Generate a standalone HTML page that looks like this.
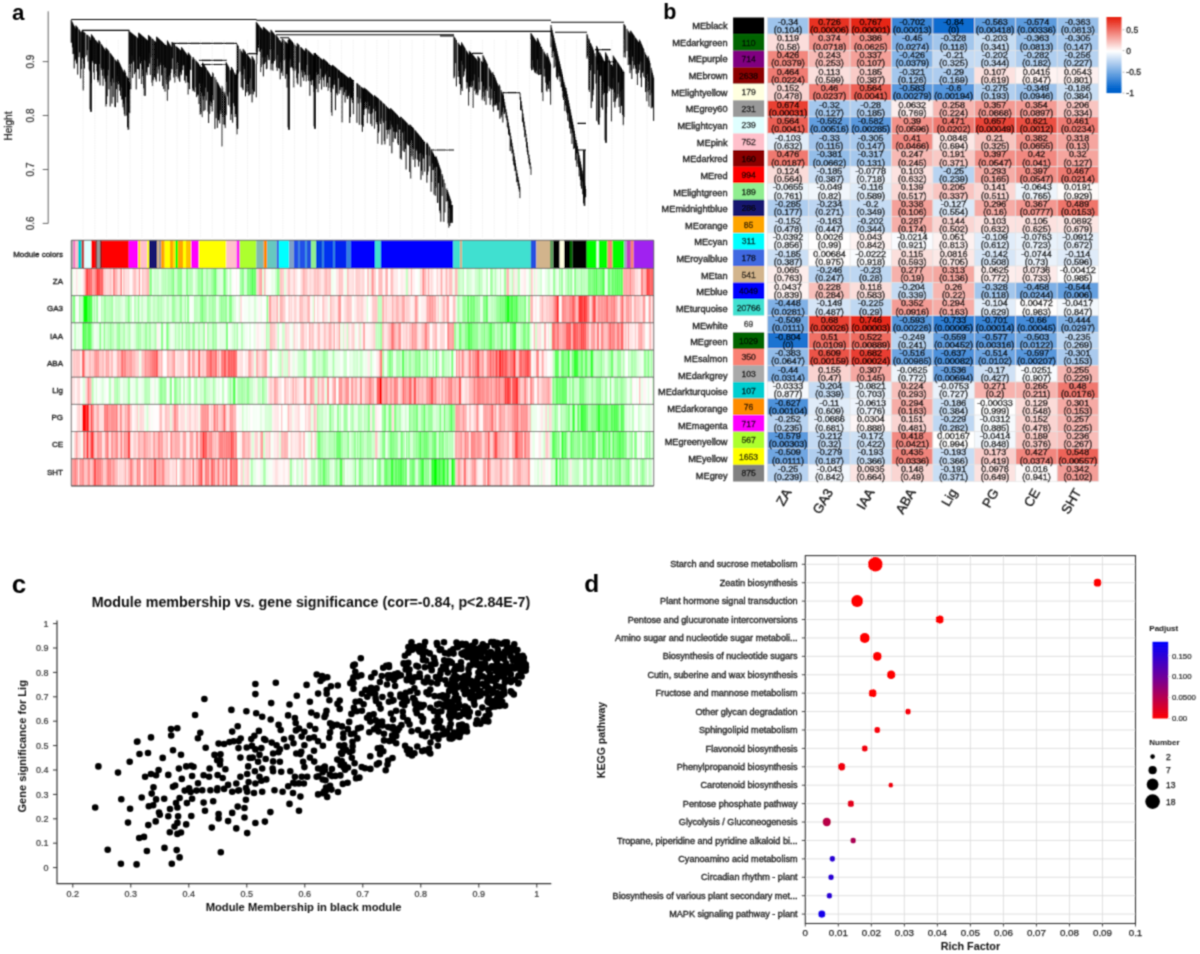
<!DOCTYPE html>
<html><head><meta charset="utf-8"><title>Figure</title><style>
*{margin:0;padding:0}
html,body{width:1200px;height:954px;background:#fff;overflow:hidden}
svg{display:block}
text{font-family:"Liberation Sans",sans-serif}
.lab{font-size:23px;font-weight:bold;fill:#000}
.rl{font-size:9.2px;text-anchor:end;fill:#111;stroke:#111;stroke-width:0.3px}
.bn{font-size:8.6px;text-anchor:middle;fill:#000;stroke:#000;stroke-width:0.3px}
.ct text{font-size:9px;text-anchor:middle;fill:#000;stroke:#000;stroke-width:0.42px}
.cl{font-size:13.3px;text-anchor:end;fill:#111;stroke:#111;stroke-width:0.3px}
.lgt{font-size:8.5px;fill:#222;stroke:#222;stroke-width:0.3px}
.dl{font-size:9.1px;text-anchor:end;fill:#111;stroke:#111;stroke-width:0.3px}
.dx{font-size:9.8px;text-anchor:middle;fill:#222;stroke:#222;stroke-width:0.25px}
.dax{font-size:10.8px;font-weight:bold;text-anchor:middle;fill:#111}
.day{font-size:10.6px;font-weight:bold;text-anchor:middle;fill:#111}
.lgb{font-size:8px;font-weight:bold;fill:#111}
.lgs{font-size:7.8px;fill:#222;stroke:#222;stroke-width:0.2px}
.lgn{font-size:8.5px;fill:#111;stroke:#111;stroke-width:0.25px}
.ct1{font-size:14.3px;font-weight:bold;text-anchor:middle;fill:#111}
.cy{font-size:9px;text-anchor:end;fill:#333;stroke:#333;stroke-width:0.2px}
.cx{font-size:9px;text-anchor:middle;fill:#333;stroke:#333;stroke-width:0.2px}
.cxl{font-size:11.2px;font-weight:bold;text-anchor:middle;fill:#111}
.cyl{font-size:11.1px;font-weight:bold;text-anchor:middle;fill:#111}
.al{font-size:8px;text-anchor:end;fill:#111;stroke:#111;stroke-width:0.3px}
.ay{font-size:10px;text-anchor:middle;fill:#333;stroke:#333;stroke-width:0.25px}
.ayl{font-size:10px;text-anchor:middle;fill:#222;stroke:#222;stroke-width:0.25px}
</style></head>
<body><svg width="1200" height="954" viewBox="0 0 1200 954">
<defs><filter id="bl" x="0" y="0" width="1200" height="954" filterUnits="userSpaceOnUse"><feConvolveMatrix order="3" kernelMatrix="0.04387 0.12171 0.04387 0.12171 0.33767 0.12171 0.04387 0.12171 0.04387" edgeMode="duplicate"/></filter></defs>
<rect width="1200" height="954" fill="#fff"/>
<g filter="url(#bl)">
<g id="pa">
<text x="11.9" y="19.6" class="lab" style="font-size:22.3px">a</text>
<path d="M48.2,11.3V223.4" stroke="#555" stroke-width="0.9" fill="none"/>
<line x1="42.7" x2="48.2" y1="61.6" y2="61.6" stroke="#555" stroke-width="0.9"/>
<text transform="translate(34.3,61.6) rotate(-90)" class="ay">0.9</text>
<line x1="42.7" x2="48.2" y1="115.5" y2="115.5" stroke="#555" stroke-width="0.9"/>
<text transform="translate(34.3,115.5) rotate(-90)" class="ay">0.8</text>
<line x1="42.7" x2="48.2" y1="169.5" y2="169.5" stroke="#555" stroke-width="0.9"/>
<text transform="translate(34.3,169.5) rotate(-90)" class="ay">0.7</text>
<line x1="42.7" x2="48.2" y1="223.4" y2="223.4" stroke="#555" stroke-width="0.9"/>
<text transform="translate(34.3,223.4) rotate(-90)" class="ay">0.6</text>
<text transform="translate(11.6,126) rotate(-90)" class="ayl">Height</text>
<path d="M83.0,40V238M94.8,40V238M106.5,40V238M118.2,40V238M130.0,40V238M141.8,40V238M153.5,40V238M165.2,40V238M177.0,40V238M188.8,40V238M200.5,40V238M212.2,40V238M224.0,40V238M235.8,40V238M247.5,40V238M259.2,40V238M271.0,40V238M282.8,40V238M294.5,40V238M306.2,40V238M318.0,40V238M329.8,40V238M341.5,40V238M353.2,40V238M365.0,40V238M376.8,40V238M388.5,40V238M400.2,40V238M412.0,40V238M423.8,40V238M435.5,40V238M447.2,40V238M459.0,40V238M470.8,40V238M482.5,40V238M494.2,40V238M506.0,40V238M517.8,40V238M529.5,40V238M541.2,40V238M553.0,40V238M564.8,40V238M576.5,40V238M588.2,40V238M600.0,40V238M611.8,40V238M623.5,40V238M635.2,40V238M647.0,40V238" stroke="#ececec" stroke-width="0.8" stroke-dasharray="1.5,1" fill="none"/>
<path d="M71.20,20.0v22.7M71.80,21.2v21.3M72.40,22.4v25.0M73.00,23.6v30.5M73.60,24.8v29.0M74.20,26.0v42.5M74.80,27.2v33.9M75.40,28.4v31.1M75.91,25.4v29.0M76.51,26.2v37.4M77.11,26.9v35.3M77.71,27.7v46.9M78.91,29.2v28.0M79.51,29.9v22.5M80.71,31.4v47.0M81.31,32.1v37.0M82.00,30.5v28.2M82.60,31.0v26.6M83.20,31.5v59.0M83.80,32.0v32.2M84.40,32.5v36.0M85.00,33.0v23.9M86.80,34.5v20.8M87.40,35.0v15.1M88.00,35.4v26.2M89.20,36.4v33.1M89.80,36.9v34.4M91.00,37.9v27.9M91.41,34.3v48.9M92.01,35.1v24.9M92.61,35.9v25.4M93.21,36.7v26.3M93.81,37.5v34.9M94.41,38.3v41.5M95.61,39.9v23.8M96.21,40.7v23.3M96.81,41.5v30.0M97.41,42.3v37.7M98.01,43.1v39.2M98.61,43.9v36.4M98.84,40.2v35.2M99.44,41.1v22.9M100.04,42.1v43.3M101.24,44.0v24.0M101.84,44.9v25.1M102.44,45.8v30.0M103.04,46.8v39.0M103.64,47.7v21.5M104.24,48.7v30.0M104.84,49.6v26.1M105.44,50.6v31.1M105.96,47.4v59.2M106.56,48.2v56.1M107.16,49.0v47.3M107.76,49.8v25.8M108.36,50.6v19.2M108.96,51.4v38.0M110.16,53.0v53.5M110.76,53.8v28.4M111.36,54.6v31.3M111.96,55.4v48.2M112.56,56.2v22.3M113.16,57.0v39.9M113.76,57.8v24.8M114.96,59.4v47.5M115.56,60.2v47.0M116.16,61.0v21.1M116.76,61.8v27.4M117.36,62.6v13.6M117.62,59.0v43.7M118.22,60.3v21.4M118.82,61.6v23.0M119.42,62.9v27.9M120.02,64.2v21.2M120.62,65.5v30.3M121.22,66.8v20.7M121.82,68.2v31.4M122.42,69.5v29.8M123.02,70.8v36.5M123.62,72.1v31.6M124.22,73.4v36.8M124.37,69.7v44.6M124.97,71.3v44.8M125.57,72.8v24.2M126.77,75.8v39.8M127.37,77.3v25.3M127.97,78.9v13.9M128.57,80.4v15.1M129.17,81.9v30.6M129.77,83.4v29.8M129.00,31.0v59.8M129.60,31.5v32.6M130.20,31.9v40.3M130.80,32.4v57.0M131.40,32.9v30.8M132.00,33.4v22.2M132.60,33.8v44.1M133.20,34.3v27.5M133.80,34.8v25.6M134.40,35.3v38.8M135.00,35.7v31.9M135.60,36.2v36.1M136.20,36.7v52.7M137.40,37.6v31.4M138.00,38.1v21.7M138.60,38.6v30.4M138.69,32.7v36.6M139.29,33.2v45.6M139.89,33.7v23.0M140.49,34.2v29.4M141.09,34.7v26.1M141.69,35.3v48.9M142.29,35.8v33.5M142.89,36.3v39.9M143.49,36.8v51.6M144.09,37.3v58.5M144.69,37.8v22.4M145.29,38.4v57.4M145.89,38.9v22.3M146.49,39.4v33.1M147.09,39.9v35.3M147.69,40.4v26.9M148.29,40.9v18.1M148.46,35.1v32.0M149.06,35.7v17.5M149.66,36.2v27.4M150.26,36.8v38.1M150.86,37.3v20.1M152.06,38.5v44.1M152.66,39.0v47.1M153.26,39.6v40.8M154.46,40.7v36.6M155.06,41.3v29.2M155.66,41.8v37.7M156.26,42.4v39.3M156.63,36.7v30.2M157.23,37.3v21.4M157.83,37.8v35.8M158.43,38.4v27.9M159.03,38.9v30.6M159.63,39.4v42.0M160.23,40.0v25.1M160.83,40.5v22.2M161.43,41.1v34.3M162.03,41.6v31.7M162.63,42.2v44.0M163.23,42.7v22.5M163.83,43.2v45.8M164.43,43.8v24.0M165.03,44.3v47.4M165.63,44.9v22.6M166.23,45.4v34.9M166.83,46.0v38.2M167.19,40.3v60.5M167.79,41.2v35.9M168.39,42.2v47.3M168.99,43.2v38.5M169.59,44.1v31.3M170.19,45.1v35.2M170.79,46.1v26.8M171.39,47.0v21.9M172.00,42.0v27.3M172.60,42.6v15.8M173.80,43.7v33.8M174.40,44.3v29.7M175.00,44.9v37.7M176.20,46.0v30.6M176.80,46.6v22.4M177.40,47.2v15.2M178.00,47.8v30.7M178.60,48.4v28.1M179.20,48.9v32.0M179.80,49.5v32.4M180.40,50.1v22.1M181.00,50.7v24.6M181.57,47.2v27.1M182.17,48.0v17.7M182.77,48.8v21.3M183.37,49.6v15.8M183.97,50.4v14.4M184.57,51.2v29.4M185.17,52.0v23.0M185.77,52.8v30.0M186.37,53.6v22.4M186.97,54.4v20.2M187.57,55.2v26.9M188.17,56.0v38.8M188.40,52.3v30.6M189.00,53.3v20.1M189.60,54.3v35.0M190.20,55.3v13.7M190.80,56.3v13.8M192.60,59.3v29.2M193.00,57.0v34.2M193.60,57.7v32.6M194.80,59.2v32.9M196.00,60.6v26.8M196.60,61.3v35.8M197.20,62.0v32.0M197.80,62.8v32.8M198.40,63.5v31.2M199.00,64.2v39.8M199.60,64.9v18.6M200.20,65.7v49.2M200.80,66.4v46.7M201.40,67.1v25.5M202.00,67.8v49.4M202.60,68.5v27.7M202.64,62.6v21.2M203.24,63.5v36.3M203.84,64.5v46.7M204.44,65.4v30.7M205.04,66.4v43.7M205.64,67.3v20.4M206.24,68.3v32.2M207.44,70.2v21.7M208.04,71.2v40.5M208.64,72.1v50.9M209.24,73.1v32.0M209.84,74.0v39.9M210.44,75.0v26.4M211.04,75.9v30.5M211.64,76.9v26.1M212.24,77.8v33.8M212.54,72.3v22.7M213.14,73.5v26.6M214.94,77.1v51.8M216.14,79.6v38.7M217.34,82.0v45.9M217.94,83.2v30.2M218.54,84.4v35.9M219.14,85.6v31.9M219.74,86.8v36.6M220.34,88.0v22.3M220.94,89.3v24.7M222.14,91.7v54.8M222.17,85.8v26.8M222.77,87.7v29.3M223.97,91.5v33.2M224.57,93.4v31.8M225.17,95.4v32.8M225.77,97.3v17.1M226.00,62.0v53.3M226.60,63.1v18.8M227.20,64.2v30.3M227.80,65.3v31.2M228.40,66.4v38.8M229.00,67.5v24.7M230.20,69.7v37.1M230.80,70.8v49.2M231.40,71.8v42.5M231.47,67.0v26.0M232.07,68.1v42.0M232.67,69.1v53.6M233.27,70.2v33.1M234.47,72.4v33.8M235.07,73.5v43.6M235.67,74.6v39.5M236.27,75.7v33.3M236.87,76.8v57.7M237.00,44.0v34.1M237.60,45.0v33.3M238.20,45.9v27.6M240.00,48.9v22.7M241.20,50.8v36.5M241.80,51.8v22.9M242.40,52.7v35.7M243.00,53.7v20.9M243.12,48.9v41.2M243.72,49.7v16.5M244.32,50.5v18.5M244.92,51.3v27.9M245.52,52.2v44.1M246.72,53.8v38.8M247.32,54.6v29.7M247.92,55.4v36.0M248.52,56.2v39.6M249.12,57.0v24.9M249.72,57.9v36.8M250.32,58.7v19.7M250.92,59.5v34.6M252.09,56.1v46.3M252.69,57.2v32.3M253.29,58.3v36.1M253.89,59.4v32.1M254.49,60.4v31.2M256.29,63.7v33.6M256.30,22.0v30.2M256.90,22.8v41.3M257.50,23.5v31.2M258.10,24.3v20.5M258.70,25.0v23.0M259.30,25.8v25.9M260.50,27.3v44.9M261.10,28.0v39.1M261.70,28.8v20.5M262.30,29.5v28.0M262.90,30.3v34.3M263.35,26.9v49.5M263.95,27.4v29.1M264.55,27.9v36.0M265.15,28.5v28.9M265.75,29.0v33.3M266.35,29.6v39.6M266.95,30.1v38.5M267.55,30.7v24.2M268.15,31.2v28.7M268.75,31.8v25.7M269.35,32.3v27.8M269.95,32.8v17.1M271.00,29.8v40.5M271.60,30.6v33.3M272.20,31.4v31.4M272.80,32.1v38.6M273.40,32.9v30.7M274.00,33.7v16.0M274.60,34.5v26.5M276.00,35.0v24.5M276.60,35.8v31.7M277.20,36.6v34.3M277.80,37.4v17.6M278.40,38.3v29.9M279.60,39.9v28.8M280.20,40.7v38.6M280.80,41.5v20.9M281.40,42.3v30.5M282.00,43.1v23.8M282.27,38.5v32.3M282.87,39.1v36.9M284.07,40.2v20.2M285.27,41.4v37.3M285.87,42.0v16.9M286.47,42.6v31.5M287.07,43.1v44.5M287.67,43.7v30.8M288.27,44.3v17.1M288.87,44.9v34.1M289.00,38.0v23.3M289.60,38.7v19.2M290.20,39.3v20.0M290.80,40.0v27.7M291.40,40.7v26.2M292.00,41.4v24.6M292.60,42.0v26.2M293.20,42.7v27.8M293.80,43.4v44.1M295.00,44.7v26.0M296.20,46.1v22.7M296.80,46.8v31.4M297.23,43.2v39.7M297.83,43.9v40.5M298.43,44.5v29.0M299.03,45.1v17.5M300.83,47.0v39.8M301.43,47.6v22.5M302.03,48.2v24.1M302.63,48.9v28.5M303.23,49.5v20.8M303.83,50.1v30.8M304.43,50.7v21.3M305.03,51.4v23.9M305.63,52.0v22.8M305.66,48.0v20.7M306.26,48.6v32.9M306.86,49.2v15.6M308.06,50.3v25.3M308.66,50.9v29.9M309.26,51.5v23.2M309.86,52.1v43.7M310.46,52.6v28.7M311.06,53.2v27.0M311.66,53.8v31.2M312.26,54.4v25.8M312.86,54.9v24.8M313.46,55.5v30.9M314.06,56.1v35.9M314.66,56.7v29.9M315.00,53.0v23.0M315.60,53.5v24.2M316.20,54.1v34.8M316.80,54.6v17.7M317.40,55.2v19.9M318.00,55.7v36.7M318.60,56.3v17.8M319.20,56.8v27.0M320.40,57.9v10.8M321.00,58.5v21.4M321.60,59.0v30.5M322.20,59.6v17.1M322.80,60.1v17.5M323.47,58.7v21.5M324.07,59.3v27.6M324.67,59.8v16.9M325.27,60.4v14.3M325.87,60.9v12.2M326.47,61.4v25.5M327.07,62.0v9.0M327.67,62.5v20.3M328.27,63.1v27.8M328.87,63.6v24.5M329.47,64.1v13.0M330.67,65.2v27.0M331.27,65.8v46.6M331.87,66.3v49.5M332.47,66.8v20.8M332.48,64.9v14.1M333.08,65.4v23.8M333.68,65.8v19.1M334.28,66.3v18.4M334.88,66.8v13.1M335.48,67.3v42.9M336.08,67.8v20.2M336.68,68.3v25.0M337.28,68.8v26.5M338.48,69.7v8.6M339.08,70.2v23.5M339.68,70.7v19.1M340.28,71.2v16.1M340.88,71.7v18.7M341.48,72.2v15.1M342.08,72.7v49.8M342.68,73.2v14.0M343.28,73.6v21.5M343.88,74.1v12.6M344.48,74.6v17.7M345.08,75.1v27.5M345.68,75.6v14.3M346.28,76.1v20.5M346.88,76.6v13.3M347.48,77.1v21.8M348.08,77.6v17.5M348.68,78.0v18.0M349.28,78.5v15.0M349.73,76.9v46.1M350.33,77.4v39.6M350.93,77.9v20.1M351.53,78.5v19.2M352.13,79.0v21.2M352.73,79.5v23.6M353.33,80.0v34.4M356.93,83.1v39.7M357.53,83.6v13.6M358.13,84.2v19.3M359.33,85.2v39.6M359.93,85.7v12.9M361.13,86.8v15.8M361.73,87.3v37.6M362.33,87.8v44.0M362.93,88.3v21.2M363.53,88.8v37.9M364.13,89.4v25.8M364.19,87.4v19.6M364.79,88.0v21.3M365.39,88.5v13.3M365.99,89.1v19.3M366.59,89.6v18.7M367.19,90.2v33.0M367.79,90.7v11.0M368.39,91.3v18.1M368.99,91.8v21.7M369.59,92.4v13.6M370.19,92.9v21.1M370.79,93.5v30.4M371.39,94.0v20.0M371.99,94.6v31.6M372.59,95.1v17.6M373.79,96.2v12.7M374.39,96.8v22.6M374.70,95.1v33.6M375.30,95.6v15.6M375.90,96.2v10.2M376.50,96.8v25.5M377.10,97.3v27.3M377.70,97.9v45.8M378.30,98.5v34.3M378.90,99.0v32.4M380.10,100.2v21.3M380.70,100.7v23.3M381.30,101.3v17.1M381.90,101.9v42.8M383.10,103.0v17.8M383.70,103.6v19.2M384.30,104.1v36.9M384.90,104.7v39.7M386.10,105.8v15.1M386.70,106.4v23.5M387.30,107.0v31.8M387.90,107.5v26.8M388.50,108.1v22.1M389.10,108.7v19.0M389.70,109.2v36.7M390.30,109.8v19.6M390.66,108.1v12.6M391.26,108.8v15.9M391.86,109.4v43.9M392.46,110.0v17.4M393.06,110.6v31.5M393.66,111.2v20.4M394.26,111.8v20.1M394.86,112.5v25.8M395.46,113.1v25.7M396.06,113.7v17.9M396.66,114.3v18.0M397.26,114.9v9.6M397.86,115.5v27.9M398.46,116.2v28.8M399.66,117.4v12.4M400.26,118.0v40.5M400.68,116.4v29.2M401.28,117.1v42.6M402.48,118.3v14.3M403.08,118.9v31.9M403.68,119.6v21.1M404.28,120.2v31.8M404.88,120.8v10.6M405.48,121.4v27.5M406.08,122.1v47.4M406.68,122.7v20.1M407.28,123.3v21.2M408.48,124.6v20.6M409.08,125.2v20.4M409.68,125.8v46.1M410.17,124.3v19.3M410.77,125.0v53.6M411.37,125.8v14.6M411.97,126.5v29.7M412.57,127.2v21.1M413.17,127.9v32.0M413.77,128.7v20.2M414.97,130.1v37.0M415.57,130.8v28.0M416.17,131.5v17.4M416.77,132.3v18.4M417.37,133.0v26.7M417.97,133.7v20.0M418.57,134.4v32.1M419.17,135.2v18.6M419.77,135.9v25.7M420.37,136.6v16.5M420.97,137.3v42.5M421.57,138.1v32.6M422.17,138.8v15.7M422.77,139.5v35.9M423.37,140.2v18.3M423.97,141.0v15.0M424.57,141.7v30.0M426.37,143.9v11.0M426.88,142.5v40.2M427.48,143.5v31.4M428.08,144.5v27.1M429.28,146.5v9.1M429.88,147.6v18.7M431.08,149.6v42.1M431.68,150.6v31.4M432.28,151.6v11.9M432.88,152.6v17.5M433.48,153.7v16.3M434.08,154.7v39.9M434.68,155.7v12.0M435.28,156.7v39.3M435.88,157.7v29.7M436.04,156.0v10.2M436.64,157.8v9.2M437.24,159.6v43.3M437.84,161.4v41.4M438.44,163.2v19.9M439.04,165.0v11.2M439.64,166.8v43.9M440.24,168.6v44.6M440.84,170.4v51.3M442.04,174.0v21.9M442.64,175.8v11.4M443.84,179.4v42.4M445.04,183.1v29.4M446.84,188.5v13.1M447.44,190.3v10.6M448.04,192.1v31.3M448.64,193.9v33.9M449.24,195.7v12.6M449.84,197.5v28.6M450.44,199.3v23.8M451.04,201.1v12.2M454.00,36.5v41.8M454.60,37.4v39.1M455.20,38.2v25.0M456.40,39.9v46.5M458.20,42.5v34.4M458.80,43.4v27.6M459.40,44.2v40.0M460.00,45.1v33.2M460.60,46.0v48.9M461.20,46.8v41.7M461.56,42.3v18.5M462.16,43.4v47.6M462.76,44.4v20.3M463.36,45.4v31.4M463.96,46.4v29.0M464.56,47.4v24.0M465.16,48.4v20.3M466.36,50.5v31.6M466.96,51.5v37.1M467.56,52.5v30.1M468.16,53.5v33.3M468.76,54.6v51.0M469.36,55.6v36.4M469.41,50.7v35.7M470.01,51.4v31.3M470.61,52.1v34.7M471.21,52.9v34.8M471.81,53.6v27.9M472.41,54.4v31.7M473.01,55.1v52.8M473.61,55.8v24.7M474.21,56.6v17.8M474.81,57.3v33.4M475.41,58.0v31.0M476.01,58.8v35.8M476.61,59.5v33.5M477.81,61.0v34.2M477.98,56.2v36.2M478.58,57.0v20.4M479.18,57.8v24.4M479.78,58.6v31.2M481.58,61.1v20.6M482.18,61.9v38.4M482.78,62.7v34.9M483.00,55.0v37.0M483.60,56.3v29.9M484.20,57.5v43.7M484.80,58.8v37.3M485.40,60.0v30.0M486.00,61.3v43.5M486.60,62.6v26.1M487.20,63.8v27.1M489.00,67.6v30.3M489.60,68.9v17.7M490.20,70.1v34.7M490.80,71.4v28.8M491.40,72.7v16.1M492.00,73.9v24.6M492.95,71.9v34.7M493.55,73.5v38.3M494.15,75.1v16.1M494.75,76.7v28.9M495.35,78.2v27.2M495.95,79.8v25.2M496.55,81.4v21.9M497.15,83.0v22.6M497.75,84.5v25.7M498.35,86.1v24.2M499.28,84.6v17.8M499.88,86.4v32.3M501.08,90.1v27.2M501.68,91.9v23.4M502.28,93.8v18.2M502.88,95.6v26.9M503.00,92.0v10.2M503.60,95.4v12.3M504.20,98.8v15.2M504.80,102.2v11.2M505.40,105.6v6.4M506.00,108.9v9.3M506.60,112.3v8.1M507.20,115.7v11.4M507.80,119.1v9.6M508.40,122.5v12.1M509.00,125.9v6.3M509.60,129.3v6.7M510.20,132.7v18.3M510.80,136.0v10.1M511.40,139.4v7.4M512.00,142.8v10.8M512.60,146.2v6.7M513.20,149.6v11.4M513.80,153.0v11.8M514.40,156.4v10.0M515.00,159.8v11.3M515.60,163.2v7.2M516.20,166.5v9.2M516.80,169.9v12.3M517.40,173.3v8.2M518.00,176.7v9.2M518.60,180.1v9.0M519.20,183.5v8.0M519.80,186.9v11.3M520.00,93.0v6.7M520.60,97.1v13.0M521.20,101.2v6.7M521.80,105.3v5.4M522.40,109.4v12.3M523.00,113.5v9.1M523.60,117.5v9.3M524.20,121.6v8.8M524.80,125.7v11.5M525.40,129.8v5.3M526.00,133.9v7.8M526.60,138.0v9.5M527.20,142.1v9.8M527.80,146.2v8.6M528.40,150.3v8.1M529.00,154.4v8.9M529.60,158.5v6.8M530.20,162.5v6.3M530.80,166.6v8.3M531.00,33.0v35.4M531.60,33.9v36.4M532.20,34.9v25.3M532.80,35.8v33.9M533.40,36.7v30.8M534.00,37.7v32.2M534.60,38.6v33.2M535.20,39.6v33.6M535.80,40.5v32.2M536.40,41.4v29.4M537.00,42.4v31.7M537.39,38.0v21.4M537.99,39.2v34.5M538.59,40.4v34.6M539.19,41.7v33.4M539.79,42.9v26.0M540.39,44.1v30.9M541.59,46.6v45.9M542.79,49.1v52.1M543.99,51.5v25.0M544.59,52.7v16.1M545.19,54.0v22.5M545.79,55.2v27.5M546.39,56.4v34.1M546.99,57.7v34.0M547.16,53.0v31.9M547.76,54.9v29.4M548.36,56.8v31.8M548.96,58.6v30.3M549.56,60.5v20.8M550.16,62.4v29.3M550.76,64.3v40.4M551.00,25.0v22.3M551.60,27.6v9.0M552.20,30.2v27.5M552.80,32.8v19.9M553.40,35.4v15.6M554.00,38.0v30.1M554.60,40.6v15.7M555.20,43.2v23.4M555.80,45.8v13.8M556.40,48.4v29.0M557.00,51.0v20.3M557.60,53.6v25.9M558.20,56.2v20.6M558.80,58.8v14.1M559.40,61.4v14.7M560.00,64.0v17.6M560.60,66.6v10.5M561.20,69.2v18.1M561.80,71.8v15.1M562.40,74.4v16.6M563.00,77.0v20.4M563.60,79.6v20.3M564.20,82.2v14.2M564.80,84.8v26.4M565.40,87.4v18.0M566.00,88.0v9.0M566.60,91.1v21.6M567.20,94.1v20.5M567.80,97.2v23.5M568.40,100.2v13.0M569.00,103.3v18.6M569.60,106.4v22.0M570.20,109.4v14.2M570.80,112.5v21.1M571.40,115.5v13.5M572.00,118.6v25.3M572.60,121.7v11.1M573.20,124.7v12.8M573.80,127.8v21.3M574.40,130.8v17.3M575.00,133.9v10.5M575.60,137.0v23.3M576.20,140.0v13.9M576.80,143.1v23.8M577.40,146.1v7.1M578.00,149.2v14.4M578.60,152.3v15.1M579.20,155.3v21.1M579.80,158.4v12.0M580.40,161.4v18.5M581.00,164.5v21.6M581.60,167.6v21.1M582.20,170.6v10.9M582.80,173.7v20.6M583.40,176.7v11.4M584.00,179.8v18.6M584.60,182.9v14.7M585.20,185.9v10.6M585.80,189.0v8.3M587.00,34.0v24.6M587.60,35.5v20.9M588.80,38.4v51.7M589.40,39.9v52.1M590.60,42.9v27.5M591.20,44.4v63.7M591.80,45.9v18.8M592.40,47.3v54.2M593.00,48.8v46.5M593.60,50.3v39.4M594.80,53.3v20.8M596.00,56.2v27.4M596.60,57.7v25.2M596.69,45.9v74.9M597.29,47.2v23.0M597.89,48.4v16.1M598.49,49.7v40.1M599.69,52.1v65.4M600.29,53.4v21.4M600.89,54.6v21.5M601.49,55.9v51.5M602.09,57.1v32.7M602.69,58.4v51.2M603.29,59.6v35.0M603.89,60.8v21.4M604.49,62.1v30.9M605.09,63.3v19.0M605.56,52.3v36.0M606.16,53.5v59.9M606.76,54.7v52.2M607.36,55.9v37.3M607.96,57.2v29.1M609.16,59.6v31.6M609.76,60.8v26.5M610.36,62.0v26.7M611.56,64.4v57.1M612.16,65.6v24.2M612.76,66.8v21.1M613.08,55.4v22.5M613.68,56.4v45.5M614.28,57.3v35.1M614.88,58.2v49.4M615.48,59.1v42.4M616.08,60.0v38.9M617.28,61.8v35.8M617.88,62.7v31.3M618.48,63.6v18.9M619.08,64.5v42.4M619.68,65.4v32.0M620.28,66.4v46.7M620.88,67.3v24.2M621.48,68.2v37.7M622.08,69.1v20.3M622.68,70.0v44.9M623.28,70.9v54.4M623.88,71.8v45.4M624.00,24.0v33.4M624.60,25.0v27.5M625.20,25.9v31.7M627.00,28.8v22.3M628.20,30.7v34.3M628.80,31.7v25.5M629.40,32.6v31.9M630.00,33.6v39.6M630.60,34.6v30.2M630.67,30.7v18.9M631.27,31.5v38.7M631.87,32.4v46.6M632.47,33.3v23.4M633.07,34.1v27.0M633.67,35.0v33.8M634.27,35.9v29.4M635.47,37.6v31.1M636.07,38.5v35.0M636.67,39.4v34.7M637.27,40.2v44.8M637.87,41.1v23.1M638.47,42.0v30.9M639.07,42.8v27.3M639.60,39.6v24.8M640.20,41.0v20.6M640.80,42.4v35.3M641.40,43.8v43.3M642.00,45.2v17.2M642.60,46.6v26.2M643.20,48.0v23.4M643.80,49.4v27.3M645.00,52.2v25.8M645.60,53.6v38.4M646.20,55.0v32.3M646.80,56.4v44.9M647.40,57.8v16.2M648.00,59.2v32.4M648.23,55.8v25.1M648.83,58.2v48.5M649.43,60.6v29.2M650.03,63.0v32.2M651.23,67.8v40.5M651.83,70.2v22.6M652.43,72.7v34.2M653.03,75.1v33.1M653.63,77.5v43.4M605.1,62.0V140.4M605.7,62.0V142.8M606.3,62.0V142.8M598.1,55.0V122.4M598.7,55.0V124.8M599.3,55.0V124.8M288.1,40.0V127.4M288.7,40.0V129.8M289.3,40.0V129.8M314.1,53.0V126.4M314.7,53.0V128.8M315.3,53.0V128.8M127.6,78.0V127.4M128.2,78.0V129.8M128.8,78.0V129.8M583.6,150.0V203.4M584.2,150.0V205.8M584.8,150.0V205.8M451.1,205.0V220.4M451.7,205.0V222.8M452.3,205.0V222.8M90.1,40.0V109.4M90.7,40.0V111.8M91.3,40.0V111.8M236.6,70.0V126.4M237.2,70.0V128.8M237.8,70.0V128.8" stroke="#000" stroke-width="1.0" fill="none"/>
<path d="M71.2,19.5H256.5M256.3,20.2H551.0M551.0,22.3H624.0M82.0,30.4H129.5M172.0,43.4H237.0M247.0,53.6H257.0M199.0,60.4H226.6M201.0,64.5H226.0M275.0,31.4H551.0M276.0,34.7H454.0M280.0,37.7H289.0M431.0,150.0H454.0M440.0,36.0H454.0M472.0,53.4H483.0M503.0,92.6H520.0M555.0,32.2H587.0M595.0,49.6H611.0M597.0,61.8H617.0M577.0,123.4H586.0M578.0,150.0H586.0" stroke="#000" stroke-width="1.1" fill="none"/>
<rect x="71.30" y="240.3" width="1.95" height="28.10" fill="#b0b0b0"/>
<rect x="73.20" y="240.3" width="2.35" height="28.10" fill="#f070c0"/>
<rect x="75.50" y="240.3" width="2.55" height="28.10" fill="#ffc0cb"/>
<rect x="78.00" y="240.3" width="3.75" height="28.10" fill="#00ced1"/>
<rect x="81.70" y="240.3" width="2.65" height="28.10" fill="#c0302a"/>
<rect x="84.30" y="240.3" width="7.05" height="28.10" fill="#e0ffff"/>
<rect x="91.30" y="240.3" width="4.25" height="28.10" fill="#ff0000"/>
<rect x="95.50" y="240.3" width="1.55" height="28.10" fill="#8b0000"/>
<rect x="97.00" y="240.3" width="3.05" height="28.10" fill="#999999"/>
<rect x="100.00" y="240.3" width="1.85" height="28.10" fill="#8b0000"/>
<rect x="101.80" y="240.3" width="27.05" height="28.10" fill="#ff0000"/>
<rect x="128.80" y="240.3" width="9.25" height="28.10" fill="#ff00ff"/>
<rect x="138.00" y="240.3" width="2.55" height="28.10" fill="#ffd700"/>
<rect x="140.50" y="240.3" width="6.55" height="28.10" fill="#ffc0cb"/>
<rect x="147.00" y="240.3" width="2.05" height="28.10" fill="#ffff00"/>
<rect x="149.00" y="240.3" width="8.05" height="28.10" fill="#191970"/>
<rect x="157.00" y="240.3" width="2.05" height="28.10" fill="#d2b48c"/>
<rect x="159.00" y="240.3" width="2.05" height="28.10" fill="#999999"/>
<rect x="161.00" y="240.3" width="3.75" height="28.10" fill="#ffa500"/>
<rect x="164.70" y="240.3" width="5.35" height="28.10" fill="#ffff00"/>
<rect x="170.00" y="240.3" width="3.05" height="28.10" fill="#ffa500"/>
<rect x="173.00" y="240.3" width="2.55" height="28.10" fill="#ffe000"/>
<rect x="175.50" y="240.3" width="2.55" height="28.10" fill="#00ff00"/>
<rect x="178.00" y="240.3" width="5.05" height="28.10" fill="#ffa500"/>
<rect x="183.00" y="240.3" width="3.05" height="28.10" fill="#ffff00"/>
<rect x="186.00" y="240.3" width="5.35" height="28.10" fill="#ffc000"/>
<rect x="191.30" y="240.3" width="7.55" height="28.10" fill="#ff00ff"/>
<rect x="198.80" y="240.3" width="27.55" height="28.10" fill="#ffff00"/>
<rect x="226.30" y="240.3" width="10.45" height="28.10" fill="#ffc0cb"/>
<rect x="236.70" y="240.3" width="3.05" height="28.10" fill="#ff00ff"/>
<rect x="239.70" y="240.3" width="16.65" height="28.10" fill="#adff2f"/>
<rect x="256.30" y="240.3" width="7.45" height="28.10" fill="#7fb8b0"/>
<rect x="263.70" y="240.3" width="3.35" height="28.10" fill="#ff8c00"/>
<rect x="267.00" y="240.3" width="9.75" height="28.10" fill="#66c8c0"/>
<rect x="276.70" y="240.3" width="2.35" height="28.10" fill="#4169e1"/>
<rect x="279.00" y="240.3" width="10.05" height="28.10" fill="#00ffff"/>
<rect x="289.00" y="240.3" width="5.05" height="28.10" fill="#7fa0c8"/>
<rect x="294.00" y="240.3" width="4.05" height="28.10" fill="#2050e8"/>
<rect x="298.00" y="240.3" width="2.05" height="28.10" fill="#4080e0"/>
<rect x="300.00" y="240.3" width="5.05" height="28.10" fill="#2050e8"/>
<rect x="305.00" y="240.3" width="2.05" height="28.10" fill="#4090e0"/>
<rect x="307.00" y="240.3" width="4.05" height="28.10" fill="#2050e0"/>
<rect x="311.00" y="240.3" width="5.05" height="28.10" fill="#90ee90"/>
<rect x="316.00" y="240.3" width="6.05" height="28.10" fill="#0040e0"/>
<rect x="322.00" y="240.3" width="2.05" height="28.10" fill="#3080e0"/>
<rect x="324.00" y="240.3" width="9.05" height="28.10" fill="#0030f0"/>
<rect x="333.00" y="240.3" width="2.05" height="28.10" fill="#3080e0"/>
<rect x="335.00" y="240.3" width="11.75" height="28.10" fill="#0020f0"/>
<rect x="346.70" y="240.3" width="4.15" height="28.10" fill="#3080e0"/>
<rect x="350.80" y="240.3" width="24.25" height="28.10" fill="#0000ff"/>
<rect x="375.00" y="240.3" width="5.85" height="28.10" fill="#40e0d0"/>
<rect x="380.80" y="240.3" width="72.55" height="28.10" fill="#0000ff"/>
<rect x="453.30" y="240.3" width="6.75" height="28.10" fill="#40e0d0"/>
<rect x="460.00" y="240.3" width="2.05" height="28.10" fill="#d2b48c"/>
<rect x="462.00" y="240.3" width="68.85" height="28.10" fill="#40e0d0"/>
<rect x="530.80" y="240.3" width="5.55" height="28.10" fill="#2850e0"/>
<rect x="536.30" y="240.3" width="13.75" height="28.10" fill="#d2b48c"/>
<rect x="550.00" y="240.3" width="3.35" height="28.10" fill="#60a060"/>
<rect x="553.30" y="240.3" width="6.45" height="28.10" fill="#000000"/>
<rect x="559.70" y="240.3" width="4.55" height="28.10" fill="#ffffe0"/>
<rect x="564.20" y="240.3" width="5.85" height="28.10" fill="#000000"/>
<rect x="570.00" y="240.3" width="2.55" height="28.10" fill="#006400"/>
<rect x="572.50" y="240.3" width="14.25" height="28.10" fill="#000000"/>
<rect x="586.70" y="240.3" width="10.05" height="28.10" fill="#00ff00"/>
<rect x="596.70" y="240.3" width="2.05" height="28.10" fill="#ffffff"/>
<rect x="598.70" y="240.3" width="8.85" height="28.10" fill="#00ff00"/>
<rect x="607.50" y="240.3" width="5.05" height="28.10" fill="#fa8072"/>
<rect x="612.50" y="240.3" width="11.75" height="28.10" fill="#00ff00"/>
<rect x="624.20" y="240.3" width="2.55" height="28.10" fill="#a0a0c0"/>
<rect x="626.70" y="240.3" width="4.15" height="28.10" fill="#c040c0"/>
<rect x="630.80" y="240.3" width="2.95" height="28.10" fill="#fa8072"/>
<rect x="633.70" y="240.3" width="20.05" height="28.10" fill="#a020f0"/>
<rect x="71.30" y="268.40" width="1.85" height="27.19" fill="#daffda"/>
<rect x="73.10" y="268.40" width="1.97" height="27.19" fill="#fff6f6"/>
<rect x="75.01" y="268.40" width="1.26" height="27.19" fill="#f3fff3"/>
<rect x="76.22" y="268.40" width="1.06" height="27.19" fill="#ffdddd"/>
<rect x="77.23" y="268.40" width="1.05" height="27.19" fill="#ffeded"/>
<rect x="78.23" y="268.40" width="3.01" height="27.19" fill="#f2fff2"/>
<rect x="81.19" y="268.40" width="2.29" height="27.19" fill="#fff8f8"/>
<rect x="83.42" y="268.40" width="2.01" height="27.19" fill="#ffcaca"/>
<rect x="85.39" y="268.40" width="1.27" height="27.19" fill="#ff3f3f"/>
<rect x="86.61" y="268.40" width="1.82" height="27.19" fill="#ff3737"/>
<rect x="88.37" y="268.40" width="1.99" height="27.19" fill="#ff5a5a"/>
<rect x="90.32" y="268.40" width="1.86" height="27.19" fill="#ff6060"/>
<rect x="92.12" y="268.40" width="3.04" height="27.19" fill="#ffa1a1"/>
<rect x="95.12" y="268.40" width="1.54" height="27.19" fill="#ff6868"/>
<rect x="96.61" y="268.40" width="1.49" height="27.19" fill="#ff2f2f"/>
<rect x="98.05" y="268.40" width="2.71" height="27.19" fill="#ff4c4c"/>
<rect x="100.71" y="268.40" width="2.96" height="27.19" fill="#ff6565"/>
<rect x="103.62" y="268.40" width="2.85" height="27.19" fill="#ffcdcd"/>
<rect x="106.42" y="268.40" width="3.01" height="27.19" fill="#ffd7d7"/>
<rect x="109.38" y="268.40" width="2.56" height="27.19" fill="#ffc4c4"/>
<rect x="111.89" y="268.40" width="1.04" height="27.19" fill="#fffafa"/>
<rect x="112.88" y="268.40" width="1.11" height="27.19" fill="#ff7c7c"/>
<rect x="113.94" y="268.40" width="1.07" height="27.19" fill="#ff9191"/>
<rect x="114.96" y="268.40" width="2.08" height="27.19" fill="#ffb5b5"/>
<rect x="116.99" y="268.40" width="1.27" height="27.19" fill="#ffcece"/>
<rect x="118.21" y="268.40" width="1.11" height="27.19" fill="#ffdfdf"/>
<rect x="119.27" y="268.40" width="1.32" height="27.19" fill="#ffd8d8"/>
<rect x="120.54" y="268.40" width="1.52" height="27.19" fill="#ff6e6e"/>
<rect x="122.01" y="268.40" width="1.31" height="27.19" fill="#fbfffb"/>
<rect x="123.27" y="268.40" width="1.07" height="27.19" fill="#ffa1a1"/>
<rect x="124.29" y="268.40" width="1.32" height="27.19" fill="#ffcfcf"/>
<rect x="125.56" y="268.40" width="1.50" height="27.19" fill="#ffdddd"/>
<rect x="127.01" y="268.40" width="1.05" height="27.19" fill="#ffe3e3"/>
<rect x="128.01" y="268.40" width="1.67" height="27.19" fill="#ffd9d9"/>
<rect x="129.63" y="268.40" width="2.96" height="27.19" fill="#fffafa"/>
<rect x="132.54" y="268.40" width="1.25" height="27.19" fill="#ffc7c7"/>
<rect x="133.74" y="268.40" width="2.85" height="27.19" fill="#ffc1c1"/>
<rect x="136.54" y="268.40" width="2.48" height="27.19" fill="#ffe5e5"/>
<rect x="138.97" y="268.40" width="1.28" height="27.19" fill="#ff8686"/>
<rect x="140.20" y="268.40" width="1.78" height="27.19" fill="#fff7f7"/>
<rect x="141.93" y="268.40" width="0.94" height="27.19" fill="#ffb2b2"/>
<rect x="142.81" y="268.40" width="1.42" height="27.19" fill="#ffd2d2"/>
<rect x="144.18" y="268.40" width="2.16" height="27.19" fill="#ffd2d2"/>
<rect x="146.29" y="268.40" width="1.00" height="27.19" fill="#ffb7b7"/>
<rect x="147.24" y="268.40" width="2.08" height="27.19" fill="#ffaeae"/>
<rect x="149.27" y="268.40" width="2.87" height="27.19" fill="#8bff8b"/>
<rect x="152.09" y="268.40" width="0.89" height="27.19" fill="#e7ffe7"/>
<rect x="152.92" y="268.40" width="1.24" height="27.19" fill="#d9ffd9"/>
<rect x="154.11" y="268.40" width="2.11" height="27.19" fill="#c9ffc9"/>
<rect x="156.17" y="268.40" width="3.01" height="27.19" fill="#cbffcb"/>
<rect x="159.13" y="268.40" width="2.37" height="27.19" fill="#e3ffe3"/>
<rect x="161.45" y="268.40" width="0.89" height="27.19" fill="#a9ffa9"/>
<rect x="162.29" y="268.40" width="2.39" height="27.19" fill="#baffba"/>
<rect x="164.63" y="268.40" width="1.91" height="27.19" fill="#b1ffb1"/>
<rect x="166.49" y="268.40" width="1.55" height="27.19" fill="#c1ffc1"/>
<rect x="167.99" y="268.40" width="2.47" height="27.19" fill="#b2ffb2"/>
<rect x="170.41" y="268.40" width="2.47" height="27.19" fill="#a0ffa0"/>
<rect x="172.84" y="268.40" width="1.62" height="27.19" fill="#76ff76"/>
<rect x="174.41" y="268.40" width="2.83" height="27.19" fill="#ccffcc"/>
<rect x="177.19" y="268.40" width="2.75" height="27.19" fill="#98ff98"/>
<rect x="179.89" y="268.40" width="2.22" height="27.19" fill="#90ff90"/>
<rect x="182.07" y="268.40" width="1.03" height="27.19" fill="#d2ffd2"/>
<rect x="183.04" y="268.40" width="3.04" height="27.19" fill="#dcffdc"/>
<rect x="186.03" y="268.40" width="2.47" height="27.19" fill="#8bff8b"/>
<rect x="188.45" y="268.40" width="1.82" height="27.19" fill="#baffba"/>
<rect x="190.21" y="268.40" width="0.92" height="27.19" fill="#a6ffa6"/>
<rect x="191.08" y="268.40" width="1.91" height="27.19" fill="#b9ffb9"/>
<rect x="192.94" y="268.40" width="2.20" height="27.19" fill="#e9ffe9"/>
<rect x="195.09" y="268.40" width="1.41" height="27.19" fill="#d1ffd1"/>
<rect x="196.45" y="268.40" width="1.30" height="27.19" fill="#b5ffb5"/>
<rect x="197.70" y="268.40" width="2.84" height="27.19" fill="#9eff9e"/>
<rect x="200.49" y="268.40" width="1.57" height="27.19" fill="#92ff92"/>
<rect x="202.01" y="268.40" width="1.29" height="27.19" fill="#78ff78"/>
<rect x="203.25" y="268.40" width="2.79" height="27.19" fill="#ceffce"/>
<rect x="205.98" y="268.40" width="2.13" height="27.19" fill="#abffab"/>
<rect x="208.07" y="268.40" width="2.69" height="27.19" fill="#c4ffc4"/>
<rect x="210.71" y="268.40" width="2.41" height="27.19" fill="#a8ffa8"/>
<rect x="213.07" y="268.40" width="1.84" height="27.19" fill="#83ff83"/>
<rect x="214.86" y="268.40" width="1.32" height="27.19" fill="#61ff61"/>
<rect x="216.14" y="268.40" width="1.54" height="27.19" fill="#a6ffa6"/>
<rect x="217.63" y="268.40" width="3.01" height="27.19" fill="#d9ffd9"/>
<rect x="220.59" y="268.40" width="2.77" height="27.19" fill="#deffde"/>
<rect x="223.31" y="268.40" width="2.41" height="27.19" fill="#71ff71"/>
<rect x="225.67" y="268.40" width="0.89" height="27.19" fill="#7fff7f"/>
<rect x="226.51" y="268.40" width="1.85" height="27.19" fill="#cfffcf"/>
<rect x="228.31" y="268.40" width="1.16" height="27.19" fill="#fefffe"/>
<rect x="229.42" y="268.40" width="2.23" height="27.19" fill="#c3ffc3"/>
<rect x="231.61" y="268.40" width="2.63" height="27.19" fill="#fffbfb"/>
<rect x="234.18" y="268.40" width="2.36" height="27.19" fill="#ffffff"/>
<rect x="236.49" y="268.40" width="0.87" height="27.19" fill="#ffe5e5"/>
<rect x="237.31" y="268.40" width="2.42" height="27.19" fill="#ffffff"/>
<rect x="239.68" y="268.40" width="2.38" height="27.19" fill="#a6ffa6"/>
<rect x="242.02" y="268.40" width="2.20" height="27.19" fill="#8eff8e"/>
<rect x="244.17" y="268.40" width="2.84" height="27.19" fill="#d2ffd2"/>
<rect x="246.96" y="268.40" width="2.90" height="27.19" fill="#89ff89"/>
<rect x="249.81" y="268.40" width="2.23" height="27.19" fill="#7aff7a"/>
<rect x="251.99" y="268.40" width="1.68" height="27.19" fill="#4aff4a"/>
<rect x="253.62" y="268.40" width="2.93" height="27.19" fill="#6dff6d"/>
<rect x="256.50" y="268.40" width="2.28" height="27.19" fill="#ffd6d6"/>
<rect x="258.73" y="268.40" width="2.26" height="27.19" fill="#ffafaf"/>
<rect x="260.94" y="268.40" width="1.32" height="27.19" fill="#ff9494"/>
<rect x="262.21" y="268.40" width="2.03" height="27.19" fill="#deffde"/>
<rect x="264.19" y="268.40" width="1.55" height="27.19" fill="#ffaaaa"/>
<rect x="265.70" y="268.40" width="1.03" height="27.19" fill="#f3fff3"/>
<rect x="266.68" y="268.40" width="2.06" height="27.19" fill="#fff6f6"/>
<rect x="268.69" y="268.40" width="2.63" height="27.19" fill="#fafffa"/>
<rect x="271.27" y="268.40" width="2.61" height="27.19" fill="#e8ffe8"/>
<rect x="273.83" y="268.40" width="1.16" height="27.19" fill="#f5fff5"/>
<rect x="274.94" y="268.40" width="1.99" height="27.19" fill="#cdffcd"/>
<rect x="276.87" y="268.40" width="2.93" height="27.19" fill="#95ff95"/>
<rect x="279.76" y="268.40" width="2.94" height="27.19" fill="#ffc3c3"/>
<rect x="282.64" y="268.40" width="1.49" height="27.19" fill="#ffcccc"/>
<rect x="284.08" y="268.40" width="2.26" height="27.19" fill="#e1ffe1"/>
<rect x="286.29" y="268.40" width="1.54" height="27.19" fill="#ffe3e3"/>
<rect x="287.77" y="268.40" width="2.71" height="27.19" fill="#ffc5c5"/>
<rect x="290.43" y="268.40" width="2.98" height="27.19" fill="#ffe7e7"/>
<rect x="293.36" y="268.40" width="2.11" height="27.19" fill="#ffcbcb"/>
<rect x="295.42" y="268.40" width="2.18" height="27.19" fill="#ffe7e7"/>
<rect x="297.56" y="268.40" width="2.98" height="27.19" fill="#fffdfd"/>
<rect x="300.49" y="268.40" width="2.09" height="27.19" fill="#ffdcdc"/>
<rect x="302.53" y="268.40" width="2.37" height="27.19" fill="#ffb0b0"/>
<rect x="304.85" y="268.40" width="2.96" height="27.19" fill="#ffc7c7"/>
<rect x="307.75" y="268.40" width="1.44" height="27.19" fill="#ffebeb"/>
<rect x="309.14" y="268.40" width="2.64" height="27.19" fill="#ffd6d6"/>
<rect x="311.74" y="268.40" width="1.90" height="27.19" fill="#ffe2e2"/>
<rect x="313.59" y="268.40" width="2.89" height="27.19" fill="#ffc4c4"/>
<rect x="316.42" y="268.40" width="2.56" height="27.19" fill="#ffc2c2"/>
<rect x="318.94" y="268.40" width="2.36" height="27.19" fill="#ffd5d5"/>
<rect x="321.25" y="268.40" width="1.63" height="27.19" fill="#ffe5e5"/>
<rect x="322.83" y="268.40" width="1.12" height="27.19" fill="#ffe4e4"/>
<rect x="323.90" y="268.40" width="1.40" height="27.19" fill="#ffcbcb"/>
<rect x="325.25" y="268.40" width="1.68" height="27.19" fill="#ffafaf"/>
<rect x="326.88" y="268.40" width="2.01" height="27.19" fill="#ffcccc"/>
<rect x="328.84" y="268.40" width="2.25" height="27.19" fill="#ffc4c4"/>
<rect x="331.05" y="268.40" width="2.72" height="27.19" fill="#f0fff0"/>
<rect x="333.72" y="268.40" width="2.48" height="27.19" fill="#f8fff8"/>
<rect x="336.15" y="268.40" width="2.84" height="27.19" fill="#ffe5e5"/>
<rect x="338.94" y="268.40" width="1.33" height="27.19" fill="#ffbcbc"/>
<rect x="340.22" y="268.40" width="2.80" height="27.19" fill="#ffc7c7"/>
<rect x="342.97" y="268.40" width="1.42" height="27.19" fill="#ffeeee"/>
<rect x="344.34" y="268.40" width="2.68" height="27.19" fill="#eeffee"/>
<rect x="346.97" y="268.40" width="1.74" height="27.19" fill="#ffbbbb"/>
<rect x="348.66" y="268.40" width="0.89" height="27.19" fill="#ffc8c8"/>
<rect x="349.49" y="268.40" width="2.98" height="27.19" fill="#ffe4e4"/>
<rect x="352.43" y="268.40" width="1.96" height="27.19" fill="#ffd7d7"/>
<rect x="354.34" y="268.40" width="1.27" height="27.19" fill="#fefffe"/>
<rect x="355.55" y="268.40" width="1.08" height="27.19" fill="#ffadad"/>
<rect x="356.59" y="268.40" width="2.10" height="27.19" fill="#ffcece"/>
<rect x="358.64" y="268.40" width="1.26" height="27.19" fill="#ffc5c5"/>
<rect x="359.84" y="268.40" width="2.89" height="27.19" fill="#ffe0e0"/>
<rect x="362.68" y="268.40" width="0.99" height="27.19" fill="#ffb3b3"/>
<rect x="363.62" y="268.40" width="1.57" height="27.19" fill="#ffe5e5"/>
<rect x="365.14" y="268.40" width="1.98" height="27.19" fill="#fdfffd"/>
<rect x="367.07" y="268.40" width="2.39" height="27.19" fill="#ffc4c4"/>
<rect x="369.41" y="268.40" width="1.25" height="27.19" fill="#edffed"/>
<rect x="370.61" y="268.40" width="1.28" height="27.19" fill="#ffc8c8"/>
<rect x="371.84" y="268.40" width="1.98" height="27.19" fill="#ff8e8e"/>
<rect x="373.77" y="268.40" width="2.40" height="27.19" fill="#ffd1d1"/>
<rect x="376.12" y="268.40" width="2.23" height="27.19" fill="#fdfffd"/>
<rect x="378.31" y="268.40" width="3.01" height="27.19" fill="#ffbdbd"/>
<rect x="381.27" y="268.40" width="1.42" height="27.19" fill="#ffa7a7"/>
<rect x="382.64" y="268.40" width="2.64" height="27.19" fill="#fff8f8"/>
<rect x="385.23" y="268.40" width="2.82" height="27.19" fill="#ffb1b1"/>
<rect x="388.00" y="268.40" width="2.53" height="27.19" fill="#fffefe"/>
<rect x="390.48" y="268.40" width="2.44" height="27.19" fill="#ffbbbb"/>
<rect x="392.87" y="268.40" width="0.87" height="27.19" fill="#ffcbcb"/>
<rect x="393.70" y="268.40" width="2.26" height="27.19" fill="#ffebeb"/>
<rect x="395.90" y="268.40" width="2.32" height="27.19" fill="#ffebeb"/>
<rect x="398.17" y="268.40" width="2.30" height="27.19" fill="#fdfffd"/>
<rect x="400.42" y="268.40" width="3.05" height="27.19" fill="#ffebeb"/>
<rect x="403.42" y="268.40" width="2.39" height="27.19" fill="#fff1f1"/>
<rect x="405.76" y="268.40" width="2.20" height="27.19" fill="#c2ffc2"/>
<rect x="407.91" y="268.40" width="1.41" height="27.19" fill="#ffe2e2"/>
<rect x="409.28" y="268.40" width="1.68" height="27.19" fill="#fff2f2"/>
<rect x="410.91" y="268.40" width="1.40" height="27.19" fill="#ffb3b3"/>
<rect x="412.26" y="268.40" width="2.98" height="27.19" fill="#fff2f2"/>
<rect x="415.19" y="268.40" width="3.04" height="27.19" fill="#fefffe"/>
<rect x="418.17" y="268.40" width="2.16" height="27.19" fill="#f4fff4"/>
<rect x="420.29" y="268.40" width="0.95" height="27.19" fill="#ffc6c6"/>
<rect x="421.19" y="268.40" width="1.22" height="27.19" fill="#ffe2e2"/>
<rect x="422.36" y="268.40" width="2.19" height="27.19" fill="#ff8888"/>
<rect x="424.51" y="268.40" width="2.01" height="27.19" fill="#ffbaba"/>
<rect x="426.46" y="268.40" width="1.65" height="27.19" fill="#ffe4e4"/>
<rect x="428.07" y="268.40" width="1.47" height="27.19" fill="#ffa6a6"/>
<rect x="429.49" y="268.40" width="1.50" height="27.19" fill="#ffecec"/>
<rect x="430.94" y="268.40" width="1.19" height="27.19" fill="#ffd6d6"/>
<rect x="432.09" y="268.40" width="1.71" height="27.19" fill="#ffe5e5"/>
<rect x="433.75" y="268.40" width="3.03" height="27.19" fill="#fffcfc"/>
<rect x="436.72" y="268.40" width="1.01" height="27.19" fill="#ffb9b9"/>
<rect x="437.68" y="268.40" width="2.99" height="27.19" fill="#ffeeee"/>
<rect x="440.62" y="268.40" width="2.00" height="27.19" fill="#ffa4a4"/>
<rect x="442.58" y="268.40" width="3.00" height="27.19" fill="#ffefef"/>
<rect x="445.53" y="268.40" width="2.18" height="27.19" fill="#ffb3b3"/>
<rect x="447.66" y="268.40" width="1.30" height="27.19" fill="#ffeaea"/>
<rect x="448.90" y="268.40" width="2.01" height="27.19" fill="#ffbdbd"/>
<rect x="450.87" y="268.40" width="1.85" height="27.19" fill="#ffbebe"/>
<rect x="452.67" y="268.40" width="2.13" height="27.19" fill="#efffef"/>
<rect x="454.75" y="268.40" width="3.04" height="27.19" fill="#ffbbbb"/>
<rect x="457.74" y="268.40" width="2.47" height="27.19" fill="#c1ffc1"/>
<rect x="460.16" y="268.40" width="2.58" height="27.19" fill="#d1ffd1"/>
<rect x="462.69" y="268.40" width="1.64" height="27.19" fill="#b8ffb8"/>
<rect x="464.28" y="268.40" width="2.15" height="27.19" fill="#f5fff5"/>
<rect x="466.38" y="268.40" width="2.51" height="27.19" fill="#c9ffc9"/>
<rect x="468.83" y="268.40" width="2.86" height="27.19" fill="#d8ffd8"/>
<rect x="471.65" y="268.40" width="0.94" height="27.19" fill="#daffda"/>
<rect x="472.54" y="268.40" width="2.22" height="27.19" fill="#efffef"/>
<rect x="474.71" y="268.40" width="2.04" height="27.19" fill="#cdffcd"/>
<rect x="476.70" y="268.40" width="2.06" height="27.19" fill="#c6ffc6"/>
<rect x="478.71" y="268.40" width="1.67" height="27.19" fill="#a7ffa7"/>
<rect x="480.33" y="268.40" width="2.49" height="27.19" fill="#c3ffc3"/>
<rect x="482.77" y="268.40" width="1.01" height="27.19" fill="#efffef"/>
<rect x="483.73" y="268.40" width="2.54" height="27.19" fill="#ecffec"/>
<rect x="486.22" y="268.40" width="1.78" height="27.19" fill="#bcffbc"/>
<rect x="487.96" y="268.40" width="2.29" height="27.19" fill="#fffefe"/>
<rect x="490.20" y="268.40" width="1.57" height="27.19" fill="#87ff87"/>
<rect x="491.71" y="268.40" width="1.79" height="27.19" fill="#adffad"/>
<rect x="493.45" y="268.40" width="1.06" height="27.19" fill="#efffef"/>
<rect x="494.47" y="268.40" width="2.09" height="27.19" fill="#b5ffb5"/>
<rect x="496.51" y="268.40" width="2.36" height="27.19" fill="#e6ffe6"/>
<rect x="498.82" y="268.40" width="1.32" height="27.19" fill="#fafffa"/>
<rect x="500.08" y="268.40" width="1.03" height="27.19" fill="#acffac"/>
<rect x="501.06" y="268.40" width="1.47" height="27.19" fill="#f5fff5"/>
<rect x="502.49" y="268.40" width="1.64" height="27.19" fill="#eaffea"/>
<rect x="504.07" y="268.40" width="2.41" height="27.19" fill="#9eff9e"/>
<rect x="506.43" y="268.40" width="2.87" height="27.19" fill="#ffb6b6"/>
<rect x="509.26" y="268.40" width="2.62" height="27.19" fill="#e2ffe2"/>
<rect x="511.82" y="268.40" width="1.55" height="27.19" fill="#bcffbc"/>
<rect x="513.32" y="268.40" width="1.40" height="27.19" fill="#ffcece"/>
<rect x="514.67" y="268.40" width="1.65" height="27.19" fill="#e8ffe8"/>
<rect x="516.27" y="268.40" width="1.28" height="27.19" fill="#ffe4e4"/>
<rect x="517.50" y="268.40" width="2.60" height="27.19" fill="#bdffbd"/>
<rect x="520.05" y="268.40" width="1.24" height="27.19" fill="#fbfffb"/>
<rect x="521.24" y="268.40" width="2.79" height="27.19" fill="#fff4f4"/>
<rect x="523.98" y="268.40" width="2.05" height="27.19" fill="#ffebeb"/>
<rect x="525.98" y="268.40" width="2.98" height="27.19" fill="#f8fff8"/>
<rect x="528.90" y="268.40" width="2.05" height="27.19" fill="#d7ffd7"/>
<rect x="530.91" y="268.40" width="1.03" height="27.19" fill="#ffbfbf"/>
<rect x="531.89" y="268.40" width="1.04" height="27.19" fill="#ffd6d6"/>
<rect x="532.88" y="268.40" width="1.17" height="27.19" fill="#fff4f4"/>
<rect x="533.99" y="268.40" width="1.33" height="27.19" fill="#d8ffd8"/>
<rect x="535.28" y="268.40" width="2.00" height="27.19" fill="#ffefef"/>
<rect x="537.23" y="268.40" width="2.98" height="27.19" fill="#e8ffe8"/>
<rect x="540.16" y="268.40" width="1.94" height="27.19" fill="#d4ffd4"/>
<rect x="542.04" y="268.40" width="2.86" height="27.19" fill="#fefffe"/>
<rect x="544.86" y="268.40" width="2.67" height="27.19" fill="#e9ffe9"/>
<rect x="547.47" y="268.40" width="2.68" height="27.19" fill="#cfffcf"/>
<rect x="550.11" y="268.40" width="2.96" height="27.19" fill="#f0fff0"/>
<rect x="553.02" y="268.40" width="2.61" height="27.19" fill="#9eff9e"/>
<rect x="555.58" y="268.40" width="1.78" height="27.19" fill="#e3ffe3"/>
<rect x="557.31" y="268.40" width="1.68" height="27.19" fill="#eeffee"/>
<rect x="558.93" y="268.40" width="1.30" height="27.19" fill="#a5ffa5"/>
<rect x="560.18" y="268.40" width="0.98" height="27.19" fill="#cdffcd"/>
<rect x="561.11" y="268.40" width="1.10" height="27.19" fill="#9aff9a"/>
<rect x="562.16" y="268.40" width="0.99" height="27.19" fill="#8eff8e"/>
<rect x="563.10" y="268.40" width="2.13" height="27.19" fill="#eeffee"/>
<rect x="565.19" y="268.40" width="1.26" height="27.19" fill="#baffba"/>
<rect x="566.39" y="268.40" width="1.37" height="27.19" fill="#b5ffb5"/>
<rect x="567.71" y="268.40" width="1.26" height="27.19" fill="#90ff90"/>
<rect x="568.92" y="268.40" width="1.23" height="27.19" fill="#c1ffc1"/>
<rect x="570.10" y="268.40" width="2.65" height="27.19" fill="#a0ffa0"/>
<rect x="572.69" y="268.40" width="1.42" height="27.19" fill="#fbfffb"/>
<rect x="574.07" y="268.40" width="2.05" height="27.19" fill="#8cff8c"/>
<rect x="576.07" y="268.40" width="1.91" height="27.19" fill="#c1ffc1"/>
<rect x="577.93" y="268.40" width="2.61" height="27.19" fill="#caffca"/>
<rect x="580.50" y="268.40" width="2.01" height="27.19" fill="#a3ffa3"/>
<rect x="582.46" y="268.40" width="2.30" height="27.19" fill="#bcffbc"/>
<rect x="584.70" y="268.40" width="0.87" height="27.19" fill="#9dff9d"/>
<rect x="585.53" y="268.40" width="2.42" height="27.19" fill="#c5ffc5"/>
<rect x="587.90" y="268.40" width="1.20" height="27.19" fill="#77ff77"/>
<rect x="589.04" y="268.40" width="2.76" height="27.19" fill="#80ff80"/>
<rect x="591.75" y="268.40" width="2.25" height="27.19" fill="#82ff82"/>
<rect x="593.96" y="268.40" width="1.18" height="27.19" fill="#65ff65"/>
<rect x="595.09" y="268.40" width="0.85" height="27.19" fill="#84ff84"/>
<rect x="595.89" y="268.40" width="1.03" height="27.19" fill="#28ff28"/>
<rect x="596.87" y="268.40" width="2.43" height="27.19" fill="#87ff87"/>
<rect x="599.25" y="268.40" width="2.95" height="27.19" fill="#7dff7d"/>
<rect x="602.15" y="268.40" width="2.74" height="27.19" fill="#51ff51"/>
<rect x="604.84" y="268.40" width="2.87" height="27.19" fill="#e3ffe3"/>
<rect x="607.65" y="268.40" width="2.67" height="27.19" fill="#72ff72"/>
<rect x="610.27" y="268.40" width="1.20" height="27.19" fill="#91ff91"/>
<rect x="611.42" y="268.40" width="1.54" height="27.19" fill="#61ff61"/>
<rect x="612.90" y="268.40" width="1.88" height="27.19" fill="#73ff73"/>
<rect x="614.73" y="268.40" width="1.64" height="27.19" fill="#60ff60"/>
<rect x="616.32" y="268.40" width="1.87" height="27.19" fill="#56ff56"/>
<rect x="618.14" y="268.40" width="2.68" height="27.19" fill="#63ff63"/>
<rect x="620.76" y="268.40" width="2.41" height="27.19" fill="#61ff61"/>
<rect x="623.13" y="268.40" width="2.09" height="27.19" fill="#ffabab"/>
<rect x="625.17" y="268.40" width="2.61" height="27.19" fill="#ffa4a4"/>
<rect x="627.73" y="268.40" width="2.21" height="27.19" fill="#ffaeae"/>
<rect x="629.88" y="268.40" width="1.51" height="27.19" fill="#ff8484"/>
<rect x="631.34" y="268.40" width="1.71" height="27.19" fill="#ffb3b3"/>
<rect x="633.00" y="268.40" width="2.46" height="27.19" fill="#ffbebe"/>
<rect x="635.41" y="268.40" width="2.93" height="27.19" fill="#ffdbdb"/>
<rect x="638.29" y="268.40" width="2.67" height="27.19" fill="#ffebeb"/>
<rect x="640.91" y="268.40" width="1.16" height="27.19" fill="#ff7979"/>
<rect x="642.02" y="268.40" width="1.25" height="27.19" fill="#ff8888"/>
<rect x="643.21" y="268.40" width="2.69" height="27.19" fill="#ffb3b3"/>
<rect x="645.85" y="268.40" width="1.20" height="27.19" fill="#ff7b7b"/>
<rect x="647.00" y="268.40" width="1.75" height="27.19" fill="#ff2b2b"/>
<rect x="648.69" y="268.40" width="1.98" height="27.19" fill="#ff4f4f"/>
<rect x="650.62" y="268.40" width="2.54" height="27.19" fill="#ff6464"/>
<rect x="653.11" y="268.40" width="0.64" height="27.19" fill="#ffdede"/>
<rect x="71.30" y="295.59" width="1.73" height="27.19" fill="#c6ffc6"/>
<rect x="72.98" y="295.59" width="2.30" height="27.19" fill="#85ff85"/>
<rect x="75.23" y="295.59" width="0.89" height="27.19" fill="#d6ffd6"/>
<rect x="76.07" y="295.59" width="1.08" height="27.19" fill="#fffcfc"/>
<rect x="77.11" y="295.59" width="1.97" height="27.19" fill="#f5fff5"/>
<rect x="79.03" y="295.59" width="1.20" height="27.19" fill="#a5ffa5"/>
<rect x="80.18" y="295.59" width="2.84" height="27.19" fill="#c6ffc6"/>
<rect x="82.96" y="295.59" width="1.16" height="27.19" fill="#29ff29"/>
<rect x="84.08" y="295.59" width="3.02" height="27.19" fill="#00ff00"/>
<rect x="87.05" y="295.59" width="1.28" height="27.19" fill="#2dff2d"/>
<rect x="88.28" y="295.59" width="2.23" height="27.19" fill="#38ff38"/>
<rect x="90.46" y="295.59" width="2.12" height="27.19" fill="#41ff41"/>
<rect x="92.53" y="295.59" width="1.57" height="27.19" fill="#d1ffd1"/>
<rect x="94.05" y="295.59" width="1.12" height="27.19" fill="#a4ffa4"/>
<rect x="95.13" y="295.59" width="1.15" height="27.19" fill="#d7ffd7"/>
<rect x="96.22" y="295.59" width="2.08" height="27.19" fill="#99ff99"/>
<rect x="98.26" y="295.59" width="2.85" height="27.19" fill="#f4fff4"/>
<rect x="101.06" y="295.59" width="1.12" height="27.19" fill="#afffaf"/>
<rect x="102.13" y="295.59" width="1.48" height="27.19" fill="#c8ffc8"/>
<rect x="103.56" y="295.59" width="2.68" height="27.19" fill="#a3ffa3"/>
<rect x="106.19" y="295.59" width="2.06" height="27.19" fill="#bbffbb"/>
<rect x="108.20" y="295.59" width="3.02" height="27.19" fill="#b7ffb7"/>
<rect x="111.17" y="295.59" width="2.30" height="27.19" fill="#a0ffa0"/>
<rect x="113.41" y="295.59" width="1.69" height="27.19" fill="#e4ffe4"/>
<rect x="115.05" y="295.59" width="2.62" height="27.19" fill="#caffca"/>
<rect x="117.62" y="295.59" width="1.16" height="27.19" fill="#b5ffb5"/>
<rect x="118.74" y="295.59" width="2.10" height="27.19" fill="#c6ffc6"/>
<rect x="120.79" y="295.59" width="2.10" height="27.19" fill="#d9ffd9"/>
<rect x="122.84" y="295.59" width="2.26" height="27.19" fill="#e6ffe6"/>
<rect x="125.05" y="295.59" width="2.96" height="27.19" fill="#bfffbf"/>
<rect x="127.96" y="295.59" width="1.88" height="27.19" fill="#88ff88"/>
<rect x="129.80" y="295.59" width="2.52" height="27.19" fill="#cdffcd"/>
<rect x="132.26" y="295.59" width="1.92" height="27.19" fill="#f7fff7"/>
<rect x="134.13" y="295.59" width="1.75" height="27.19" fill="#b0ffb0"/>
<rect x="135.83" y="295.59" width="2.10" height="27.19" fill="#d7ffd7"/>
<rect x="137.88" y="295.59" width="1.80" height="27.19" fill="#9aff9a"/>
<rect x="139.63" y="295.59" width="1.56" height="27.19" fill="#e9ffe9"/>
<rect x="141.13" y="295.59" width="2.46" height="27.19" fill="#c6ffc6"/>
<rect x="143.54" y="295.59" width="2.50" height="27.19" fill="#e3ffe3"/>
<rect x="146.00" y="295.59" width="1.12" height="27.19" fill="#e0ffe0"/>
<rect x="147.07" y="295.59" width="1.96" height="27.19" fill="#a9ffa9"/>
<rect x="148.98" y="295.59" width="2.01" height="27.19" fill="#baffba"/>
<rect x="150.94" y="295.59" width="1.52" height="27.19" fill="#e2ffe2"/>
<rect x="152.41" y="295.59" width="2.85" height="27.19" fill="#c2ffc2"/>
<rect x="155.21" y="295.59" width="2.31" height="27.19" fill="#cbffcb"/>
<rect x="157.48" y="295.59" width="1.34" height="27.19" fill="#97ff97"/>
<rect x="158.77" y="295.59" width="2.10" height="27.19" fill="#c0ffc0"/>
<rect x="160.81" y="295.59" width="1.12" height="27.19" fill="#a9ffa9"/>
<rect x="161.89" y="295.59" width="2.94" height="27.19" fill="#cdffcd"/>
<rect x="164.78" y="295.59" width="1.56" height="27.19" fill="#e8ffe8"/>
<rect x="166.29" y="295.59" width="2.82" height="27.19" fill="#c1ffc1"/>
<rect x="169.06" y="295.59" width="2.14" height="27.19" fill="#deffde"/>
<rect x="171.15" y="295.59" width="0.92" height="27.19" fill="#cbffcb"/>
<rect x="172.02" y="295.59" width="2.90" height="27.19" fill="#a0ffa0"/>
<rect x="174.87" y="295.59" width="1.89" height="27.19" fill="#bbffbb"/>
<rect x="176.71" y="295.59" width="2.82" height="27.19" fill="#cfffcf"/>
<rect x="179.49" y="295.59" width="2.69" height="27.19" fill="#9aff9a"/>
<rect x="182.13" y="295.59" width="2.79" height="27.19" fill="#d3ffd3"/>
<rect x="184.87" y="295.59" width="1.29" height="27.19" fill="#a3ffa3"/>
<rect x="186.11" y="295.59" width="0.96" height="27.19" fill="#e3ffe3"/>
<rect x="187.02" y="295.59" width="2.45" height="27.19" fill="#95ff95"/>
<rect x="189.42" y="295.59" width="2.42" height="27.19" fill="#f9fff9"/>
<rect x="191.79" y="295.59" width="2.38" height="27.19" fill="#f3fff3"/>
<rect x="194.12" y="295.59" width="1.34" height="27.19" fill="#a4ffa4"/>
<rect x="195.41" y="295.59" width="2.41" height="27.19" fill="#baffba"/>
<rect x="197.77" y="295.59" width="2.31" height="27.19" fill="#c8ffc8"/>
<rect x="200.03" y="295.59" width="1.67" height="27.19" fill="#8cff8c"/>
<rect x="201.65" y="295.59" width="1.35" height="27.19" fill="#73ff73"/>
<rect x="202.96" y="295.59" width="2.89" height="27.19" fill="#a4ffa4"/>
<rect x="205.79" y="295.59" width="1.05" height="27.19" fill="#9aff9a"/>
<rect x="206.79" y="295.59" width="1.82" height="27.19" fill="#dbffdb"/>
<rect x="208.56" y="295.59" width="2.17" height="27.19" fill="#abffab"/>
<rect x="210.68" y="295.59" width="1.40" height="27.19" fill="#b8ffb8"/>
<rect x="212.03" y="295.59" width="2.51" height="27.19" fill="#a4ffa4"/>
<rect x="214.50" y="295.59" width="1.46" height="27.19" fill="#9dff9d"/>
<rect x="215.91" y="295.59" width="3.02" height="27.19" fill="#e6ffe6"/>
<rect x="218.88" y="295.59" width="1.87" height="27.19" fill="#b3ffb3"/>
<rect x="220.70" y="295.59" width="1.95" height="27.19" fill="#8fff8f"/>
<rect x="222.60" y="295.59" width="2.07" height="27.19" fill="#9eff9e"/>
<rect x="224.62" y="295.59" width="2.57" height="27.19" fill="#98ff98"/>
<rect x="227.14" y="295.59" width="1.96" height="27.19" fill="#d1ffd1"/>
<rect x="229.06" y="295.59" width="2.94" height="27.19" fill="#86ff86"/>
<rect x="231.95" y="295.59" width="2.57" height="27.19" fill="#cbffcb"/>
<rect x="234.46" y="295.59" width="1.82" height="27.19" fill="#ddffdd"/>
<rect x="236.23" y="295.59" width="2.58" height="27.19" fill="#f9fff9"/>
<rect x="238.76" y="295.59" width="1.34" height="27.19" fill="#d9ffd9"/>
<rect x="240.05" y="295.59" width="1.95" height="27.19" fill="#ffdddd"/>
<rect x="241.95" y="295.59" width="2.11" height="27.19" fill="#fdfffd"/>
<rect x="244.01" y="295.59" width="1.25" height="27.19" fill="#f6fff6"/>
<rect x="245.20" y="295.59" width="1.81" height="27.19" fill="#f8fff8"/>
<rect x="246.96" y="295.59" width="1.43" height="27.19" fill="#f6fff6"/>
<rect x="248.34" y="295.59" width="2.10" height="27.19" fill="#e5ffe5"/>
<rect x="250.39" y="295.59" width="2.59" height="27.19" fill="#f4fff4"/>
<rect x="252.93" y="295.59" width="0.94" height="27.19" fill="#fff8f8"/>
<rect x="253.83" y="295.59" width="2.22" height="27.19" fill="#d7ffd7"/>
<rect x="255.99" y="295.59" width="1.04" height="27.19" fill="#eeffee"/>
<rect x="256.99" y="295.59" width="1.23" height="27.19" fill="#f2fff2"/>
<rect x="258.16" y="295.59" width="2.68" height="27.19" fill="#fff7f7"/>
<rect x="260.79" y="295.59" width="0.98" height="27.19" fill="#d5ffd5"/>
<rect x="261.73" y="295.59" width="2.99" height="27.19" fill="#fffdfd"/>
<rect x="264.66" y="295.59" width="1.93" height="27.19" fill="#fafffa"/>
<rect x="266.54" y="295.59" width="1.85" height="27.19" fill="#8aff8a"/>
<rect x="268.34" y="295.59" width="0.94" height="27.19" fill="#ffd4d4"/>
<rect x="269.23" y="295.59" width="1.71" height="27.19" fill="#ff8e8e"/>
<rect x="270.89" y="295.59" width="1.78" height="27.19" fill="#ffd0d0"/>
<rect x="272.62" y="295.59" width="2.53" height="27.19" fill="#ffd4d4"/>
<rect x="275.10" y="295.59" width="1.36" height="27.19" fill="#ffdada"/>
<rect x="276.41" y="295.59" width="1.87" height="27.19" fill="#ffacac"/>
<rect x="278.23" y="295.59" width="1.65" height="27.19" fill="#f1fff1"/>
<rect x="279.83" y="295.59" width="0.94" height="27.19" fill="#ff8383"/>
<rect x="280.71" y="295.59" width="2.28" height="27.19" fill="#ffbaba"/>
<rect x="282.94" y="295.59" width="2.75" height="27.19" fill="#ffcdcd"/>
<rect x="285.64" y="295.59" width="2.80" height="27.19" fill="#fffbfb"/>
<rect x="288.39" y="295.59" width="1.69" height="27.19" fill="#ffd0d0"/>
<rect x="290.03" y="295.59" width="1.32" height="27.19" fill="#ffe6e6"/>
<rect x="291.31" y="295.59" width="1.21" height="27.19" fill="#ffc6c6"/>
<rect x="292.47" y="295.59" width="1.32" height="27.19" fill="#fff7f7"/>
<rect x="293.74" y="295.59" width="3.04" height="27.19" fill="#ffd3d3"/>
<rect x="296.72" y="295.59" width="2.75" height="27.19" fill="#fff1f1"/>
<rect x="299.42" y="295.59" width="2.37" height="27.19" fill="#ffb7b7"/>
<rect x="301.74" y="295.59" width="1.45" height="27.19" fill="#ffc2c2"/>
<rect x="303.15" y="295.59" width="1.71" height="27.19" fill="#ffd6d6"/>
<rect x="304.81" y="295.59" width="2.42" height="27.19" fill="#ffdddd"/>
<rect x="307.19" y="295.59" width="2.91" height="27.19" fill="#ffb7b7"/>
<rect x="310.05" y="295.59" width="2.53" height="27.19" fill="#fff7f7"/>
<rect x="312.53" y="295.59" width="1.56" height="27.19" fill="#d9ffd9"/>
<rect x="314.04" y="295.59" width="1.03" height="27.19" fill="#ffc1c1"/>
<rect x="315.02" y="295.59" width="1.99" height="27.19" fill="#fffafa"/>
<rect x="316.96" y="295.59" width="1.72" height="27.19" fill="#ffd8d8"/>
<rect x="318.63" y="295.59" width="2.16" height="27.19" fill="#fff0f0"/>
<rect x="320.74" y="295.59" width="1.54" height="27.19" fill="#fefffe"/>
<rect x="322.23" y="295.59" width="2.40" height="27.19" fill="#ffc4c4"/>
<rect x="324.58" y="295.59" width="2.45" height="27.19" fill="#ffe3e3"/>
<rect x="326.98" y="295.59" width="1.47" height="27.19" fill="#ffeaea"/>
<rect x="328.40" y="295.59" width="1.74" height="27.19" fill="#efffef"/>
<rect x="330.09" y="295.59" width="1.49" height="27.19" fill="#ffaaaa"/>
<rect x="331.53" y="295.59" width="1.32" height="27.19" fill="#ffd1d1"/>
<rect x="332.80" y="295.59" width="2.10" height="27.19" fill="#ffd7d7"/>
<rect x="334.85" y="295.59" width="3.00" height="27.19" fill="#ffe9e9"/>
<rect x="337.80" y="295.59" width="1.33" height="27.19" fill="#ffa6a6"/>
<rect x="339.07" y="295.59" width="2.32" height="27.19" fill="#ff9494"/>
<rect x="341.34" y="295.59" width="2.24" height="27.19" fill="#fffafa"/>
<rect x="343.53" y="295.59" width="1.79" height="27.19" fill="#ffe3e3"/>
<rect x="345.27" y="295.59" width="1.57" height="27.19" fill="#ffd1d1"/>
<rect x="346.79" y="295.59" width="1.47" height="27.19" fill="#ffc5c5"/>
<rect x="348.21" y="295.59" width="1.22" height="27.19" fill="#ffbaba"/>
<rect x="349.37" y="295.59" width="1.38" height="27.19" fill="#ffbebe"/>
<rect x="350.70" y="295.59" width="1.18" height="27.19" fill="#ffc7c7"/>
<rect x="351.83" y="295.59" width="2.39" height="27.19" fill="#fbfffb"/>
<rect x="354.18" y="295.59" width="1.71" height="27.19" fill="#ffebeb"/>
<rect x="355.84" y="295.59" width="0.99" height="27.19" fill="#ffe3e3"/>
<rect x="356.78" y="295.59" width="2.14" height="27.19" fill="#ffd2d2"/>
<rect x="358.87" y="295.59" width="1.57" height="27.19" fill="#ffd9d9"/>
<rect x="360.38" y="295.59" width="2.81" height="27.19" fill="#ffd1d1"/>
<rect x="363.14" y="295.59" width="1.43" height="27.19" fill="#ffe4e4"/>
<rect x="364.52" y="295.59" width="2.20" height="27.19" fill="#ffeded"/>
<rect x="366.67" y="295.59" width="1.65" height="27.19" fill="#daffda"/>
<rect x="368.27" y="295.59" width="2.23" height="27.19" fill="#fefffe"/>
<rect x="370.45" y="295.59" width="1.75" height="27.19" fill="#fff2f2"/>
<rect x="372.16" y="295.59" width="2.79" height="27.19" fill="#ffcaca"/>
<rect x="374.89" y="295.59" width="2.85" height="27.19" fill="#ffc6c6"/>
<rect x="377.69" y="295.59" width="1.53" height="27.19" fill="#b7ffb7"/>
<rect x="379.17" y="295.59" width="3.00" height="27.19" fill="#c0ffc0"/>
<rect x="382.12" y="295.59" width="2.35" height="27.19" fill="#ffacac"/>
<rect x="384.42" y="295.59" width="0.85" height="27.19" fill="#ffe2e2"/>
<rect x="385.22" y="295.59" width="1.94" height="27.19" fill="#ffc9c9"/>
<rect x="387.10" y="295.59" width="2.06" height="27.19" fill="#ffe0e0"/>
<rect x="389.11" y="295.59" width="2.98" height="27.19" fill="#ffe0e0"/>
<rect x="392.04" y="295.59" width="1.61" height="27.19" fill="#ffa8a8"/>
<rect x="393.60" y="295.59" width="2.38" height="27.19" fill="#ffd4d4"/>
<rect x="395.93" y="295.59" width="2.97" height="27.19" fill="#ffb6b6"/>
<rect x="398.86" y="295.59" width="1.93" height="27.19" fill="#ffd2d2"/>
<rect x="400.73" y="295.59" width="1.66" height="27.19" fill="#ffcccc"/>
<rect x="402.35" y="295.59" width="1.37" height="27.19" fill="#ff8585"/>
<rect x="403.67" y="295.59" width="1.56" height="27.19" fill="#ffacac"/>
<rect x="405.18" y="295.59" width="0.99" height="27.19" fill="#ffe0e0"/>
<rect x="406.12" y="295.59" width="1.07" height="27.19" fill="#ffc4c4"/>
<rect x="407.15" y="295.59" width="2.55" height="27.19" fill="#ffd0d0"/>
<rect x="409.65" y="295.59" width="1.21" height="27.19" fill="#ffdddd"/>
<rect x="410.80" y="295.59" width="1.41" height="27.19" fill="#fff5f5"/>
<rect x="412.16" y="295.59" width="2.60" height="27.19" fill="#ffebeb"/>
<rect x="414.71" y="295.59" width="2.42" height="27.19" fill="#ff9c9c"/>
<rect x="417.09" y="295.59" width="1.58" height="27.19" fill="#ffbbbb"/>
<rect x="418.62" y="295.59" width="2.10" height="27.19" fill="#fafffa"/>
<rect x="420.67" y="295.59" width="2.41" height="27.19" fill="#ffefef"/>
<rect x="423.03" y="295.59" width="1.13" height="27.19" fill="#ffeeee"/>
<rect x="424.10" y="295.59" width="2.32" height="27.19" fill="#ffebeb"/>
<rect x="426.38" y="295.59" width="2.14" height="27.19" fill="#ffa9a9"/>
<rect x="428.46" y="295.59" width="2.98" height="27.19" fill="#ff9b9b"/>
<rect x="431.40" y="295.59" width="2.24" height="27.19" fill="#ff9797"/>
<rect x="433.59" y="295.59" width="2.90" height="27.19" fill="#ffb4b4"/>
<rect x="436.44" y="295.59" width="1.11" height="27.19" fill="#ffecec"/>
<rect x="437.50" y="295.59" width="1.48" height="27.19" fill="#ffcdcd"/>
<rect x="438.93" y="295.59" width="1.58" height="27.19" fill="#f0fff0"/>
<rect x="440.46" y="295.59" width="2.04" height="27.19" fill="#ffe2e2"/>
<rect x="442.45" y="295.59" width="2.61" height="27.19" fill="#ffbcbc"/>
<rect x="445.01" y="295.59" width="1.47" height="27.19" fill="#ffe6e6"/>
<rect x="446.44" y="295.59" width="3.01" height="27.19" fill="#ffa0a0"/>
<rect x="449.39" y="295.59" width="2.38" height="27.19" fill="#fffdfd"/>
<rect x="451.72" y="295.59" width="1.24" height="27.19" fill="#fff1f1"/>
<rect x="452.91" y="295.59" width="2.90" height="27.19" fill="#ffc0c0"/>
<rect x="455.76" y="295.59" width="1.56" height="27.19" fill="#e9ffe9"/>
<rect x="457.27" y="295.59" width="2.10" height="27.19" fill="#abffab"/>
<rect x="459.32" y="295.59" width="1.35" height="27.19" fill="#b4ffb4"/>
<rect x="460.62" y="295.59" width="1.65" height="27.19" fill="#dcffdc"/>
<rect x="462.22" y="295.59" width="2.81" height="27.19" fill="#98ff98"/>
<rect x="464.99" y="295.59" width="1.02" height="27.19" fill="#9dff9d"/>
<rect x="465.96" y="295.59" width="1.29" height="27.19" fill="#b2ffb2"/>
<rect x="467.20" y="295.59" width="1.92" height="27.19" fill="#55ff55"/>
<rect x="469.07" y="295.59" width="0.98" height="27.19" fill="#adffad"/>
<rect x="470.00" y="295.59" width="2.30" height="27.19" fill="#78ff78"/>
<rect x="472.24" y="295.59" width="2.75" height="27.19" fill="#78ff78"/>
<rect x="474.94" y="295.59" width="1.83" height="27.19" fill="#a9ffa9"/>
<rect x="476.72" y="295.59" width="0.91" height="27.19" fill="#5bff5b"/>
<rect x="477.58" y="295.59" width="1.11" height="27.19" fill="#aaffaa"/>
<rect x="478.64" y="295.59" width="1.53" height="27.19" fill="#9bff9b"/>
<rect x="480.12" y="295.59" width="0.87" height="27.19" fill="#e3ffe3"/>
<rect x="480.94" y="295.59" width="2.01" height="27.19" fill="#e4ffe4"/>
<rect x="482.90" y="295.59" width="2.59" height="27.19" fill="#89ff89"/>
<rect x="485.45" y="295.59" width="2.67" height="27.19" fill="#68ff68"/>
<rect x="488.07" y="295.59" width="3.02" height="27.19" fill="#d3ffd3"/>
<rect x="491.04" y="295.59" width="2.40" height="27.19" fill="#c0ffc0"/>
<rect x="493.39" y="295.59" width="2.85" height="27.19" fill="#bbffbb"/>
<rect x="496.19" y="295.59" width="1.70" height="27.19" fill="#93ff93"/>
<rect x="497.84" y="295.59" width="2.30" height="27.19" fill="#99ff99"/>
<rect x="500.09" y="295.59" width="1.63" height="27.19" fill="#6dff6d"/>
<rect x="501.67" y="295.59" width="2.84" height="27.19" fill="#85ff85"/>
<rect x="504.46" y="295.59" width="2.48" height="27.19" fill="#5bff5b"/>
<rect x="506.89" y="295.59" width="2.49" height="27.19" fill="#19ff19"/>
<rect x="509.33" y="295.59" width="1.08" height="27.19" fill="#3dff3d"/>
<rect x="510.36" y="295.59" width="1.62" height="27.19" fill="#48ff48"/>
<rect x="511.93" y="295.59" width="1.74" height="27.19" fill="#4fff4f"/>
<rect x="513.62" y="295.59" width="2.03" height="27.19" fill="#64ff64"/>
<rect x="515.60" y="295.59" width="1.56" height="27.19" fill="#45ff45"/>
<rect x="517.10" y="295.59" width="1.09" height="27.19" fill="#72ff72"/>
<rect x="518.14" y="295.59" width="1.33" height="27.19" fill="#89ff89"/>
<rect x="519.43" y="295.59" width="2.40" height="27.19" fill="#99ff99"/>
<rect x="521.78" y="295.59" width="2.93" height="27.19" fill="#a6ffa6"/>
<rect x="524.66" y="295.59" width="1.25" height="27.19" fill="#49ff49"/>
<rect x="525.87" y="295.59" width="2.25" height="27.19" fill="#e0ffe0"/>
<rect x="528.06" y="295.59" width="2.27" height="27.19" fill="#98ff98"/>
<rect x="530.28" y="295.59" width="2.73" height="27.19" fill="#ffb5b5"/>
<rect x="532.97" y="295.59" width="1.96" height="27.19" fill="#fff6f6"/>
<rect x="534.88" y="295.59" width="2.37" height="27.19" fill="#ffeded"/>
<rect x="537.19" y="295.59" width="2.31" height="27.19" fill="#fafffa"/>
<rect x="539.46" y="295.59" width="2.17" height="27.19" fill="#ffd4d4"/>
<rect x="541.58" y="295.59" width="1.98" height="27.19" fill="#ffb4b4"/>
<rect x="543.51" y="295.59" width="2.16" height="27.19" fill="#ffdbdb"/>
<rect x="545.62" y="295.59" width="2.90" height="27.19" fill="#ffcece"/>
<rect x="548.47" y="295.59" width="2.47" height="27.19" fill="#ffc5c5"/>
<rect x="550.89" y="295.59" width="2.47" height="27.19" fill="#ffc1c1"/>
<rect x="553.31" y="295.59" width="1.13" height="27.19" fill="#ff8282"/>
<rect x="554.39" y="295.59" width="1.93" height="27.19" fill="#ff7979"/>
<rect x="556.27" y="295.59" width="2.91" height="27.19" fill="#ff3b3b"/>
<rect x="559.13" y="295.59" width="2.60" height="27.19" fill="#fffbfb"/>
<rect x="561.69" y="295.59" width="2.76" height="27.19" fill="#ff8888"/>
<rect x="564.40" y="295.59" width="1.40" height="27.19" fill="#ff7272"/>
<rect x="565.75" y="295.59" width="2.75" height="27.19" fill="#ffa4a4"/>
<rect x="568.46" y="295.59" width="1.47" height="27.19" fill="#ff8888"/>
<rect x="569.87" y="295.59" width="2.58" height="27.19" fill="#ff8a8a"/>
<rect x="572.41" y="295.59" width="1.38" height="27.19" fill="#ff1d1d"/>
<rect x="573.74" y="295.59" width="2.06" height="27.19" fill="#ff7676"/>
<rect x="575.75" y="295.59" width="2.60" height="27.19" fill="#ffbcbc"/>
<rect x="578.30" y="295.59" width="0.93" height="27.19" fill="#ff1717"/>
<rect x="579.18" y="295.59" width="2.75" height="27.19" fill="#ff2a2a"/>
<rect x="581.88" y="295.59" width="1.70" height="27.19" fill="#ff4242"/>
<rect x="583.54" y="295.59" width="2.21" height="27.19" fill="#ff2828"/>
<rect x="585.69" y="295.59" width="1.30" height="27.19" fill="#ff3b3b"/>
<rect x="586.95" y="295.59" width="2.78" height="27.19" fill="#ff8383"/>
<rect x="589.68" y="295.59" width="1.80" height="27.19" fill="#ffe0e0"/>
<rect x="591.43" y="295.59" width="1.60" height="27.19" fill="#ff9494"/>
<rect x="592.97" y="295.59" width="2.18" height="27.19" fill="#ff5151"/>
<rect x="595.10" y="295.59" width="1.25" height="27.19" fill="#ff5959"/>
<rect x="596.30" y="295.59" width="1.13" height="27.19" fill="#ffcdcd"/>
<rect x="597.38" y="295.59" width="2.92" height="27.19" fill="#ff9999"/>
<rect x="600.25" y="295.59" width="3.04" height="27.19" fill="#ff9595"/>
<rect x="603.24" y="295.59" width="2.47" height="27.19" fill="#ff9393"/>
<rect x="605.66" y="295.59" width="1.17" height="27.19" fill="#ff6868"/>
<rect x="606.78" y="295.59" width="1.78" height="27.19" fill="#ff7070"/>
<rect x="608.52" y="295.59" width="1.96" height="27.19" fill="#ffa1a1"/>
<rect x="610.43" y="295.59" width="1.61" height="27.19" fill="#ff8787"/>
<rect x="611.99" y="295.59" width="1.48" height="27.19" fill="#ff9999"/>
<rect x="613.42" y="295.59" width="1.48" height="27.19" fill="#ff5f5f"/>
<rect x="614.85" y="295.59" width="2.90" height="27.19" fill="#ffaaaa"/>
<rect x="617.70" y="295.59" width="2.49" height="27.19" fill="#ffe2e2"/>
<rect x="620.14" y="295.59" width="1.77" height="27.19" fill="#ff9797"/>
<rect x="621.86" y="295.59" width="1.82" height="27.19" fill="#ff6363"/>
<rect x="623.63" y="295.59" width="2.33" height="27.19" fill="#ffd4d4"/>
<rect x="625.91" y="295.59" width="1.76" height="27.19" fill="#ff9999"/>
<rect x="627.61" y="295.59" width="1.78" height="27.19" fill="#ff9494"/>
<rect x="629.34" y="295.59" width="2.66" height="27.19" fill="#ffb0b0"/>
<rect x="631.95" y="295.59" width="1.07" height="27.19" fill="#fff3f3"/>
<rect x="632.96" y="295.59" width="1.04" height="27.19" fill="#ffe3e3"/>
<rect x="633.96" y="295.59" width="2.32" height="27.19" fill="#ffb2b2"/>
<rect x="636.23" y="295.59" width="2.83" height="27.19" fill="#ffc5c5"/>
<rect x="639.01" y="295.59" width="1.88" height="27.19" fill="#ffcece"/>
<rect x="640.84" y="295.59" width="1.87" height="27.19" fill="#ffe1e1"/>
<rect x="642.66" y="295.59" width="2.98" height="27.19" fill="#ff9b9b"/>
<rect x="645.60" y="295.59" width="3.03" height="27.19" fill="#fdfffd"/>
<rect x="648.58" y="295.59" width="2.39" height="27.19" fill="#ffa3a3"/>
<rect x="650.92" y="295.59" width="1.00" height="27.19" fill="#ffefef"/>
<rect x="651.87" y="295.59" width="1.33" height="27.19" fill="#ffc3c3"/>
<rect x="653.15" y="295.59" width="0.60" height="27.19" fill="#ffdada"/>
<rect x="71.30" y="322.78" width="2.48" height="27.19" fill="#fcfffc"/>
<rect x="73.73" y="322.78" width="1.22" height="27.19" fill="#caffca"/>
<rect x="74.90" y="322.78" width="1.41" height="27.19" fill="#c0ffc0"/>
<rect x="76.26" y="322.78" width="2.46" height="27.19" fill="#ebffeb"/>
<rect x="78.66" y="322.78" width="0.88" height="27.19" fill="#d6ffd6"/>
<rect x="79.50" y="322.78" width="2.93" height="27.19" fill="#eeffee"/>
<rect x="82.38" y="322.78" width="2.03" height="27.19" fill="#43ff43"/>
<rect x="84.36" y="322.78" width="1.09" height="27.19" fill="#4fff4f"/>
<rect x="85.40" y="322.78" width="1.12" height="27.19" fill="#2aff2a"/>
<rect x="86.47" y="322.78" width="1.14" height="27.19" fill="#6cff6c"/>
<rect x="87.56" y="322.78" width="2.56" height="27.19" fill="#5eff5e"/>
<rect x="90.07" y="322.78" width="1.76" height="27.19" fill="#5fff5f"/>
<rect x="91.78" y="322.78" width="2.08" height="27.19" fill="#c3ffc3"/>
<rect x="93.81" y="322.78" width="2.72" height="27.19" fill="#f1fff1"/>
<rect x="96.48" y="322.78" width="2.98" height="27.19" fill="#e5ffe5"/>
<rect x="99.42" y="322.78" width="1.74" height="27.19" fill="#84ff84"/>
<rect x="101.11" y="322.78" width="1.76" height="27.19" fill="#dcffdc"/>
<rect x="102.82" y="322.78" width="1.19" height="27.19" fill="#d2ffd2"/>
<rect x="103.96" y="322.78" width="1.19" height="27.19" fill="#85ff85"/>
<rect x="105.10" y="322.78" width="0.91" height="27.19" fill="#d1ffd1"/>
<rect x="105.96" y="322.78" width="2.26" height="27.19" fill="#cdffcd"/>
<rect x="108.18" y="322.78" width="0.95" height="27.19" fill="#aeffae"/>
<rect x="109.08" y="322.78" width="1.10" height="27.19" fill="#c1ffc1"/>
<rect x="110.13" y="322.78" width="1.57" height="27.19" fill="#86ff86"/>
<rect x="111.65" y="322.78" width="2.93" height="27.19" fill="#beffbe"/>
<rect x="114.53" y="322.78" width="1.95" height="27.19" fill="#d8ffd8"/>
<rect x="116.43" y="322.78" width="2.48" height="27.19" fill="#a6ffa6"/>
<rect x="118.86" y="322.78" width="1.66" height="27.19" fill="#95ff95"/>
<rect x="120.47" y="322.78" width="1.80" height="27.19" fill="#ccffcc"/>
<rect x="122.22" y="322.78" width="0.96" height="27.19" fill="#c1ffc1"/>
<rect x="123.13" y="322.78" width="2.05" height="27.19" fill="#afffaf"/>
<rect x="125.13" y="322.78" width="1.34" height="27.19" fill="#d6ffd6"/>
<rect x="126.42" y="322.78" width="1.91" height="27.19" fill="#ceffce"/>
<rect x="128.29" y="322.78" width="2.50" height="27.19" fill="#b5ffb5"/>
<rect x="130.73" y="322.78" width="2.98" height="27.19" fill="#eaffea"/>
<rect x="133.66" y="322.78" width="2.16" height="27.19" fill="#dbffdb"/>
<rect x="135.77" y="322.78" width="1.66" height="27.19" fill="#b2ffb2"/>
<rect x="137.38" y="322.78" width="2.19" height="27.19" fill="#a0ffa0"/>
<rect x="139.52" y="322.78" width="1.99" height="27.19" fill="#aaffaa"/>
<rect x="141.45" y="322.78" width="0.97" height="27.19" fill="#d1ffd1"/>
<rect x="142.37" y="322.78" width="2.60" height="27.19" fill="#c9ffc9"/>
<rect x="144.92" y="322.78" width="2.74" height="27.19" fill="#a2ffa2"/>
<rect x="147.61" y="322.78" width="1.04" height="27.19" fill="#cbffcb"/>
<rect x="148.60" y="322.78" width="2.68" height="27.19" fill="#abffab"/>
<rect x="151.23" y="322.78" width="2.58" height="27.19" fill="#d6ffd6"/>
<rect x="153.76" y="322.78" width="0.97" height="27.19" fill="#bbffbb"/>
<rect x="154.69" y="322.78" width="2.06" height="27.19" fill="#afffaf"/>
<rect x="156.70" y="322.78" width="2.26" height="27.19" fill="#fff1f1"/>
<rect x="158.91" y="322.78" width="2.13" height="27.19" fill="#eeffee"/>
<rect x="160.98" y="322.78" width="2.47" height="27.19" fill="#8bff8b"/>
<rect x="163.41" y="322.78" width="2.87" height="27.19" fill="#f2fff2"/>
<rect x="166.22" y="322.78" width="2.57" height="27.19" fill="#83ff83"/>
<rect x="168.74" y="322.78" width="1.83" height="27.19" fill="#d0ffd0"/>
<rect x="170.53" y="322.78" width="1.11" height="27.19" fill="#e3ffe3"/>
<rect x="171.59" y="322.78" width="1.10" height="27.19" fill="#efffef"/>
<rect x="172.64" y="322.78" width="2.32" height="27.19" fill="#e5ffe5"/>
<rect x="174.91" y="322.78" width="1.53" height="27.19" fill="#b5ffb5"/>
<rect x="176.39" y="322.78" width="2.08" height="27.19" fill="#d0ffd0"/>
<rect x="178.42" y="322.78" width="2.03" height="27.19" fill="#afffaf"/>
<rect x="180.40" y="322.78" width="1.12" height="27.19" fill="#f3fff3"/>
<rect x="181.47" y="322.78" width="1.80" height="27.19" fill="#9dff9d"/>
<rect x="183.22" y="322.78" width="2.33" height="27.19" fill="#e0ffe0"/>
<rect x="185.51" y="322.78" width="1.70" height="27.19" fill="#a8ffa8"/>
<rect x="187.16" y="322.78" width="1.08" height="27.19" fill="#b9ffb9"/>
<rect x="188.19" y="322.78" width="1.29" height="27.19" fill="#a5ffa5"/>
<rect x="189.44" y="322.78" width="1.21" height="27.19" fill="#9eff9e"/>
<rect x="190.60" y="322.78" width="1.70" height="27.19" fill="#e1ffe1"/>
<rect x="192.25" y="322.78" width="2.70" height="27.19" fill="#9cff9c"/>
<rect x="194.90" y="322.78" width="3.01" height="27.19" fill="#dfffdf"/>
<rect x="197.86" y="322.78" width="2.38" height="27.19" fill="#bdffbd"/>
<rect x="200.20" y="322.78" width="2.11" height="27.19" fill="#d6ffd6"/>
<rect x="202.26" y="322.78" width="0.99" height="27.19" fill="#caffca"/>
<rect x="203.20" y="322.78" width="1.80" height="27.19" fill="#9bff9b"/>
<rect x="204.95" y="322.78" width="2.08" height="27.19" fill="#fff6f6"/>
<rect x="206.98" y="322.78" width="1.92" height="27.19" fill="#aeffae"/>
<rect x="208.86" y="322.78" width="2.51" height="27.19" fill="#d3ffd3"/>
<rect x="211.31" y="322.78" width="0.93" height="27.19" fill="#ccffcc"/>
<rect x="212.19" y="322.78" width="2.10" height="27.19" fill="#9cff9c"/>
<rect x="214.24" y="322.78" width="2.94" height="27.19" fill="#b0ffb0"/>
<rect x="217.13" y="322.78" width="2.62" height="27.19" fill="#edffed"/>
<rect x="219.70" y="322.78" width="1.29" height="27.19" fill="#deffde"/>
<rect x="220.94" y="322.78" width="2.19" height="27.19" fill="#e6ffe6"/>
<rect x="223.08" y="322.78" width="2.83" height="27.19" fill="#e4ffe4"/>
<rect x="225.86" y="322.78" width="2.37" height="27.19" fill="#81ff81"/>
<rect x="228.18" y="322.78" width="1.49" height="27.19" fill="#fcfffc"/>
<rect x="229.62" y="322.78" width="2.45" height="27.19" fill="#eaffea"/>
<rect x="232.02" y="322.78" width="2.03" height="27.19" fill="#d5ffd5"/>
<rect x="234.00" y="322.78" width="1.49" height="27.19" fill="#baffba"/>
<rect x="235.44" y="322.78" width="1.45" height="27.19" fill="#cdffcd"/>
<rect x="236.84" y="322.78" width="1.46" height="27.19" fill="#abffab"/>
<rect x="238.26" y="322.78" width="2.74" height="27.19" fill="#efffef"/>
<rect x="240.95" y="322.78" width="2.19" height="27.19" fill="#bcffbc"/>
<rect x="243.09" y="322.78" width="2.30" height="27.19" fill="#e4ffe4"/>
<rect x="245.34" y="322.78" width="2.56" height="27.19" fill="#f3fff3"/>
<rect x="247.84" y="322.78" width="1.65" height="27.19" fill="#ffffff"/>
<rect x="249.44" y="322.78" width="1.36" height="27.19" fill="#d3ffd3"/>
<rect x="250.76" y="322.78" width="2.93" height="27.19" fill="#fefffe"/>
<rect x="253.63" y="322.78" width="2.10" height="27.19" fill="#e4ffe4"/>
<rect x="255.68" y="322.78" width="1.09" height="27.19" fill="#fff5f5"/>
<rect x="256.72" y="322.78" width="2.30" height="27.19" fill="#ffeeee"/>
<rect x="258.97" y="322.78" width="2.09" height="27.19" fill="#fff8f8"/>
<rect x="261.01" y="322.78" width="3.03" height="27.19" fill="#f4fff4"/>
<rect x="263.98" y="322.78" width="2.32" height="27.19" fill="#ffeeee"/>
<rect x="266.25" y="322.78" width="0.92" height="27.19" fill="#98ff98"/>
<rect x="267.12" y="322.78" width="2.73" height="27.19" fill="#c8ffc8"/>
<rect x="269.80" y="322.78" width="2.00" height="27.19" fill="#ffb6b6"/>
<rect x="271.74" y="322.78" width="2.01" height="27.19" fill="#ffc8c8"/>
<rect x="273.70" y="322.78" width="1.95" height="27.19" fill="#ffcbcb"/>
<rect x="275.60" y="322.78" width="1.92" height="27.19" fill="#ffe5e5"/>
<rect x="277.47" y="322.78" width="1.92" height="27.19" fill="#c8ffc8"/>
<rect x="279.34" y="322.78" width="1.15" height="27.19" fill="#fffefe"/>
<rect x="280.44" y="322.78" width="1.59" height="27.19" fill="#fff6f6"/>
<rect x="281.98" y="322.78" width="2.94" height="27.19" fill="#d1ffd1"/>
<rect x="284.87" y="322.78" width="2.74" height="27.19" fill="#ffd6d6"/>
<rect x="287.56" y="322.78" width="2.15" height="27.19" fill="#ffdfdf"/>
<rect x="289.65" y="322.78" width="2.20" height="27.19" fill="#f6fff6"/>
<rect x="291.80" y="322.78" width="1.99" height="27.19" fill="#ebffeb"/>
<rect x="293.74" y="322.78" width="0.92" height="27.19" fill="#ffa6a6"/>
<rect x="294.61" y="322.78" width="0.90" height="27.19" fill="#ffe7e7"/>
<rect x="295.47" y="322.78" width="2.68" height="27.19" fill="#ffeded"/>
<rect x="298.09" y="322.78" width="2.52" height="27.19" fill="#f9fff9"/>
<rect x="300.56" y="322.78" width="0.85" height="27.19" fill="#ffa3a3"/>
<rect x="301.36" y="322.78" width="2.68" height="27.19" fill="#ffc2c2"/>
<rect x="303.99" y="322.78" width="1.59" height="27.19" fill="#ffe0e0"/>
<rect x="305.53" y="322.78" width="1.43" height="27.19" fill="#ffd7d7"/>
<rect x="306.91" y="322.78" width="2.01" height="27.19" fill="#fff8f8"/>
<rect x="308.87" y="322.78" width="1.37" height="27.19" fill="#ffafaf"/>
<rect x="310.18" y="322.78" width="1.24" height="27.19" fill="#ffcdcd"/>
<rect x="311.37" y="322.78" width="2.57" height="27.19" fill="#ffc6c6"/>
<rect x="313.89" y="322.78" width="1.37" height="27.19" fill="#ffecec"/>
<rect x="315.22" y="322.78" width="1.41" height="27.19" fill="#fff3f3"/>
<rect x="316.58" y="322.78" width="1.26" height="27.19" fill="#ffd9d9"/>
<rect x="317.78" y="322.78" width="2.45" height="27.19" fill="#ffbfbf"/>
<rect x="320.18" y="322.78" width="2.59" height="27.19" fill="#ffebeb"/>
<rect x="322.72" y="322.78" width="1.39" height="27.19" fill="#ffe0e0"/>
<rect x="324.06" y="322.78" width="1.76" height="27.19" fill="#ffbaba"/>
<rect x="325.77" y="322.78" width="2.85" height="27.19" fill="#ffdfdf"/>
<rect x="328.57" y="322.78" width="1.70" height="27.19" fill="#ffb3b3"/>
<rect x="330.23" y="322.78" width="1.59" height="27.19" fill="#ffadad"/>
<rect x="331.77" y="322.78" width="1.68" height="27.19" fill="#ffe8e8"/>
<rect x="333.41" y="322.78" width="1.90" height="27.19" fill="#ffaeae"/>
<rect x="335.25" y="322.78" width="0.88" height="27.19" fill="#ffffff"/>
<rect x="336.08" y="322.78" width="2.86" height="27.19" fill="#ffdcdc"/>
<rect x="338.89" y="322.78" width="1.30" height="27.19" fill="#ff9b9b"/>
<rect x="340.15" y="322.78" width="1.60" height="27.19" fill="#e3ffe3"/>
<rect x="341.70" y="322.78" width="1.16" height="27.19" fill="#fff0f0"/>
<rect x="342.81" y="322.78" width="1.15" height="27.19" fill="#cdffcd"/>
<rect x="343.91" y="322.78" width="2.79" height="27.19" fill="#ffe9e9"/>
<rect x="346.65" y="322.78" width="1.67" height="27.19" fill="#cbffcb"/>
<rect x="348.27" y="322.78" width="1.45" height="27.19" fill="#ffd0d0"/>
<rect x="349.67" y="322.78" width="1.61" height="27.19" fill="#fff6f6"/>
<rect x="351.24" y="322.78" width="1.53" height="27.19" fill="#ffd5d5"/>
<rect x="352.71" y="322.78" width="2.04" height="27.19" fill="#ffcccc"/>
<rect x="354.70" y="322.78" width="2.53" height="27.19" fill="#f0fff0"/>
<rect x="357.18" y="322.78" width="1.34" height="27.19" fill="#fff9f9"/>
<rect x="358.47" y="322.78" width="1.53" height="27.19" fill="#ffd7d7"/>
<rect x="359.95" y="322.78" width="1.20" height="27.19" fill="#d1ffd1"/>
<rect x="361.10" y="322.78" width="2.10" height="27.19" fill="#ffeeee"/>
<rect x="363.15" y="322.78" width="1.86" height="27.19" fill="#ffa0a0"/>
<rect x="364.96" y="322.78" width="2.71" height="27.19" fill="#fff3f3"/>
<rect x="367.62" y="322.78" width="3.00" height="27.19" fill="#fff3f3"/>
<rect x="370.57" y="322.78" width="2.53" height="27.19" fill="#ffe6e6"/>
<rect x="373.05" y="322.78" width="1.23" height="27.19" fill="#ffd6d6"/>
<rect x="374.23" y="322.78" width="1.32" height="27.19" fill="#ffc4c4"/>
<rect x="375.50" y="322.78" width="1.95" height="27.19" fill="#bdffbd"/>
<rect x="377.40" y="322.78" width="1.87" height="27.19" fill="#bdffbd"/>
<rect x="379.22" y="322.78" width="0.94" height="27.19" fill="#c0ffc0"/>
<rect x="380.11" y="322.78" width="2.21" height="27.19" fill="#9fff9f"/>
<rect x="382.27" y="322.78" width="1.55" height="27.19" fill="#ffa8a8"/>
<rect x="383.77" y="322.78" width="2.79" height="27.19" fill="#ffe6e6"/>
<rect x="386.52" y="322.78" width="1.86" height="27.19" fill="#ffd8d8"/>
<rect x="388.33" y="322.78" width="2.86" height="27.19" fill="#ffbdbd"/>
<rect x="391.14" y="322.78" width="2.79" height="27.19" fill="#ff7272"/>
<rect x="393.88" y="322.78" width="1.97" height="27.19" fill="#ffa8a8"/>
<rect x="395.80" y="322.78" width="2.44" height="27.19" fill="#ffc8c8"/>
<rect x="398.19" y="322.78" width="2.13" height="27.19" fill="#ff9696"/>
<rect x="400.27" y="322.78" width="1.06" height="27.19" fill="#ff7d7d"/>
<rect x="401.29" y="322.78" width="1.61" height="27.19" fill="#ffeded"/>
<rect x="402.85" y="322.78" width="1.98" height="27.19" fill="#ffd5d5"/>
<rect x="404.78" y="322.78" width="0.85" height="27.19" fill="#ffe2e2"/>
<rect x="405.59" y="322.78" width="2.24" height="27.19" fill="#ffc5c5"/>
<rect x="407.78" y="322.78" width="1.05" height="27.19" fill="#ffefef"/>
<rect x="408.77" y="322.78" width="2.98" height="27.19" fill="#ffc5c5"/>
<rect x="411.71" y="322.78" width="1.82" height="27.19" fill="#ff8e8e"/>
<rect x="413.48" y="322.78" width="2.67" height="27.19" fill="#ffa5a5"/>
<rect x="416.11" y="322.78" width="1.41" height="27.19" fill="#ffa3a3"/>
<rect x="417.47" y="322.78" width="2.07" height="27.19" fill="#ffdede"/>
<rect x="419.49" y="322.78" width="1.93" height="27.19" fill="#ffe3e3"/>
<rect x="421.36" y="322.78" width="1.96" height="27.19" fill="#ffc2c2"/>
<rect x="423.27" y="322.78" width="1.28" height="27.19" fill="#ffb7b7"/>
<rect x="424.50" y="322.78" width="3.00" height="27.19" fill="#ff8484"/>
<rect x="427.46" y="322.78" width="2.36" height="27.19" fill="#ffb5b5"/>
<rect x="429.76" y="322.78" width="2.61" height="27.19" fill="#fffbfb"/>
<rect x="432.33" y="322.78" width="2.64" height="27.19" fill="#ffcece"/>
<rect x="434.92" y="322.78" width="0.90" height="27.19" fill="#ffacac"/>
<rect x="435.77" y="322.78" width="1.60" height="27.19" fill="#ffb9b9"/>
<rect x="437.32" y="322.78" width="2.90" height="27.19" fill="#fff5f5"/>
<rect x="440.18" y="322.78" width="0.99" height="27.19" fill="#ffcece"/>
<rect x="441.12" y="322.78" width="2.77" height="27.19" fill="#ffd5d5"/>
<rect x="443.83" y="322.78" width="1.26" height="27.19" fill="#ffdada"/>
<rect x="445.04" y="322.78" width="2.22" height="27.19" fill="#fffefe"/>
<rect x="447.21" y="322.78" width="2.45" height="27.19" fill="#ff8383"/>
<rect x="449.61" y="322.78" width="2.58" height="27.19" fill="#ffacac"/>
<rect x="452.14" y="322.78" width="2.10" height="27.19" fill="#ff9696"/>
<rect x="454.19" y="322.78" width="1.70" height="27.19" fill="#86ff86"/>
<rect x="455.84" y="322.78" width="0.90" height="27.19" fill="#b9ffb9"/>
<rect x="456.69" y="322.78" width="2.29" height="27.19" fill="#ceffce"/>
<rect x="458.93" y="322.78" width="2.38" height="27.19" fill="#79ff79"/>
<rect x="461.25" y="322.78" width="1.26" height="27.19" fill="#95ff95"/>
<rect x="462.47" y="322.78" width="2.36" height="27.19" fill="#b6ffb6"/>
<rect x="464.78" y="322.78" width="2.86" height="27.19" fill="#8cff8c"/>
<rect x="467.58" y="322.78" width="2.94" height="27.19" fill="#55ff55"/>
<rect x="470.48" y="322.78" width="1.58" height="27.19" fill="#59ff59"/>
<rect x="472.01" y="322.78" width="2.00" height="27.19" fill="#8eff8e"/>
<rect x="473.96" y="322.78" width="2.03" height="27.19" fill="#98ff98"/>
<rect x="475.94" y="322.78" width="2.49" height="27.19" fill="#98ff98"/>
<rect x="478.38" y="322.78" width="1.38" height="27.19" fill="#b0ffb0"/>
<rect x="479.71" y="322.78" width="1.00" height="27.19" fill="#b7ffb7"/>
<rect x="480.66" y="322.78" width="2.94" height="27.19" fill="#a2ffa2"/>
<rect x="483.55" y="322.78" width="1.76" height="27.19" fill="#82ff82"/>
<rect x="485.26" y="322.78" width="2.96" height="27.19" fill="#a6ffa6"/>
<rect x="488.17" y="322.78" width="1.80" height="27.19" fill="#80ff80"/>
<rect x="489.92" y="322.78" width="2.26" height="27.19" fill="#60ff60"/>
<rect x="492.13" y="322.78" width="2.84" height="27.19" fill="#97ff97"/>
<rect x="494.92" y="322.78" width="2.01" height="27.19" fill="#c4ffc4"/>
<rect x="496.88" y="322.78" width="2.54" height="27.19" fill="#abffab"/>
<rect x="499.36" y="322.78" width="1.45" height="27.19" fill="#9fff9f"/>
<rect x="500.76" y="322.78" width="2.45" height="27.19" fill="#7eff7e"/>
<rect x="503.16" y="322.78" width="2.40" height="27.19" fill="#cfffcf"/>
<rect x="505.52" y="322.78" width="1.80" height="27.19" fill="#7eff7e"/>
<rect x="507.27" y="322.78" width="2.80" height="27.19" fill="#d6ffd6"/>
<rect x="510.02" y="322.78" width="1.01" height="27.19" fill="#58ff58"/>
<rect x="510.98" y="322.78" width="1.13" height="27.19" fill="#95ff95"/>
<rect x="512.06" y="322.78" width="2.11" height="27.19" fill="#5dff5d"/>
<rect x="514.12" y="322.78" width="2.35" height="27.19" fill="#3aff3a"/>
<rect x="516.42" y="322.78" width="0.95" height="27.19" fill="#cdffcd"/>
<rect x="517.32" y="322.78" width="1.89" height="27.19" fill="#c9ffc9"/>
<rect x="519.16" y="322.78" width="1.01" height="27.19" fill="#d7ffd7"/>
<rect x="520.12" y="322.78" width="2.95" height="27.19" fill="#b1ffb1"/>
<rect x="523.02" y="322.78" width="1.92" height="27.19" fill="#7dff7d"/>
<rect x="524.89" y="322.78" width="1.11" height="27.19" fill="#87ff87"/>
<rect x="525.96" y="322.78" width="1.34" height="27.19" fill="#b4ffb4"/>
<rect x="527.24" y="322.78" width="1.73" height="27.19" fill="#78ff78"/>
<rect x="528.92" y="322.78" width="1.42" height="27.19" fill="#a6ffa6"/>
<rect x="530.29" y="322.78" width="1.65" height="27.19" fill="#e0ffe0"/>
<rect x="531.89" y="322.78" width="1.85" height="27.19" fill="#fffcfc"/>
<rect x="533.69" y="322.78" width="1.52" height="27.19" fill="#ffbaba"/>
<rect x="535.16" y="322.78" width="1.85" height="27.19" fill="#ceffce"/>
<rect x="536.96" y="322.78" width="1.68" height="27.19" fill="#ffdcdc"/>
<rect x="538.58" y="322.78" width="3.00" height="27.19" fill="#ffe0e0"/>
<rect x="541.53" y="322.78" width="2.48" height="27.19" fill="#f3fff3"/>
<rect x="543.96" y="322.78" width="2.44" height="27.19" fill="#ffb6b6"/>
<rect x="546.36" y="322.78" width="1.81" height="27.19" fill="#fff8f8"/>
<rect x="548.11" y="322.78" width="1.35" height="27.19" fill="#ffe2e2"/>
<rect x="549.41" y="322.78" width="1.60" height="27.19" fill="#eaffea"/>
<rect x="550.96" y="322.78" width="0.89" height="27.19" fill="#e1ffe1"/>
<rect x="551.80" y="322.78" width="2.20" height="27.19" fill="#ff6e6e"/>
<rect x="553.95" y="322.78" width="1.73" height="27.19" fill="#ff7575"/>
<rect x="555.62" y="322.78" width="0.98" height="27.19" fill="#ff8d8d"/>
<rect x="556.56" y="322.78" width="2.66" height="27.19" fill="#ff7a7a"/>
<rect x="559.16" y="322.78" width="2.42" height="27.19" fill="#ffabab"/>
<rect x="561.53" y="322.78" width="2.49" height="27.19" fill="#ffa4a4"/>
<rect x="563.97" y="322.78" width="2.08" height="27.19" fill="#ff9999"/>
<rect x="566.01" y="322.78" width="3.02" height="27.19" fill="#ff6464"/>
<rect x="568.98" y="322.78" width="2.45" height="27.19" fill="#ff5d5d"/>
<rect x="571.38" y="322.78" width="1.45" height="27.19" fill="#ffb4b4"/>
<rect x="572.78" y="322.78" width="1.22" height="27.19" fill="#ff5959"/>
<rect x="573.95" y="322.78" width="2.82" height="27.19" fill="#ff5757"/>
<rect x="576.71" y="322.78" width="1.77" height="27.19" fill="#ff6161"/>
<rect x="578.44" y="322.78" width="2.18" height="27.19" fill="#ff7272"/>
<rect x="580.57" y="322.78" width="2.10" height="27.19" fill="#ff3d3d"/>
<rect x="582.62" y="322.78" width="1.63" height="27.19" fill="#ff4747"/>
<rect x="584.20" y="322.78" width="2.37" height="27.19" fill="#ff5656"/>
<rect x="586.52" y="322.78" width="2.67" height="27.19" fill="#ffa1a1"/>
<rect x="589.14" y="322.78" width="2.03" height="27.19" fill="#ffd7d7"/>
<rect x="591.13" y="322.78" width="1.67" height="27.19" fill="#ff9797"/>
<rect x="592.75" y="322.78" width="2.77" height="27.19" fill="#ff9d9d"/>
<rect x="595.47" y="322.78" width="1.40" height="27.19" fill="#ffdada"/>
<rect x="596.82" y="322.78" width="2.60" height="27.19" fill="#ff7c7c"/>
<rect x="599.37" y="322.78" width="1.43" height="27.19" fill="#ffeded"/>
<rect x="600.75" y="322.78" width="2.65" height="27.19" fill="#ff8888"/>
<rect x="603.35" y="322.78" width="1.31" height="27.19" fill="#ff9c9c"/>
<rect x="604.61" y="322.78" width="2.78" height="27.19" fill="#ffc1c1"/>
<rect x="607.35" y="322.78" width="1.89" height="27.19" fill="#ff9b9b"/>
<rect x="609.19" y="322.78" width="2.10" height="27.19" fill="#ff6969"/>
<rect x="611.24" y="322.78" width="3.02" height="27.19" fill="#ff8888"/>
<rect x="614.22" y="322.78" width="1.18" height="27.19" fill="#ff7373"/>
<rect x="615.35" y="322.78" width="1.60" height="27.19" fill="#ffb0b0"/>
<rect x="616.90" y="322.78" width="2.86" height="27.19" fill="#ff7e7e"/>
<rect x="619.71" y="322.78" width="1.23" height="27.19" fill="#ffafaf"/>
<rect x="620.89" y="322.78" width="2.79" height="27.19" fill="#ff6060"/>
<rect x="623.63" y="322.78" width="1.35" height="27.19" fill="#ffe2e2"/>
<rect x="624.93" y="322.78" width="0.95" height="27.19" fill="#ffbebe"/>
<rect x="625.83" y="322.78" width="0.99" height="27.19" fill="#ffb9b9"/>
<rect x="626.77" y="322.78" width="1.06" height="27.19" fill="#fffcfc"/>
<rect x="627.78" y="322.78" width="1.63" height="27.19" fill="#ffa1a1"/>
<rect x="629.36" y="322.78" width="0.99" height="27.19" fill="#fff3f3"/>
<rect x="630.29" y="322.78" width="0.90" height="27.19" fill="#ffd8d8"/>
<rect x="631.14" y="322.78" width="2.32" height="27.19" fill="#ffe6e6"/>
<rect x="633.41" y="322.78" width="1.56" height="27.19" fill="#ffeeee"/>
<rect x="634.92" y="322.78" width="1.63" height="27.19" fill="#ffcbcb"/>
<rect x="636.50" y="322.78" width="1.40" height="27.19" fill="#fff3f3"/>
<rect x="637.85" y="322.78" width="1.53" height="27.19" fill="#ffb6b6"/>
<rect x="639.33" y="322.78" width="1.44" height="27.19" fill="#ff9d9d"/>
<rect x="640.72" y="322.78" width="1.98" height="27.19" fill="#ffa4a4"/>
<rect x="642.65" y="322.78" width="2.80" height="27.19" fill="#ffd0d0"/>
<rect x="645.40" y="322.78" width="2.37" height="27.19" fill="#fbfffb"/>
<rect x="647.72" y="322.78" width="1.76" height="27.19" fill="#fff2f2"/>
<rect x="649.43" y="322.78" width="2.01" height="27.19" fill="#ffb6b6"/>
<rect x="651.39" y="322.78" width="2.36" height="27.19" fill="#ffebeb"/>
<rect x="71.30" y="349.97" width="1.51" height="27.19" fill="#ffeded"/>
<rect x="72.76" y="349.97" width="2.60" height="27.19" fill="#ffc8c8"/>
<rect x="75.31" y="349.97" width="2.76" height="27.19" fill="#ffc7c7"/>
<rect x="78.03" y="349.97" width="2.35" height="27.19" fill="#ffc8c8"/>
<rect x="80.33" y="349.97" width="1.72" height="27.19" fill="#ffeaea"/>
<rect x="82.00" y="349.97" width="2.79" height="27.19" fill="#ff6363"/>
<rect x="84.74" y="349.97" width="1.01" height="27.19" fill="#ffb7b7"/>
<rect x="85.70" y="349.97" width="2.99" height="27.19" fill="#ffdcdc"/>
<rect x="88.64" y="349.97" width="2.75" height="27.19" fill="#ffbebe"/>
<rect x="91.34" y="349.97" width="3.03" height="27.19" fill="#ffcaca"/>
<rect x="94.32" y="349.97" width="1.18" height="27.19" fill="#ff7f7f"/>
<rect x="95.44" y="349.97" width="2.26" height="27.19" fill="#ff8f8f"/>
<rect x="97.65" y="349.97" width="1.81" height="27.19" fill="#ff9595"/>
<rect x="99.41" y="349.97" width="2.15" height="27.19" fill="#ffc6c6"/>
<rect x="101.51" y="349.97" width="2.83" height="27.19" fill="#ffbdbd"/>
<rect x="104.29" y="349.97" width="1.33" height="27.19" fill="#ffdddd"/>
<rect x="105.57" y="349.97" width="2.12" height="27.19" fill="#ffa4a4"/>
<rect x="107.64" y="349.97" width="0.89" height="27.19" fill="#ffa9a9"/>
<rect x="108.48" y="349.97" width="1.01" height="27.19" fill="#ff7f7f"/>
<rect x="109.44" y="349.97" width="1.58" height="27.19" fill="#ffdbdb"/>
<rect x="110.97" y="349.97" width="2.25" height="27.19" fill="#ffbebe"/>
<rect x="113.17" y="349.97" width="2.64" height="27.19" fill="#ffebeb"/>
<rect x="115.76" y="349.97" width="0.93" height="27.19" fill="#ffeeee"/>
<rect x="116.64" y="349.97" width="1.16" height="27.19" fill="#ffb0b0"/>
<rect x="117.75" y="349.97" width="1.89" height="27.19" fill="#ffaaaa"/>
<rect x="119.59" y="349.97" width="1.56" height="27.19" fill="#ffb6b6"/>
<rect x="121.10" y="349.97" width="2.25" height="27.19" fill="#ff7070"/>
<rect x="123.29" y="349.97" width="2.91" height="27.19" fill="#ff8686"/>
<rect x="126.15" y="349.97" width="2.66" height="27.19" fill="#ffa6a6"/>
<rect x="128.76" y="349.97" width="2.42" height="27.19" fill="#ffa2a2"/>
<rect x="131.14" y="349.97" width="1.38" height="27.19" fill="#ff8c8c"/>
<rect x="132.47" y="349.97" width="2.87" height="27.19" fill="#ffb9b9"/>
<rect x="135.28" y="349.97" width="1.37" height="27.19" fill="#ffbebe"/>
<rect x="136.61" y="349.97" width="2.71" height="27.19" fill="#ffd1d1"/>
<rect x="139.26" y="349.97" width="2.23" height="27.19" fill="#edffed"/>
<rect x="141.45" y="349.97" width="2.43" height="27.19" fill="#ffbfbf"/>
<rect x="143.82" y="349.97" width="1.69" height="27.19" fill="#ffb2b2"/>
<rect x="145.47" y="349.97" width="0.96" height="27.19" fill="#ff4e4e"/>
<rect x="146.38" y="349.97" width="1.58" height="27.19" fill="#ffa1a1"/>
<rect x="147.90" y="349.97" width="2.15" height="27.19" fill="#ff9f9f"/>
<rect x="150.01" y="349.97" width="1.95" height="27.19" fill="#ff8b8b"/>
<rect x="151.90" y="349.97" width="2.09" height="27.19" fill="#ff7e7e"/>
<rect x="153.95" y="349.97" width="1.02" height="27.19" fill="#ff6868"/>
<rect x="154.92" y="349.97" width="0.92" height="27.19" fill="#ff7171"/>
<rect x="155.79" y="349.97" width="2.21" height="27.19" fill="#ff5a5a"/>
<rect x="157.96" y="349.97" width="2.52" height="27.19" fill="#ffc1c1"/>
<rect x="160.43" y="349.97" width="1.17" height="27.19" fill="#ffcbcb"/>
<rect x="161.56" y="349.97" width="0.93" height="27.19" fill="#ff7777"/>
<rect x="162.44" y="349.97" width="1.04" height="27.19" fill="#ffe8e8"/>
<rect x="163.43" y="349.97" width="2.71" height="27.19" fill="#ffffff"/>
<rect x="166.09" y="349.97" width="1.10" height="27.19" fill="#ffefef"/>
<rect x="167.14" y="349.97" width="1.27" height="27.19" fill="#ffadad"/>
<rect x="168.36" y="349.97" width="1.22" height="27.19" fill="#ffb0b0"/>
<rect x="169.53" y="349.97" width="2.03" height="27.19" fill="#ffcece"/>
<rect x="171.51" y="349.97" width="1.97" height="27.19" fill="#ffb1b1"/>
<rect x="173.42" y="349.97" width="1.89" height="27.19" fill="#ff8f8f"/>
<rect x="175.27" y="349.97" width="1.59" height="27.19" fill="#ffe8e8"/>
<rect x="176.81" y="349.97" width="2.80" height="27.19" fill="#ffdede"/>
<rect x="179.56" y="349.97" width="2.92" height="27.19" fill="#ffd2d2"/>
<rect x="182.43" y="349.97" width="1.69" height="27.19" fill="#ffc8c8"/>
<rect x="184.07" y="349.97" width="2.85" height="27.19" fill="#fff6f6"/>
<rect x="186.87" y="349.97" width="1.48" height="27.19" fill="#ffcfcf"/>
<rect x="188.29" y="349.97" width="2.39" height="27.19" fill="#ff8686"/>
<rect x="190.63" y="349.97" width="1.26" height="27.19" fill="#fff6f6"/>
<rect x="191.84" y="349.97" width="1.10" height="27.19" fill="#ff9494"/>
<rect x="192.89" y="349.97" width="2.48" height="27.19" fill="#ffa9a9"/>
<rect x="195.32" y="349.97" width="2.96" height="27.19" fill="#ffd9d9"/>
<rect x="198.23" y="349.97" width="2.12" height="27.19" fill="#ff5959"/>
<rect x="200.30" y="349.97" width="2.29" height="27.19" fill="#ffd4d4"/>
<rect x="202.54" y="349.97" width="1.17" height="27.19" fill="#ffa5a5"/>
<rect x="203.66" y="349.97" width="2.57" height="27.19" fill="#ffd1d1"/>
<rect x="206.17" y="349.97" width="2.23" height="27.19" fill="#ff8585"/>
<rect x="208.36" y="349.97" width="1.27" height="27.19" fill="#ff6161"/>
<rect x="209.58" y="349.97" width="2.74" height="27.19" fill="#ff6464"/>
<rect x="212.26" y="349.97" width="2.38" height="27.19" fill="#ff8282"/>
<rect x="214.59" y="349.97" width="2.72" height="27.19" fill="#ff7171"/>
<rect x="217.26" y="349.97" width="0.85" height="27.19" fill="#ffcccc"/>
<rect x="218.06" y="349.97" width="0.85" height="27.19" fill="#ff8d8d"/>
<rect x="218.87" y="349.97" width="2.25" height="27.19" fill="#ffd1d1"/>
<rect x="221.07" y="349.97" width="2.43" height="27.19" fill="#ff7b7b"/>
<rect x="223.44" y="349.97" width="2.73" height="27.19" fill="#ff5757"/>
<rect x="226.13" y="349.97" width="1.78" height="27.19" fill="#ff8e8e"/>
<rect x="227.85" y="349.97" width="2.48" height="27.19" fill="#ff5f5f"/>
<rect x="230.29" y="349.97" width="2.36" height="27.19" fill="#ff5b5b"/>
<rect x="232.59" y="349.97" width="1.30" height="27.19" fill="#ff4d4d"/>
<rect x="233.84" y="349.97" width="1.21" height="27.19" fill="#ff5b5b"/>
<rect x="235.00" y="349.97" width="2.46" height="27.19" fill="#ff7777"/>
<rect x="237.40" y="349.97" width="2.33" height="27.19" fill="#ffecec"/>
<rect x="239.69" y="349.97" width="0.93" height="27.19" fill="#ffcece"/>
<rect x="240.57" y="349.97" width="2.66" height="27.19" fill="#ffdede"/>
<rect x="243.18" y="349.97" width="1.67" height="27.19" fill="#fffcfc"/>
<rect x="244.80" y="349.97" width="2.26" height="27.19" fill="#ffe8e8"/>
<rect x="247.01" y="349.97" width="1.21" height="27.19" fill="#ffeeee"/>
<rect x="248.17" y="349.97" width="2.02" height="27.19" fill="#ffaaaa"/>
<rect x="250.14" y="349.97" width="1.61" height="27.19" fill="#ffa9a9"/>
<rect x="251.69" y="349.97" width="2.33" height="27.19" fill="#ffd6d6"/>
<rect x="253.97" y="349.97" width="2.13" height="27.19" fill="#e9ffe9"/>
<rect x="256.05" y="349.97" width="2.34" height="27.19" fill="#ffafaf"/>
<rect x="258.34" y="349.97" width="2.24" height="27.19" fill="#ffd1d1"/>
<rect x="260.53" y="349.97" width="0.87" height="27.19" fill="#ffe8e8"/>
<rect x="261.36" y="349.97" width="1.97" height="27.19" fill="#ffc8c8"/>
<rect x="263.28" y="349.97" width="0.98" height="27.19" fill="#ffabab"/>
<rect x="264.21" y="349.97" width="3.03" height="27.19" fill="#ffa8a8"/>
<rect x="267.19" y="349.97" width="1.49" height="27.19" fill="#fff5f5"/>
<rect x="268.62" y="349.97" width="1.72" height="27.19" fill="#e4ffe4"/>
<rect x="270.29" y="349.97" width="1.91" height="27.19" fill="#b8ffb8"/>
<rect x="272.16" y="349.97" width="3.05" height="27.19" fill="#fbfffb"/>
<rect x="275.16" y="349.97" width="1.73" height="27.19" fill="#fff6f6"/>
<rect x="276.84" y="349.97" width="1.18" height="27.19" fill="#f2fff2"/>
<rect x="277.96" y="349.97" width="2.17" height="27.19" fill="#dcffdc"/>
<rect x="280.09" y="349.97" width="1.66" height="27.19" fill="#b2ffb2"/>
<rect x="281.70" y="349.97" width="1.32" height="27.19" fill="#ffdbdb"/>
<rect x="282.97" y="349.97" width="1.14" height="27.19" fill="#deffde"/>
<rect x="284.06" y="349.97" width="2.81" height="27.19" fill="#d9ffd9"/>
<rect x="286.82" y="349.97" width="1.32" height="27.19" fill="#ccffcc"/>
<rect x="288.09" y="349.97" width="2.18" height="27.19" fill="#ffd6d6"/>
<rect x="290.22" y="349.97" width="1.17" height="27.19" fill="#f3fff3"/>
<rect x="291.33" y="349.97" width="1.09" height="27.19" fill="#fff3f3"/>
<rect x="292.37" y="349.97" width="2.83" height="27.19" fill="#e5ffe5"/>
<rect x="295.16" y="349.97" width="1.30" height="27.19" fill="#fff7f7"/>
<rect x="296.41" y="349.97" width="1.51" height="27.19" fill="#e6ffe6"/>
<rect x="297.87" y="349.97" width="1.31" height="27.19" fill="#d0ffd0"/>
<rect x="299.13" y="349.97" width="2.94" height="27.19" fill="#ceffce"/>
<rect x="302.02" y="349.97" width="1.55" height="27.19" fill="#ccffcc"/>
<rect x="303.52" y="349.97" width="0.94" height="27.19" fill="#8dff8d"/>
<rect x="304.41" y="349.97" width="1.16" height="27.19" fill="#85ff85"/>
<rect x="305.52" y="349.97" width="1.40" height="27.19" fill="#c0ffc0"/>
<rect x="306.87" y="349.97" width="1.55" height="27.19" fill="#f6fff6"/>
<rect x="308.37" y="349.97" width="1.59" height="27.19" fill="#fff2f2"/>
<rect x="309.91" y="349.97" width="2.38" height="27.19" fill="#f2fff2"/>
<rect x="312.24" y="349.97" width="1.06" height="27.19" fill="#b1ffb1"/>
<rect x="313.25" y="349.97" width="2.67" height="27.19" fill="#a5ffa5"/>
<rect x="315.87" y="349.97" width="1.66" height="27.19" fill="#daffda"/>
<rect x="317.48" y="349.97" width="2.99" height="27.19" fill="#caffca"/>
<rect x="320.42" y="349.97" width="2.17" height="27.19" fill="#cdffcd"/>
<rect x="322.54" y="349.97" width="2.54" height="27.19" fill="#a0ffa0"/>
<rect x="325.03" y="349.97" width="1.74" height="27.19" fill="#abffab"/>
<rect x="326.73" y="349.97" width="1.67" height="27.19" fill="#bcffbc"/>
<rect x="328.35" y="349.97" width="1.63" height="27.19" fill="#ebffeb"/>
<rect x="329.93" y="349.97" width="2.71" height="27.19" fill="#e9ffe9"/>
<rect x="332.59" y="349.97" width="1.70" height="27.19" fill="#a6ffa6"/>
<rect x="334.24" y="349.97" width="1.40" height="27.19" fill="#d2ffd2"/>
<rect x="335.59" y="349.97" width="2.88" height="27.19" fill="#e8ffe8"/>
<rect x="338.42" y="349.97" width="1.68" height="27.19" fill="#e7ffe7"/>
<rect x="340.05" y="349.97" width="2.81" height="27.19" fill="#f8fff8"/>
<rect x="342.81" y="349.97" width="1.41" height="27.19" fill="#daffda"/>
<rect x="344.17" y="349.97" width="1.63" height="27.19" fill="#bfffbf"/>
<rect x="345.75" y="349.97" width="1.29" height="27.19" fill="#cfffcf"/>
<rect x="346.99" y="349.97" width="2.45" height="27.19" fill="#fefffe"/>
<rect x="349.40" y="349.97" width="2.26" height="27.19" fill="#e3ffe3"/>
<rect x="351.60" y="349.97" width="1.11" height="27.19" fill="#ebffeb"/>
<rect x="352.67" y="349.97" width="2.59" height="27.19" fill="#d4ffd4"/>
<rect x="355.21" y="349.97" width="2.17" height="27.19" fill="#d5ffd5"/>
<rect x="357.33" y="349.97" width="0.93" height="27.19" fill="#bbffbb"/>
<rect x="358.20" y="349.97" width="1.64" height="27.19" fill="#e9ffe9"/>
<rect x="359.79" y="349.97" width="2.76" height="27.19" fill="#c8ffc8"/>
<rect x="362.50" y="349.97" width="1.05" height="27.19" fill="#d0ffd0"/>
<rect x="363.50" y="349.97" width="1.06" height="27.19" fill="#f7fff7"/>
<rect x="364.52" y="349.97" width="3.03" height="27.19" fill="#edffed"/>
<rect x="367.50" y="349.97" width="2.82" height="27.19" fill="#ffebeb"/>
<rect x="370.27" y="349.97" width="1.89" height="27.19" fill="#c9ffc9"/>
<rect x="372.11" y="349.97" width="2.32" height="27.19" fill="#f1fff1"/>
<rect x="374.39" y="349.97" width="1.98" height="27.19" fill="#fdfffd"/>
<rect x="376.32" y="349.97" width="2.37" height="27.19" fill="#ffecec"/>
<rect x="378.64" y="349.97" width="1.05" height="27.19" fill="#ffcdcd"/>
<rect x="379.64" y="349.97" width="0.95" height="27.19" fill="#ff8282"/>
<rect x="380.54" y="349.97" width="1.82" height="27.19" fill="#ff6666"/>
<rect x="382.31" y="349.97" width="2.09" height="27.19" fill="#a7ffa7"/>
<rect x="384.35" y="349.97" width="2.71" height="27.19" fill="#efffef"/>
<rect x="387.01" y="349.97" width="0.85" height="27.19" fill="#a3ffa3"/>
<rect x="387.81" y="349.97" width="1.00" height="27.19" fill="#aeffae"/>
<rect x="388.77" y="349.97" width="2.54" height="27.19" fill="#86ff86"/>
<rect x="391.26" y="349.97" width="2.00" height="27.19" fill="#96ff96"/>
<rect x="393.20" y="349.97" width="1.87" height="27.19" fill="#e7ffe7"/>
<rect x="395.02" y="349.97" width="1.15" height="27.19" fill="#e8ffe8"/>
<rect x="396.12" y="349.97" width="2.02" height="27.19" fill="#b0ffb0"/>
<rect x="398.09" y="349.97" width="2.69" height="27.19" fill="#b1ffb1"/>
<rect x="400.73" y="349.97" width="1.20" height="27.19" fill="#dfffdf"/>
<rect x="401.88" y="349.97" width="2.51" height="27.19" fill="#5bff5b"/>
<rect x="404.35" y="349.97" width="2.91" height="27.19" fill="#b7ffb7"/>
<rect x="407.21" y="349.97" width="1.36" height="27.19" fill="#c4ffc4"/>
<rect x="408.52" y="349.97" width="2.85" height="27.19" fill="#a0ffa0"/>
<rect x="411.32" y="349.97" width="1.38" height="27.19" fill="#b6ffb6"/>
<rect x="412.65" y="349.97" width="2.43" height="27.19" fill="#b9ffb9"/>
<rect x="415.03" y="349.97" width="1.88" height="27.19" fill="#8dff8d"/>
<rect x="416.86" y="349.97" width="1.85" height="27.19" fill="#9cff9c"/>
<rect x="418.66" y="349.97" width="2.10" height="27.19" fill="#7fff7f"/>
<rect x="420.71" y="349.97" width="0.95" height="27.19" fill="#e0ffe0"/>
<rect x="421.61" y="349.97" width="1.02" height="27.19" fill="#c8ffc8"/>
<rect x="422.58" y="349.97" width="2.92" height="27.19" fill="#b7ffb7"/>
<rect x="425.46" y="349.97" width="1.66" height="27.19" fill="#abffab"/>
<rect x="427.07" y="349.97" width="1.15" height="27.19" fill="#79ff79"/>
<rect x="428.17" y="349.97" width="1.24" height="27.19" fill="#ddffdd"/>
<rect x="429.36" y="349.97" width="0.88" height="27.19" fill="#b5ffb5"/>
<rect x="430.19" y="349.97" width="2.59" height="27.19" fill="#e0ffe0"/>
<rect x="432.73" y="349.97" width="1.27" height="27.19" fill="#9aff9a"/>
<rect x="433.95" y="349.97" width="1.52" height="27.19" fill="#ebffeb"/>
<rect x="435.41" y="349.97" width="1.63" height="27.19" fill="#74ff74"/>
<rect x="436.99" y="349.97" width="2.63" height="27.19" fill="#beffbe"/>
<rect x="439.58" y="349.97" width="2.17" height="27.19" fill="#fffafa"/>
<rect x="441.70" y="349.97" width="3.03" height="27.19" fill="#9dff9d"/>
<rect x="444.68" y="349.97" width="2.62" height="27.19" fill="#c8ffc8"/>
<rect x="447.25" y="349.97" width="2.70" height="27.19" fill="#c7ffc7"/>
<rect x="449.90" y="349.97" width="1.30" height="27.19" fill="#ecffec"/>
<rect x="451.15" y="349.97" width="0.96" height="27.19" fill="#88ff88"/>
<rect x="452.06" y="349.97" width="1.49" height="27.19" fill="#68ff68"/>
<rect x="453.50" y="349.97" width="2.65" height="27.19" fill="#f5fff5"/>
<rect x="456.10" y="349.97" width="1.39" height="27.19" fill="#ff7777"/>
<rect x="457.44" y="349.97" width="0.99" height="27.19" fill="#ffdfdf"/>
<rect x="458.38" y="349.97" width="1.76" height="27.19" fill="#ff9595"/>
<rect x="460.09" y="349.97" width="1.49" height="27.19" fill="#ffd8d8"/>
<rect x="461.53" y="349.97" width="2.33" height="27.19" fill="#ff8888"/>
<rect x="463.81" y="349.97" width="1.44" height="27.19" fill="#ffcaca"/>
<rect x="465.21" y="349.97" width="1.50" height="27.19" fill="#ffd6d6"/>
<rect x="466.66" y="349.97" width="1.91" height="27.19" fill="#ffd0d0"/>
<rect x="468.52" y="349.97" width="2.78" height="27.19" fill="#ff8b8b"/>
<rect x="471.25" y="349.97" width="0.90" height="27.19" fill="#ffcccc"/>
<rect x="472.10" y="349.97" width="2.58" height="27.19" fill="#ff9a9a"/>
<rect x="474.63" y="349.97" width="2.50" height="27.19" fill="#ff8181"/>
<rect x="477.08" y="349.97" width="2.59" height="27.19" fill="#ff4c4c"/>
<rect x="479.63" y="349.97" width="2.33" height="27.19" fill="#ffb4b4"/>
<rect x="481.91" y="349.97" width="2.02" height="27.19" fill="#ff9999"/>
<rect x="483.88" y="349.97" width="2.74" height="27.19" fill="#ffdbdb"/>
<rect x="486.57" y="349.97" width="2.50" height="27.19" fill="#ff9797"/>
<rect x="489.03" y="349.97" width="0.96" height="27.19" fill="#ff9393"/>
<rect x="489.93" y="349.97" width="1.68" height="27.19" fill="#ff5e5e"/>
<rect x="491.56" y="349.97" width="1.17" height="27.19" fill="#ff7a7a"/>
<rect x="492.68" y="349.97" width="1.93" height="27.19" fill="#ff7676"/>
<rect x="494.55" y="349.97" width="0.87" height="27.19" fill="#ff9191"/>
<rect x="495.37" y="349.97" width="2.46" height="27.19" fill="#ff4646"/>
<rect x="497.78" y="349.97" width="1.03" height="27.19" fill="#ff9d9d"/>
<rect x="498.76" y="349.97" width="2.46" height="27.19" fill="#ff2525"/>
<rect x="501.17" y="349.97" width="0.92" height="27.19" fill="#ff5454"/>
<rect x="502.04" y="349.97" width="1.59" height="27.19" fill="#ff3838"/>
<rect x="503.59" y="349.97" width="1.12" height="27.19" fill="#ff4545"/>
<rect x="504.66" y="349.97" width="1.45" height="27.19" fill="#ff5555"/>
<rect x="506.06" y="349.97" width="1.75" height="27.19" fill="#ff5c5c"/>
<rect x="507.76" y="349.97" width="1.81" height="27.19" fill="#ff9292"/>
<rect x="509.52" y="349.97" width="2.85" height="27.19" fill="#ff7d7d"/>
<rect x="512.32" y="349.97" width="1.35" height="27.19" fill="#ff4b4b"/>
<rect x="513.62" y="349.97" width="2.18" height="27.19" fill="#ff2525"/>
<rect x="515.75" y="349.97" width="3.03" height="27.19" fill="#ffcaca"/>
<rect x="518.74" y="349.97" width="1.31" height="27.19" fill="#ff7979"/>
<rect x="520.00" y="349.97" width="2.70" height="27.19" fill="#ff6666"/>
<rect x="522.65" y="349.97" width="2.58" height="27.19" fill="#ff7979"/>
<rect x="525.18" y="349.97" width="1.43" height="27.19" fill="#ff3535"/>
<rect x="526.56" y="349.97" width="2.43" height="27.19" fill="#ff4848"/>
<rect x="528.93" y="349.97" width="2.49" height="27.19" fill="#ff7b7b"/>
<rect x="531.38" y="349.97" width="2.01" height="27.19" fill="#fbfffb"/>
<rect x="533.33" y="349.97" width="1.56" height="27.19" fill="#ffe6e6"/>
<rect x="534.85" y="349.97" width="1.32" height="27.19" fill="#ffe8e8"/>
<rect x="536.11" y="349.97" width="2.96" height="27.19" fill="#ff8b8b"/>
<rect x="539.02" y="349.97" width="2.72" height="27.19" fill="#fff2f2"/>
<rect x="541.69" y="349.97" width="2.10" height="27.19" fill="#ffa5a5"/>
<rect x="543.74" y="349.97" width="2.69" height="27.19" fill="#ffecec"/>
<rect x="546.38" y="349.97" width="0.98" height="27.19" fill="#ffdede"/>
<rect x="547.31" y="349.97" width="3.03" height="27.19" fill="#fcfffc"/>
<rect x="550.29" y="349.97" width="2.34" height="27.19" fill="#fff5f5"/>
<rect x="552.58" y="349.97" width="2.26" height="27.19" fill="#c3ffc3"/>
<rect x="554.79" y="349.97" width="2.83" height="27.19" fill="#5bff5b"/>
<rect x="557.57" y="349.97" width="1.30" height="27.19" fill="#27ff27"/>
<rect x="558.82" y="349.97" width="2.35" height="27.19" fill="#ccffcc"/>
<rect x="561.12" y="349.97" width="1.73" height="27.19" fill="#61ff61"/>
<rect x="562.79" y="349.97" width="1.35" height="27.19" fill="#6dff6d"/>
<rect x="564.09" y="349.97" width="2.86" height="27.19" fill="#8aff8a"/>
<rect x="566.90" y="349.97" width="0.90" height="27.19" fill="#87ff87"/>
<rect x="567.74" y="349.97" width="2.20" height="27.19" fill="#42ff42"/>
<rect x="569.89" y="349.97" width="1.60" height="27.19" fill="#dfffdf"/>
<rect x="571.44" y="349.97" width="2.35" height="27.19" fill="#7dff7d"/>
<rect x="573.74" y="349.97" width="2.32" height="27.19" fill="#33ff33"/>
<rect x="576.01" y="349.97" width="2.64" height="27.19" fill="#3eff3e"/>
<rect x="578.60" y="349.97" width="1.86" height="27.19" fill="#97ff97"/>
<rect x="580.41" y="349.97" width="2.75" height="27.19" fill="#6bff6b"/>
<rect x="583.11" y="349.97" width="1.65" height="27.19" fill="#a9ffa9"/>
<rect x="584.71" y="349.97" width="3.02" height="27.19" fill="#68ff68"/>
<rect x="587.67" y="349.97" width="2.73" height="27.19" fill="#b5ffb5"/>
<rect x="590.35" y="349.97" width="2.82" height="27.19" fill="#39ff39"/>
<rect x="593.12" y="349.97" width="0.87" height="27.19" fill="#97ff97"/>
<rect x="593.95" y="349.97" width="1.72" height="27.19" fill="#c3ffc3"/>
<rect x="595.62" y="349.97" width="2.37" height="27.19" fill="#bfffbf"/>
<rect x="597.94" y="349.97" width="1.12" height="27.19" fill="#b7ffb7"/>
<rect x="599.01" y="349.97" width="1.78" height="27.19" fill="#b0ffb0"/>
<rect x="600.74" y="349.97" width="1.28" height="27.19" fill="#87ff87"/>
<rect x="601.97" y="349.97" width="1.35" height="27.19" fill="#c4ffc4"/>
<rect x="603.27" y="349.97" width="1.49" height="27.19" fill="#a8ffa8"/>
<rect x="604.71" y="349.97" width="2.00" height="27.19" fill="#e3ffe3"/>
<rect x="606.66" y="349.97" width="1.62" height="27.19" fill="#d2ffd2"/>
<rect x="608.23" y="349.97" width="2.64" height="27.19" fill="#adffad"/>
<rect x="610.82" y="349.97" width="2.76" height="27.19" fill="#6fff6f"/>
<rect x="613.53" y="349.97" width="0.97" height="27.19" fill="#ceffce"/>
<rect x="614.45" y="349.97" width="3.03" height="27.19" fill="#d1ffd1"/>
<rect x="617.43" y="349.97" width="1.20" height="27.19" fill="#78ff78"/>
<rect x="618.58" y="349.97" width="1.15" height="27.19" fill="#91ff91"/>
<rect x="619.67" y="349.97" width="1.97" height="27.19" fill="#9aff9a"/>
<rect x="621.59" y="349.97" width="1.00" height="27.19" fill="#fff4f4"/>
<rect x="622.55" y="349.97" width="1.42" height="27.19" fill="#acffac"/>
<rect x="623.92" y="349.97" width="1.55" height="27.19" fill="#d0ffd0"/>
<rect x="625.42" y="349.97" width="2.84" height="27.19" fill="#fdfffd"/>
<rect x="628.22" y="349.97" width="1.41" height="27.19" fill="#aeffae"/>
<rect x="629.57" y="349.97" width="1.05" height="27.19" fill="#e4ffe4"/>
<rect x="630.57" y="349.97" width="2.94" height="27.19" fill="#acffac"/>
<rect x="633.46" y="349.97" width="2.43" height="27.19" fill="#b1ffb1"/>
<rect x="635.83" y="349.97" width="0.98" height="27.19" fill="#b2ffb2"/>
<rect x="636.77" y="349.97" width="2.65" height="27.19" fill="#dcffdc"/>
<rect x="639.37" y="349.97" width="2.39" height="27.19" fill="#e8ffe8"/>
<rect x="641.71" y="349.97" width="2.01" height="27.19" fill="#f6fff6"/>
<rect x="643.67" y="349.97" width="2.44" height="27.19" fill="#9aff9a"/>
<rect x="646.05" y="349.97" width="1.57" height="27.19" fill="#b9ffb9"/>
<rect x="647.58" y="349.97" width="2.01" height="27.19" fill="#84ff84"/>
<rect x="649.53" y="349.97" width="1.48" height="27.19" fill="#ccffcc"/>
<rect x="650.97" y="349.97" width="1.66" height="27.19" fill="#9dff9d"/>
<rect x="652.57" y="349.97" width="0.85" height="27.19" fill="#edffed"/>
<rect x="653.38" y="349.97" width="0.37" height="27.19" fill="#e4ffe4"/>
<rect x="71.30" y="377.16" width="1.21" height="27.19" fill="#ffc3c3"/>
<rect x="72.46" y="377.16" width="2.95" height="27.19" fill="#ffe3e3"/>
<rect x="75.36" y="377.16" width="1.36" height="27.19" fill="#fffafa"/>
<rect x="76.67" y="377.16" width="1.94" height="27.19" fill="#ffdede"/>
<rect x="78.56" y="377.16" width="1.66" height="27.19" fill="#ffd5d5"/>
<rect x="80.17" y="377.16" width="2.02" height="27.19" fill="#fffefe"/>
<rect x="82.14" y="377.16" width="0.92" height="27.19" fill="#f2fff2"/>
<rect x="83.01" y="377.16" width="2.39" height="27.19" fill="#deffde"/>
<rect x="85.35" y="377.16" width="2.36" height="27.19" fill="#ffd6d6"/>
<rect x="87.66" y="377.16" width="1.19" height="27.19" fill="#ff5858"/>
<rect x="88.81" y="377.16" width="2.86" height="27.19" fill="#ffb2b2"/>
<rect x="91.62" y="377.16" width="1.66" height="27.19" fill="#b7ffb7"/>
<rect x="93.23" y="377.16" width="1.00" height="27.19" fill="#c9ffc9"/>
<rect x="94.18" y="377.16" width="1.63" height="27.19" fill="#f3fff3"/>
<rect x="95.76" y="377.16" width="1.63" height="27.19" fill="#d7ffd7"/>
<rect x="97.34" y="377.16" width="2.30" height="27.19" fill="#fbfffb"/>
<rect x="99.59" y="377.16" width="2.03" height="27.19" fill="#f0fff0"/>
<rect x="101.56" y="377.16" width="1.43" height="27.19" fill="#d9ffd9"/>
<rect x="102.94" y="377.16" width="1.39" height="27.19" fill="#e1ffe1"/>
<rect x="104.28" y="377.16" width="2.07" height="27.19" fill="#f3fff3"/>
<rect x="106.30" y="377.16" width="2.42" height="27.19" fill="#fffefe"/>
<rect x="108.67" y="377.16" width="1.29" height="27.19" fill="#baffba"/>
<rect x="109.91" y="377.16" width="1.47" height="27.19" fill="#bdffbd"/>
<rect x="111.33" y="377.16" width="1.77" height="27.19" fill="#eeffee"/>
<rect x="113.04" y="377.16" width="1.12" height="27.19" fill="#fff2f2"/>
<rect x="114.11" y="377.16" width="1.71" height="27.19" fill="#b0ffb0"/>
<rect x="115.77" y="377.16" width="1.22" height="27.19" fill="#bfffbf"/>
<rect x="116.94" y="377.16" width="0.86" height="27.19" fill="#78ff78"/>
<rect x="117.75" y="377.16" width="1.03" height="27.19" fill="#dcffdc"/>
<rect x="118.73" y="377.16" width="1.10" height="27.19" fill="#9eff9e"/>
<rect x="119.79" y="377.16" width="1.15" height="27.19" fill="#ecffec"/>
<rect x="120.89" y="377.16" width="2.61" height="27.19" fill="#f0fff0"/>
<rect x="123.45" y="377.16" width="1.15" height="27.19" fill="#c5ffc5"/>
<rect x="124.55" y="377.16" width="0.91" height="27.19" fill="#dfffdf"/>
<rect x="125.41" y="377.16" width="2.35" height="27.19" fill="#dbffdb"/>
<rect x="127.71" y="377.16" width="2.69" height="27.19" fill="#a5ffa5"/>
<rect x="130.35" y="377.16" width="2.62" height="27.19" fill="#f2fff2"/>
<rect x="132.92" y="377.16" width="2.53" height="27.19" fill="#ecffec"/>
<rect x="135.40" y="377.16" width="3.02" height="27.19" fill="#c3ffc3"/>
<rect x="138.37" y="377.16" width="2.98" height="27.19" fill="#f1fff1"/>
<rect x="141.31" y="377.16" width="2.79" height="27.19" fill="#e5ffe5"/>
<rect x="144.05" y="377.16" width="0.99" height="27.19" fill="#bfffbf"/>
<rect x="144.99" y="377.16" width="2.95" height="27.19" fill="#b8ffb8"/>
<rect x="147.88" y="377.16" width="0.99" height="27.19" fill="#cbffcb"/>
<rect x="148.83" y="377.16" width="1.03" height="27.19" fill="#93ff93"/>
<rect x="149.80" y="377.16" width="2.73" height="27.19" fill="#edffed"/>
<rect x="152.48" y="377.16" width="1.82" height="27.19" fill="#fff7f7"/>
<rect x="154.25" y="377.16" width="1.75" height="27.19" fill="#e1ffe1"/>
<rect x="155.95" y="377.16" width="1.86" height="27.19" fill="#f5fff5"/>
<rect x="157.76" y="377.16" width="1.78" height="27.19" fill="#d3ffd3"/>
<rect x="159.49" y="377.16" width="2.67" height="27.19" fill="#95ff95"/>
<rect x="162.11" y="377.16" width="1.20" height="27.19" fill="#9eff9e"/>
<rect x="163.26" y="377.16" width="2.70" height="27.19" fill="#a0ffa0"/>
<rect x="165.91" y="377.16" width="0.96" height="27.19" fill="#b2ffb2"/>
<rect x="166.82" y="377.16" width="1.80" height="27.19" fill="#fcfffc"/>
<rect x="168.57" y="377.16" width="1.42" height="27.19" fill="#daffda"/>
<rect x="169.94" y="377.16" width="2.08" height="27.19" fill="#87ff87"/>
<rect x="171.97" y="377.16" width="1.30" height="27.19" fill="#fdfffd"/>
<rect x="173.22" y="377.16" width="0.91" height="27.19" fill="#e6ffe6"/>
<rect x="174.08" y="377.16" width="0.88" height="27.19" fill="#88ff88"/>
<rect x="174.91" y="377.16" width="1.39" height="27.19" fill="#91ff91"/>
<rect x="176.26" y="377.16" width="1.47" height="27.19" fill="#98ff98"/>
<rect x="177.67" y="377.16" width="1.49" height="27.19" fill="#ceffce"/>
<rect x="179.11" y="377.16" width="2.34" height="27.19" fill="#b0ffb0"/>
<rect x="181.40" y="377.16" width="1.61" height="27.19" fill="#f9fff9"/>
<rect x="182.96" y="377.16" width="2.27" height="27.19" fill="#bfffbf"/>
<rect x="185.18" y="377.16" width="1.10" height="27.19" fill="#fcfffc"/>
<rect x="186.23" y="377.16" width="1.07" height="27.19" fill="#d8ffd8"/>
<rect x="187.25" y="377.16" width="1.16" height="27.19" fill="#cdffcd"/>
<rect x="188.37" y="377.16" width="2.90" height="27.19" fill="#b0ffb0"/>
<rect x="191.22" y="377.16" width="2.69" height="27.19" fill="#fcfffc"/>
<rect x="193.85" y="377.16" width="2.22" height="27.19" fill="#c6ffc6"/>
<rect x="196.02" y="377.16" width="1.56" height="27.19" fill="#aaffaa"/>
<rect x="197.54" y="377.16" width="2.26" height="27.19" fill="#ecffec"/>
<rect x="199.75" y="377.16" width="2.43" height="27.19" fill="#cdffcd"/>
<rect x="202.13" y="377.16" width="1.81" height="27.19" fill="#d4ffd4"/>
<rect x="203.89" y="377.16" width="2.05" height="27.19" fill="#9cff9c"/>
<rect x="205.89" y="377.16" width="2.34" height="27.19" fill="#c7ffc7"/>
<rect x="208.18" y="377.16" width="2.07" height="27.19" fill="#ceffce"/>
<rect x="210.20" y="377.16" width="2.80" height="27.19" fill="#deffde"/>
<rect x="212.95" y="377.16" width="1.50" height="27.19" fill="#a6ffa6"/>
<rect x="214.40" y="377.16" width="1.24" height="27.19" fill="#b8ffb8"/>
<rect x="215.59" y="377.16" width="1.04" height="27.19" fill="#d0ffd0"/>
<rect x="216.58" y="377.16" width="1.28" height="27.19" fill="#f8fff8"/>
<rect x="217.80" y="377.16" width="2.00" height="27.19" fill="#e4ffe4"/>
<rect x="219.75" y="377.16" width="2.22" height="27.19" fill="#f9fff9"/>
<rect x="221.93" y="377.16" width="2.20" height="27.19" fill="#c1ffc1"/>
<rect x="224.07" y="377.16" width="1.32" height="27.19" fill="#f2fff2"/>
<rect x="225.35" y="377.16" width="2.14" height="27.19" fill="#fdfffd"/>
<rect x="227.44" y="377.16" width="2.54" height="27.19" fill="#c4ffc4"/>
<rect x="229.93" y="377.16" width="1.67" height="27.19" fill="#97ff97"/>
<rect x="231.55" y="377.16" width="1.26" height="27.19" fill="#e4ffe4"/>
<rect x="232.75" y="377.16" width="3.01" height="27.19" fill="#57ff57"/>
<rect x="235.71" y="377.16" width="1.70" height="27.19" fill="#f1fff1"/>
<rect x="237.36" y="377.16" width="0.89" height="27.19" fill="#9cff9c"/>
<rect x="238.20" y="377.16" width="2.57" height="27.19" fill="#adffad"/>
<rect x="240.72" y="377.16" width="2.48" height="27.19" fill="#a4ffa4"/>
<rect x="243.15" y="377.16" width="2.32" height="27.19" fill="#adffad"/>
<rect x="245.42" y="377.16" width="1.05" height="27.19" fill="#b3ffb3"/>
<rect x="246.42" y="377.16" width="2.98" height="27.19" fill="#9aff9a"/>
<rect x="249.35" y="377.16" width="1.22" height="27.19" fill="#aaffaa"/>
<rect x="250.52" y="377.16" width="2.80" height="27.19" fill="#caffca"/>
<rect x="253.27" y="377.16" width="2.42" height="27.19" fill="#e1ffe1"/>
<rect x="255.64" y="377.16" width="1.05" height="27.19" fill="#f2fff2"/>
<rect x="256.64" y="377.16" width="0.86" height="27.19" fill="#ffe5e5"/>
<rect x="257.45" y="377.16" width="2.25" height="27.19" fill="#c1ffc1"/>
<rect x="259.65" y="377.16" width="1.21" height="27.19" fill="#b4ffb4"/>
<rect x="260.81" y="377.16" width="1.10" height="27.19" fill="#eaffea"/>
<rect x="261.86" y="377.16" width="1.89" height="27.19" fill="#90ff90"/>
<rect x="263.70" y="377.16" width="1.56" height="27.19" fill="#b7ffb7"/>
<rect x="265.21" y="377.16" width="2.17" height="27.19" fill="#c6ffc6"/>
<rect x="267.33" y="377.16" width="0.95" height="27.19" fill="#f9fff9"/>
<rect x="268.23" y="377.16" width="1.92" height="27.19" fill="#ffdede"/>
<rect x="270.10" y="377.16" width="1.81" height="27.19" fill="#ffc4c4"/>
<rect x="271.87" y="377.16" width="2.17" height="27.19" fill="#ffdfdf"/>
<rect x="273.99" y="377.16" width="2.60" height="27.19" fill="#ffa7a7"/>
<rect x="276.54" y="377.16" width="1.37" height="27.19" fill="#ffacac"/>
<rect x="277.86" y="377.16" width="1.41" height="27.19" fill="#ffdfdf"/>
<rect x="279.22" y="377.16" width="1.81" height="27.19" fill="#ffe4e4"/>
<rect x="280.98" y="377.16" width="1.43" height="27.19" fill="#fff2f2"/>
<rect x="282.36" y="377.16" width="1.81" height="27.19" fill="#ffffff"/>
<rect x="284.13" y="377.16" width="2.06" height="27.19" fill="#ffbdbd"/>
<rect x="286.13" y="377.16" width="2.94" height="27.19" fill="#ffd9d9"/>
<rect x="289.02" y="377.16" width="0.88" height="27.19" fill="#fff8f8"/>
<rect x="289.86" y="377.16" width="2.65" height="27.19" fill="#ffdada"/>
<rect x="292.46" y="377.16" width="1.94" height="27.19" fill="#ffaaaa"/>
<rect x="294.35" y="377.16" width="0.89" height="27.19" fill="#ffe7e7"/>
<rect x="295.19" y="377.16" width="1.54" height="27.19" fill="#ffaeae"/>
<rect x="296.69" y="377.16" width="2.98" height="27.19" fill="#ffdcdc"/>
<rect x="299.62" y="377.16" width="2.85" height="27.19" fill="#ffebeb"/>
<rect x="302.42" y="377.16" width="1.38" height="27.19" fill="#fff1f1"/>
<rect x="303.75" y="377.16" width="2.88" height="27.19" fill="#ff9595"/>
<rect x="306.58" y="377.16" width="1.29" height="27.19" fill="#fff3f3"/>
<rect x="307.82" y="377.16" width="2.14" height="27.19" fill="#ffe7e7"/>
<rect x="309.91" y="377.16" width="1.38" height="27.19" fill="#ffa2a2"/>
<rect x="311.25" y="377.16" width="1.35" height="27.19" fill="#ff8b8b"/>
<rect x="312.55" y="377.16" width="2.14" height="27.19" fill="#ffb2b2"/>
<rect x="314.63" y="377.16" width="3.04" height="27.19" fill="#d6ffd6"/>
<rect x="317.63" y="377.16" width="1.97" height="27.19" fill="#ffacac"/>
<rect x="319.55" y="377.16" width="1.08" height="27.19" fill="#ffe4e4"/>
<rect x="320.57" y="377.16" width="1.04" height="27.19" fill="#ffc9c9"/>
<rect x="321.56" y="377.16" width="2.54" height="27.19" fill="#ffb9b9"/>
<rect x="324.05" y="377.16" width="1.17" height="27.19" fill="#ffe4e4"/>
<rect x="325.17" y="377.16" width="1.83" height="27.19" fill="#e3ffe3"/>
<rect x="326.95" y="377.16" width="2.40" height="27.19" fill="#ff9292"/>
<rect x="329.30" y="377.16" width="2.57" height="27.19" fill="#fff8f8"/>
<rect x="331.81" y="377.16" width="1.13" height="27.19" fill="#ffc9c9"/>
<rect x="332.89" y="377.16" width="1.47" height="27.19" fill="#ffb4b4"/>
<rect x="334.32" y="377.16" width="1.80" height="27.19" fill="#ff9090"/>
<rect x="336.07" y="377.16" width="2.54" height="27.19" fill="#fdfffd"/>
<rect x="338.56" y="377.16" width="1.73" height="27.19" fill="#ff8d8d"/>
<rect x="340.24" y="377.16" width="2.36" height="27.19" fill="#ff8e8e"/>
<rect x="342.56" y="377.16" width="2.01" height="27.19" fill="#ffc9c9"/>
<rect x="344.51" y="377.16" width="0.86" height="27.19" fill="#ff9797"/>
<rect x="345.33" y="377.16" width="1.98" height="27.19" fill="#ff9090"/>
<rect x="347.25" y="377.16" width="1.74" height="27.19" fill="#ff8484"/>
<rect x="348.94" y="377.16" width="2.16" height="27.19" fill="#ffe4e4"/>
<rect x="351.05" y="377.16" width="2.57" height="27.19" fill="#ff9c9c"/>
<rect x="353.58" y="377.16" width="1.08" height="27.19" fill="#ffcece"/>
<rect x="354.61" y="377.16" width="2.94" height="27.19" fill="#ffb1b1"/>
<rect x="357.49" y="377.16" width="2.48" height="27.19" fill="#ffe0e0"/>
<rect x="359.92" y="377.16" width="1.34" height="27.19" fill="#ff8989"/>
<rect x="361.21" y="377.16" width="0.90" height="27.19" fill="#ff6565"/>
<rect x="362.06" y="377.16" width="0.88" height="27.19" fill="#ffe5e5"/>
<rect x="362.89" y="377.16" width="2.31" height="27.19" fill="#ffd7d7"/>
<rect x="365.15" y="377.16" width="1.36" height="27.19" fill="#ffa1a1"/>
<rect x="366.46" y="377.16" width="2.54" height="27.19" fill="#ffaeae"/>
<rect x="368.95" y="377.16" width="2.18" height="27.19" fill="#ff8888"/>
<rect x="371.08" y="377.16" width="1.26" height="27.19" fill="#ff9e9e"/>
<rect x="372.28" y="377.16" width="2.16" height="27.19" fill="#ffa9a9"/>
<rect x="374.39" y="377.16" width="2.25" height="27.19" fill="#ffe2e2"/>
<rect x="376.59" y="377.16" width="2.70" height="27.19" fill="#ff6161"/>
<rect x="379.25" y="377.16" width="2.79" height="27.19" fill="#ff0a0a"/>
<rect x="381.98" y="377.16" width="2.37" height="27.19" fill="#ffacac"/>
<rect x="384.30" y="377.16" width="1.39" height="27.19" fill="#ff7c7c"/>
<rect x="385.65" y="377.16" width="2.20" height="27.19" fill="#ff8686"/>
<rect x="387.79" y="377.16" width="2.19" height="27.19" fill="#ffbebe"/>
<rect x="389.93" y="377.16" width="2.38" height="27.19" fill="#ff9a9a"/>
<rect x="392.26" y="377.16" width="1.55" height="27.19" fill="#ffb5b5"/>
<rect x="393.76" y="377.16" width="2.24" height="27.19" fill="#ff8282"/>
<rect x="395.95" y="377.16" width="2.54" height="27.19" fill="#ff9191"/>
<rect x="398.44" y="377.16" width="1.84" height="27.19" fill="#ffdbdb"/>
<rect x="400.23" y="377.16" width="2.28" height="27.19" fill="#ffc0c0"/>
<rect x="402.46" y="377.16" width="2.08" height="27.19" fill="#ff6868"/>
<rect x="404.49" y="377.16" width="1.65" height="27.19" fill="#ff8989"/>
<rect x="406.09" y="377.16" width="2.94" height="27.19" fill="#ffa4a4"/>
<rect x="408.98" y="377.16" width="2.84" height="27.19" fill="#ff6767"/>
<rect x="411.77" y="377.16" width="0.89" height="27.19" fill="#ffb1b1"/>
<rect x="412.61" y="377.16" width="1.00" height="27.19" fill="#ffbfbf"/>
<rect x="413.56" y="377.16" width="2.66" height="27.19" fill="#ff5555"/>
<rect x="416.17" y="377.16" width="1.24" height="27.19" fill="#ffb6b6"/>
<rect x="417.37" y="377.16" width="1.94" height="27.19" fill="#ffa6a6"/>
<rect x="419.26" y="377.16" width="1.49" height="27.19" fill="#ffb0b0"/>
<rect x="420.69" y="377.16" width="0.98" height="27.19" fill="#ffb7b7"/>
<rect x="421.62" y="377.16" width="2.14" height="27.19" fill="#ffaeae"/>
<rect x="423.71" y="377.16" width="2.44" height="27.19" fill="#ffcaca"/>
<rect x="426.10" y="377.16" width="2.77" height="27.19" fill="#ff9999"/>
<rect x="428.82" y="377.16" width="2.17" height="27.19" fill="#ff8b8b"/>
<rect x="430.94" y="377.16" width="2.34" height="27.19" fill="#ff5454"/>
<rect x="433.24" y="377.16" width="1.30" height="27.19" fill="#ff8d8d"/>
<rect x="434.49" y="377.16" width="2.23" height="27.19" fill="#ff8a8a"/>
<rect x="436.67" y="377.16" width="1.89" height="27.19" fill="#ffcaca"/>
<rect x="438.50" y="377.16" width="1.62" height="27.19" fill="#ffb7b7"/>
<rect x="440.08" y="377.16" width="1.11" height="27.19" fill="#ffe7e7"/>
<rect x="441.14" y="377.16" width="2.01" height="27.19" fill="#ffa9a9"/>
<rect x="443.10" y="377.16" width="2.19" height="27.19" fill="#ffcaca"/>
<rect x="445.23" y="377.16" width="1.48" height="27.19" fill="#ff8b8b"/>
<rect x="446.66" y="377.16" width="1.39" height="27.19" fill="#ffb9b9"/>
<rect x="448.00" y="377.16" width="2.35" height="27.19" fill="#ff8d8d"/>
<rect x="450.30" y="377.16" width="1.70" height="27.19" fill="#ff7272"/>
<rect x="451.95" y="377.16" width="1.59" height="27.19" fill="#ffb3b3"/>
<rect x="453.49" y="377.16" width="1.06" height="27.19" fill="#ff9696"/>
<rect x="454.49" y="377.16" width="1.63" height="27.19" fill="#ffa2a2"/>
<rect x="456.07" y="377.16" width="2.78" height="27.19" fill="#ffbebe"/>
<rect x="458.81" y="377.16" width="2.70" height="27.19" fill="#ff5252"/>
<rect x="461.46" y="377.16" width="2.15" height="27.19" fill="#ffeded"/>
<rect x="463.56" y="377.16" width="1.65" height="27.19" fill="#ffe7e7"/>
<rect x="465.16" y="377.16" width="2.51" height="27.19" fill="#ffd3d3"/>
<rect x="467.62" y="377.16" width="1.78" height="27.19" fill="#ffdddd"/>
<rect x="469.35" y="377.16" width="1.17" height="27.19" fill="#ff9393"/>
<rect x="470.48" y="377.16" width="1.37" height="27.19" fill="#ffb4b4"/>
<rect x="471.79" y="377.16" width="1.84" height="27.19" fill="#ffb2b2"/>
<rect x="473.58" y="377.16" width="1.53" height="27.19" fill="#ff7979"/>
<rect x="475.06" y="377.16" width="2.03" height="27.19" fill="#ffa2a2"/>
<rect x="477.04" y="377.16" width="2.92" height="27.19" fill="#ff7d7d"/>
<rect x="479.91" y="377.16" width="1.94" height="27.19" fill="#ff8a8a"/>
<rect x="481.80" y="377.16" width="2.33" height="27.19" fill="#ff8f8f"/>
<rect x="484.08" y="377.16" width="1.52" height="27.19" fill="#ff9393"/>
<rect x="485.55" y="377.16" width="1.48" height="27.19" fill="#ff9393"/>
<rect x="486.98" y="377.16" width="2.52" height="27.19" fill="#ff9494"/>
<rect x="489.45" y="377.16" width="1.06" height="27.19" fill="#ff9b9b"/>
<rect x="490.46" y="377.16" width="1.93" height="27.19" fill="#ff8e8e"/>
<rect x="492.34" y="377.16" width="2.58" height="27.19" fill="#ffabab"/>
<rect x="494.86" y="377.16" width="0.91" height="27.19" fill="#ff8181"/>
<rect x="495.73" y="377.16" width="1.71" height="27.19" fill="#ff7878"/>
<rect x="497.38" y="377.16" width="2.04" height="27.19" fill="#ff8e8e"/>
<rect x="499.37" y="377.16" width="1.01" height="27.19" fill="#ff3232"/>
<rect x="500.33" y="377.16" width="2.05" height="27.19" fill="#ffa1a1"/>
<rect x="502.33" y="377.16" width="2.17" height="27.19" fill="#ff9595"/>
<rect x="504.45" y="377.16" width="1.82" height="27.19" fill="#ff3d3d"/>
<rect x="506.23" y="377.16" width="0.94" height="27.19" fill="#ff4545"/>
<rect x="507.12" y="377.16" width="1.90" height="27.19" fill="#ff2f2f"/>
<rect x="508.97" y="377.16" width="2.57" height="27.19" fill="#ff5d5d"/>
<rect x="511.49" y="377.16" width="0.85" height="27.19" fill="#ffc7c7"/>
<rect x="512.30" y="377.16" width="0.93" height="27.19" fill="#ff0000"/>
<rect x="513.18" y="377.16" width="2.92" height="27.19" fill="#ff5151"/>
<rect x="516.05" y="377.16" width="2.35" height="27.19" fill="#ff2222"/>
<rect x="518.35" y="377.16" width="1.75" height="27.19" fill="#ff9b9b"/>
<rect x="520.05" y="377.16" width="1.61" height="27.19" fill="#ffc0c0"/>
<rect x="521.60" y="377.16" width="1.79" height="27.19" fill="#ffc7c7"/>
<rect x="523.35" y="377.16" width="0.97" height="27.19" fill="#ffb0b0"/>
<rect x="524.27" y="377.16" width="1.90" height="27.19" fill="#ff7a7a"/>
<rect x="526.11" y="377.16" width="2.19" height="27.19" fill="#ffb9b9"/>
<rect x="528.26" y="377.16" width="1.70" height="27.19" fill="#ffefef"/>
<rect x="529.91" y="377.16" width="2.51" height="27.19" fill="#ff8b8b"/>
<rect x="532.37" y="377.16" width="2.07" height="27.19" fill="#ffacac"/>
<rect x="534.39" y="377.16" width="2.74" height="27.19" fill="#fff8f8"/>
<rect x="537.09" y="377.16" width="2.30" height="27.19" fill="#ffb5b5"/>
<rect x="539.34" y="377.16" width="2.20" height="27.19" fill="#ffdddd"/>
<rect x="541.49" y="377.16" width="1.24" height="27.19" fill="#ffb0b0"/>
<rect x="542.69" y="377.16" width="2.60" height="27.19" fill="#ffbcbc"/>
<rect x="545.24" y="377.16" width="2.68" height="27.19" fill="#ffb3b3"/>
<rect x="547.86" y="377.16" width="1.25" height="27.19" fill="#ff9d9d"/>
<rect x="549.06" y="377.16" width="1.86" height="27.19" fill="#ffb9b9"/>
<rect x="550.87" y="377.16" width="1.44" height="27.19" fill="#ffe6e6"/>
<rect x="552.26" y="377.16" width="2.27" height="27.19" fill="#87ff87"/>
<rect x="554.48" y="377.16" width="1.40" height="27.19" fill="#96ff96"/>
<rect x="555.83" y="377.16" width="2.89" height="27.19" fill="#68ff68"/>
<rect x="558.67" y="377.16" width="1.87" height="27.19" fill="#72ff72"/>
<rect x="560.50" y="377.16" width="1.00" height="27.19" fill="#38ff38"/>
<rect x="561.45" y="377.16" width="2.50" height="27.19" fill="#64ff64"/>
<rect x="563.90" y="377.16" width="1.24" height="27.19" fill="#68ff68"/>
<rect x="565.08" y="377.16" width="2.22" height="27.19" fill="#6aff6a"/>
<rect x="567.25" y="377.16" width="2.46" height="27.19" fill="#d2ffd2"/>
<rect x="569.66" y="377.16" width="0.93" height="27.19" fill="#37ff37"/>
<rect x="570.55" y="377.16" width="1.36" height="27.19" fill="#e0ffe0"/>
<rect x="571.85" y="377.16" width="2.69" height="27.19" fill="#91ff91"/>
<rect x="574.49" y="377.16" width="2.50" height="27.19" fill="#c7ffc7"/>
<rect x="576.95" y="377.16" width="1.23" height="27.19" fill="#c9ffc9"/>
<rect x="578.13" y="377.16" width="1.20" height="27.19" fill="#c4ffc4"/>
<rect x="579.28" y="377.16" width="2.53" height="27.19" fill="#71ff71"/>
<rect x="581.76" y="377.16" width="2.98" height="27.19" fill="#81ff81"/>
<rect x="584.69" y="377.16" width="2.10" height="27.19" fill="#a5ffa5"/>
<rect x="586.74" y="377.16" width="2.68" height="27.19" fill="#c4ffc4"/>
<rect x="589.37" y="377.16" width="1.96" height="27.19" fill="#cdffcd"/>
<rect x="591.27" y="377.16" width="2.25" height="27.19" fill="#a0ffa0"/>
<rect x="593.47" y="377.16" width="2.14" height="27.19" fill="#c0ffc0"/>
<rect x="595.57" y="377.16" width="2.78" height="27.19" fill="#9bff9b"/>
<rect x="598.30" y="377.16" width="0.91" height="27.19" fill="#7eff7e"/>
<rect x="599.16" y="377.16" width="2.08" height="27.19" fill="#88ff88"/>
<rect x="601.19" y="377.16" width="2.52" height="27.19" fill="#c0ffc0"/>
<rect x="603.66" y="377.16" width="1.33" height="27.19" fill="#d4ffd4"/>
<rect x="604.94" y="377.16" width="1.65" height="27.19" fill="#a1ffa1"/>
<rect x="606.53" y="377.16" width="0.97" height="27.19" fill="#79ff79"/>
<rect x="607.46" y="377.16" width="2.51" height="27.19" fill="#eeffee"/>
<rect x="609.91" y="377.16" width="1.47" height="27.19" fill="#70ff70"/>
<rect x="611.33" y="377.16" width="1.50" height="27.19" fill="#e7ffe7"/>
<rect x="612.79" y="377.16" width="1.84" height="27.19" fill="#deffde"/>
<rect x="614.58" y="377.16" width="0.91" height="27.19" fill="#80ff80"/>
<rect x="615.44" y="377.16" width="1.00" height="27.19" fill="#88ff88"/>
<rect x="616.40" y="377.16" width="2.00" height="27.19" fill="#9dff9d"/>
<rect x="618.35" y="377.16" width="1.91" height="27.19" fill="#beffbe"/>
<rect x="620.21" y="377.16" width="2.14" height="27.19" fill="#99ff99"/>
<rect x="622.30" y="377.16" width="1.42" height="27.19" fill="#8cff8c"/>
<rect x="623.67" y="377.16" width="1.30" height="27.19" fill="#b5ffb5"/>
<rect x="624.92" y="377.16" width="2.02" height="27.19" fill="#c5ffc5"/>
<rect x="626.88" y="377.16" width="3.02" height="27.19" fill="#eeffee"/>
<rect x="629.85" y="377.16" width="2.23" height="27.19" fill="#c5ffc5"/>
<rect x="632.03" y="377.16" width="1.24" height="27.19" fill="#ffeeee"/>
<rect x="633.22" y="377.16" width="2.88" height="27.19" fill="#fffcfc"/>
<rect x="636.05" y="377.16" width="2.02" height="27.19" fill="#f2fff2"/>
<rect x="638.02" y="377.16" width="1.09" height="27.19" fill="#fffefe"/>
<rect x="639.06" y="377.16" width="1.51" height="27.19" fill="#ffb5b5"/>
<rect x="640.52" y="377.16" width="2.55" height="27.19" fill="#ebffeb"/>
<rect x="643.02" y="377.16" width="2.98" height="27.19" fill="#fff5f5"/>
<rect x="645.95" y="377.16" width="0.90" height="27.19" fill="#f9fff9"/>
<rect x="646.81" y="377.16" width="1.59" height="27.19" fill="#f5fff5"/>
<rect x="648.35" y="377.16" width="1.04" height="27.19" fill="#d8ffd8"/>
<rect x="649.34" y="377.16" width="2.92" height="27.19" fill="#fffbfb"/>
<rect x="652.21" y="377.16" width="1.54" height="27.19" fill="#cfffcf"/>
<rect x="71.30" y="404.35" width="2.57" height="27.19" fill="#fff7f7"/>
<rect x="73.82" y="404.35" width="1.16" height="27.19" fill="#fffefe"/>
<rect x="74.94" y="404.35" width="1.80" height="27.19" fill="#fffafa"/>
<rect x="76.69" y="404.35" width="2.52" height="27.19" fill="#ffdada"/>
<rect x="79.16" y="404.35" width="1.08" height="27.19" fill="#ffc3c3"/>
<rect x="80.18" y="404.35" width="2.14" height="27.19" fill="#ffe4e4"/>
<rect x="82.27" y="404.35" width="1.62" height="27.19" fill="#ff0303"/>
<rect x="83.84" y="404.35" width="2.17" height="27.19" fill="#ff0000"/>
<rect x="85.96" y="404.35" width="1.02" height="27.19" fill="#ff4444"/>
<rect x="86.93" y="404.35" width="2.22" height="27.19" fill="#ff1717"/>
<rect x="89.10" y="404.35" width="1.86" height="27.19" fill="#ffb1b1"/>
<rect x="90.90" y="404.35" width="1.15" height="27.19" fill="#ff2222"/>
<rect x="92.01" y="404.35" width="2.03" height="27.19" fill="#ff8e8e"/>
<rect x="93.99" y="404.35" width="2.40" height="27.19" fill="#ffd3d3"/>
<rect x="96.34" y="404.35" width="2.70" height="27.19" fill="#ffaeae"/>
<rect x="98.99" y="404.35" width="2.23" height="27.19" fill="#ffdede"/>
<rect x="101.17" y="404.35" width="2.86" height="27.19" fill="#ffdede"/>
<rect x="103.98" y="404.35" width="1.85" height="27.19" fill="#ff7575"/>
<rect x="105.78" y="404.35" width="1.26" height="27.19" fill="#ff8585"/>
<rect x="106.99" y="404.35" width="1.16" height="27.19" fill="#ff7171"/>
<rect x="108.11" y="404.35" width="2.18" height="27.19" fill="#ff9898"/>
<rect x="110.24" y="404.35" width="2.76" height="27.19" fill="#ff9191"/>
<rect x="112.95" y="404.35" width="2.73" height="27.19" fill="#ff9292"/>
<rect x="115.63" y="404.35" width="2.20" height="27.19" fill="#ff7b7b"/>
<rect x="117.78" y="404.35" width="2.07" height="27.19" fill="#ffe0e0"/>
<rect x="119.80" y="404.35" width="0.98" height="27.19" fill="#ff7f7f"/>
<rect x="120.73" y="404.35" width="1.04" height="27.19" fill="#ff5959"/>
<rect x="121.72" y="404.35" width="2.98" height="27.19" fill="#ffd8d8"/>
<rect x="124.64" y="404.35" width="0.86" height="27.19" fill="#ffb2b2"/>
<rect x="125.45" y="404.35" width="1.00" height="27.19" fill="#ff8282"/>
<rect x="126.40" y="404.35" width="0.89" height="27.19" fill="#ffc0c0"/>
<rect x="127.24" y="404.35" width="2.88" height="27.19" fill="#ff8c8c"/>
<rect x="130.07" y="404.35" width="1.95" height="27.19" fill="#ffcece"/>
<rect x="131.97" y="404.35" width="2.56" height="27.19" fill="#fff8f8"/>
<rect x="134.48" y="404.35" width="2.48" height="27.19" fill="#ffe6e6"/>
<rect x="136.91" y="404.35" width="1.10" height="27.19" fill="#ffc7c7"/>
<rect x="137.96" y="404.35" width="1.40" height="27.19" fill="#e4ffe4"/>
<rect x="139.32" y="404.35" width="2.85" height="27.19" fill="#ffd8d8"/>
<rect x="142.11" y="404.35" width="2.37" height="27.19" fill="#ffdcdc"/>
<rect x="144.44" y="404.35" width="2.16" height="27.19" fill="#efffef"/>
<rect x="146.55" y="404.35" width="2.06" height="27.19" fill="#d2ffd2"/>
<rect x="148.56" y="404.35" width="1.27" height="27.19" fill="#ffebeb"/>
<rect x="149.77" y="404.35" width="1.54" height="27.19" fill="#fff7f7"/>
<rect x="151.26" y="404.35" width="1.31" height="27.19" fill="#f4fff4"/>
<rect x="152.52" y="404.35" width="1.72" height="27.19" fill="#fff9f9"/>
<rect x="154.19" y="404.35" width="2.37" height="27.19" fill="#fffdfd"/>
<rect x="156.51" y="404.35" width="1.05" height="27.19" fill="#fffdfd"/>
<rect x="157.51" y="404.35" width="1.96" height="27.19" fill="#fffafa"/>
<rect x="159.42" y="404.35" width="3.03" height="27.19" fill="#ffbebe"/>
<rect x="162.40" y="404.35" width="2.32" height="27.19" fill="#fff4f4"/>
<rect x="164.67" y="404.35" width="3.05" height="27.19" fill="#ffc3c3"/>
<rect x="167.66" y="404.35" width="2.65" height="27.19" fill="#ffcece"/>
<rect x="170.26" y="404.35" width="1.35" height="27.19" fill="#dbffdb"/>
<rect x="171.56" y="404.35" width="2.14" height="27.19" fill="#ffd2d2"/>
<rect x="173.65" y="404.35" width="2.88" height="27.19" fill="#ff8b8b"/>
<rect x="176.49" y="404.35" width="2.20" height="27.19" fill="#ffa7a7"/>
<rect x="178.64" y="404.35" width="1.50" height="27.19" fill="#fff4f4"/>
<rect x="180.08" y="404.35" width="3.00" height="27.19" fill="#ffdede"/>
<rect x="183.03" y="404.35" width="2.23" height="27.19" fill="#ffdfdf"/>
<rect x="185.21" y="404.35" width="1.47" height="27.19" fill="#f0fff0"/>
<rect x="186.63" y="404.35" width="1.23" height="27.19" fill="#ffdbdb"/>
<rect x="187.81" y="404.35" width="1.18" height="27.19" fill="#ffe6e6"/>
<rect x="188.93" y="404.35" width="2.36" height="27.19" fill="#ffd2d2"/>
<rect x="191.24" y="404.35" width="3.01" height="27.19" fill="#ffeaea"/>
<rect x="194.20" y="404.35" width="2.03" height="27.19" fill="#ffd6d6"/>
<rect x="196.17" y="404.35" width="2.55" height="27.19" fill="#ffe0e0"/>
<rect x="198.68" y="404.35" width="1.60" height="27.19" fill="#f1fff1"/>
<rect x="200.23" y="404.35" width="1.03" height="27.19" fill="#ffa1a1"/>
<rect x="201.21" y="404.35" width="2.95" height="27.19" fill="#ff9898"/>
<rect x="204.11" y="404.35" width="2.59" height="27.19" fill="#ff9393"/>
<rect x="206.64" y="404.35" width="2.30" height="27.19" fill="#ff8f8f"/>
<rect x="208.90" y="404.35" width="2.44" height="27.19" fill="#ffe2e2"/>
<rect x="211.29" y="404.35" width="1.05" height="27.19" fill="#ffb4b4"/>
<rect x="212.29" y="404.35" width="1.22" height="27.19" fill="#ffdada"/>
<rect x="213.46" y="404.35" width="2.27" height="27.19" fill="#ff7575"/>
<rect x="215.68" y="404.35" width="1.13" height="27.19" fill="#ffb4b4"/>
<rect x="216.76" y="404.35" width="1.65" height="27.19" fill="#ff8a8a"/>
<rect x="218.37" y="404.35" width="2.86" height="27.19" fill="#ffcdcd"/>
<rect x="221.18" y="404.35" width="1.15" height="27.19" fill="#ffb4b4"/>
<rect x="222.28" y="404.35" width="1.34" height="27.19" fill="#ffa0a0"/>
<rect x="223.57" y="404.35" width="1.63" height="27.19" fill="#ff5b5b"/>
<rect x="225.16" y="404.35" width="1.44" height="27.19" fill="#ffa2a2"/>
<rect x="226.55" y="404.35" width="0.98" height="27.19" fill="#ffe2e2"/>
<rect x="227.47" y="404.35" width="2.22" height="27.19" fill="#ffdede"/>
<rect x="229.64" y="404.35" width="2.02" height="27.19" fill="#ff8e8e"/>
<rect x="231.60" y="404.35" width="2.05" height="27.19" fill="#ff9696"/>
<rect x="233.60" y="404.35" width="2.89" height="27.19" fill="#ffb7b7"/>
<rect x="236.44" y="404.35" width="2.47" height="27.19" fill="#fffcfc"/>
<rect x="238.86" y="404.35" width="1.32" height="27.19" fill="#f3fff3"/>
<rect x="240.13" y="404.35" width="1.81" height="27.19" fill="#fff6f6"/>
<rect x="241.89" y="404.35" width="1.89" height="27.19" fill="#ceffce"/>
<rect x="243.73" y="404.35" width="2.44" height="27.19" fill="#f3fff3"/>
<rect x="246.12" y="404.35" width="1.85" height="27.19" fill="#e5ffe5"/>
<rect x="247.92" y="404.35" width="1.29" height="27.19" fill="#fffbfb"/>
<rect x="249.16" y="404.35" width="0.94" height="27.19" fill="#e8ffe8"/>
<rect x="250.05" y="404.35" width="2.69" height="27.19" fill="#fffdfd"/>
<rect x="252.68" y="404.35" width="2.80" height="27.19" fill="#f5fff5"/>
<rect x="255.44" y="404.35" width="1.97" height="27.19" fill="#f7fff7"/>
<rect x="257.36" y="404.35" width="2.69" height="27.19" fill="#f9fff9"/>
<rect x="259.99" y="404.35" width="1.59" height="27.19" fill="#e0ffe0"/>
<rect x="261.53" y="404.35" width="0.86" height="27.19" fill="#daffda"/>
<rect x="262.35" y="404.35" width="1.31" height="27.19" fill="#f5fff5"/>
<rect x="263.61" y="404.35" width="1.23" height="27.19" fill="#f0fff0"/>
<rect x="264.79" y="404.35" width="1.34" height="27.19" fill="#d7ffd7"/>
<rect x="266.08" y="404.35" width="3.04" height="27.19" fill="#d9ffd9"/>
<rect x="269.07" y="404.35" width="3.00" height="27.19" fill="#d3ffd3"/>
<rect x="272.02" y="404.35" width="2.25" height="27.19" fill="#fff1f1"/>
<rect x="274.22" y="404.35" width="1.92" height="27.19" fill="#ffe7e7"/>
<rect x="276.09" y="404.35" width="3.05" height="27.19" fill="#ffe7e7"/>
<rect x="279.08" y="404.35" width="2.20" height="27.19" fill="#fcfffc"/>
<rect x="281.23" y="404.35" width="1.31" height="27.19" fill="#ffb5b5"/>
<rect x="282.49" y="404.35" width="2.31" height="27.19" fill="#fefffe"/>
<rect x="284.74" y="404.35" width="2.91" height="27.19" fill="#fafffa"/>
<rect x="287.60" y="404.35" width="1.92" height="27.19" fill="#ffb8b8"/>
<rect x="289.48" y="404.35" width="2.87" height="27.19" fill="#ffe0e0"/>
<rect x="292.30" y="404.35" width="1.24" height="27.19" fill="#edffed"/>
<rect x="293.49" y="404.35" width="1.56" height="27.19" fill="#fff1f1"/>
<rect x="294.99" y="404.35" width="2.98" height="27.19" fill="#ffe8e8"/>
<rect x="297.92" y="404.35" width="1.90" height="27.19" fill="#ffd8d8"/>
<rect x="299.78" y="404.35" width="1.50" height="27.19" fill="#fff8f8"/>
<rect x="301.22" y="404.35" width="1.79" height="27.19" fill="#fbfffb"/>
<rect x="302.96" y="404.35" width="2.07" height="27.19" fill="#fffbfb"/>
<rect x="304.99" y="404.35" width="1.75" height="27.19" fill="#ffd7d7"/>
<rect x="306.68" y="404.35" width="1.02" height="27.19" fill="#fff4f4"/>
<rect x="307.66" y="404.35" width="2.05" height="27.19" fill="#ffd4d4"/>
<rect x="309.66" y="404.35" width="1.14" height="27.19" fill="#ffb8b8"/>
<rect x="310.74" y="404.35" width="2.96" height="27.19" fill="#e5ffe5"/>
<rect x="313.65" y="404.35" width="2.10" height="27.19" fill="#ffc1c1"/>
<rect x="315.70" y="404.35" width="1.54" height="27.19" fill="#ffd9d9"/>
<rect x="317.19" y="404.35" width="1.00" height="27.19" fill="#86ff86"/>
<rect x="318.14" y="404.35" width="2.40" height="27.19" fill="#c1ffc1"/>
<rect x="320.49" y="404.35" width="2.57" height="27.19" fill="#c6ffc6"/>
<rect x="323.01" y="404.35" width="1.58" height="27.19" fill="#daffda"/>
<rect x="324.54" y="404.35" width="2.44" height="27.19" fill="#d8ffd8"/>
<rect x="326.93" y="404.35" width="1.87" height="27.19" fill="#f0fff0"/>
<rect x="328.75" y="404.35" width="1.28" height="27.19" fill="#b1ffb1"/>
<rect x="329.97" y="404.35" width="1.49" height="27.19" fill="#83ff83"/>
<rect x="331.42" y="404.35" width="2.85" height="27.19" fill="#c0ffc0"/>
<rect x="334.22" y="404.35" width="3.00" height="27.19" fill="#eaffea"/>
<rect x="337.17" y="404.35" width="1.75" height="27.19" fill="#85ff85"/>
<rect x="338.86" y="404.35" width="1.08" height="27.19" fill="#dbffdb"/>
<rect x="339.89" y="404.35" width="1.03" height="27.19" fill="#abffab"/>
<rect x="340.87" y="404.35" width="1.59" height="27.19" fill="#efffef"/>
<rect x="342.42" y="404.35" width="1.20" height="27.19" fill="#e7ffe7"/>
<rect x="343.56" y="404.35" width="2.36" height="27.19" fill="#9fff9f"/>
<rect x="345.88" y="404.35" width="1.75" height="27.19" fill="#a4ffa4"/>
<rect x="347.58" y="404.35" width="0.97" height="27.19" fill="#c7ffc7"/>
<rect x="348.50" y="404.35" width="1.58" height="27.19" fill="#fefffe"/>
<rect x="350.03" y="404.35" width="1.50" height="27.19" fill="#c0ffc0"/>
<rect x="351.48" y="404.35" width="2.42" height="27.19" fill="#afffaf"/>
<rect x="353.85" y="404.35" width="2.45" height="27.19" fill="#e3ffe3"/>
<rect x="356.26" y="404.35" width="1.55" height="27.19" fill="#e7ffe7"/>
<rect x="357.76" y="404.35" width="2.20" height="27.19" fill="#b6ffb6"/>
<rect x="359.90" y="404.35" width="2.75" height="27.19" fill="#c1ffc1"/>
<rect x="362.61" y="404.35" width="1.31" height="27.19" fill="#e6ffe6"/>
<rect x="363.86" y="404.35" width="1.01" height="27.19" fill="#adffad"/>
<rect x="364.83" y="404.35" width="2.79" height="27.19" fill="#c6ffc6"/>
<rect x="367.57" y="404.35" width="2.72" height="27.19" fill="#90ff90"/>
<rect x="370.23" y="404.35" width="1.69" height="27.19" fill="#ffebeb"/>
<rect x="371.87" y="404.35" width="2.24" height="27.19" fill="#b1ffb1"/>
<rect x="374.06" y="404.35" width="1.05" height="27.19" fill="#b3ffb3"/>
<rect x="375.06" y="404.35" width="2.29" height="27.19" fill="#ffe8e8"/>
<rect x="377.30" y="404.35" width="2.85" height="27.19" fill="#fff8f8"/>
<rect x="380.10" y="404.35" width="1.66" height="27.19" fill="#ffffff"/>
<rect x="381.72" y="404.35" width="1.88" height="27.19" fill="#a0ffa0"/>
<rect x="383.55" y="404.35" width="2.61" height="27.19" fill="#83ff83"/>
<rect x="386.10" y="404.35" width="2.46" height="27.19" fill="#d4ffd4"/>
<rect x="388.51" y="404.35" width="1.64" height="27.19" fill="#7bff7b"/>
<rect x="390.10" y="404.35" width="1.68" height="27.19" fill="#81ff81"/>
<rect x="391.73" y="404.35" width="2.38" height="27.19" fill="#ffdede"/>
<rect x="394.06" y="404.35" width="2.22" height="27.19" fill="#83ff83"/>
<rect x="396.23" y="404.35" width="1.35" height="27.19" fill="#abffab"/>
<rect x="397.53" y="404.35" width="1.04" height="27.19" fill="#b8ffb8"/>
<rect x="398.53" y="404.35" width="2.57" height="27.19" fill="#b5ffb5"/>
<rect x="401.04" y="404.35" width="2.48" height="27.19" fill="#e4ffe4"/>
<rect x="403.48" y="404.35" width="1.99" height="27.19" fill="#edffed"/>
<rect x="405.42" y="404.35" width="1.10" height="27.19" fill="#b1ffb1"/>
<rect x="406.47" y="404.35" width="1.33" height="27.19" fill="#e7ffe7"/>
<rect x="407.75" y="404.35" width="1.12" height="27.19" fill="#fbfffb"/>
<rect x="408.82" y="404.35" width="1.15" height="27.19" fill="#79ff79"/>
<rect x="409.92" y="404.35" width="2.78" height="27.19" fill="#adffad"/>
<rect x="412.66" y="404.35" width="2.97" height="27.19" fill="#9bff9b"/>
<rect x="415.58" y="404.35" width="2.71" height="27.19" fill="#81ff81"/>
<rect x="418.24" y="404.35" width="2.83" height="27.19" fill="#ceffce"/>
<rect x="421.01" y="404.35" width="2.53" height="27.19" fill="#a6ffa6"/>
<rect x="423.49" y="404.35" width="2.11" height="27.19" fill="#63ff63"/>
<rect x="425.55" y="404.35" width="2.11" height="27.19" fill="#bfffbf"/>
<rect x="427.61" y="404.35" width="2.41" height="27.19" fill="#9fff9f"/>
<rect x="429.97" y="404.35" width="2.91" height="27.19" fill="#9aff9a"/>
<rect x="432.82" y="404.35" width="2.76" height="27.19" fill="#d9ffd9"/>
<rect x="435.54" y="404.35" width="2.91" height="27.19" fill="#cdffcd"/>
<rect x="438.40" y="404.35" width="1.55" height="27.19" fill="#b6ffb6"/>
<rect x="439.90" y="404.35" width="1.33" height="27.19" fill="#76ff76"/>
<rect x="441.18" y="404.35" width="2.85" height="27.19" fill="#d0ffd0"/>
<rect x="443.98" y="404.35" width="1.48" height="27.19" fill="#65ff65"/>
<rect x="445.42" y="404.35" width="3.03" height="27.19" fill="#beffbe"/>
<rect x="448.39" y="404.35" width="2.02" height="27.19" fill="#95ff95"/>
<rect x="450.36" y="404.35" width="2.34" height="27.19" fill="#57ff57"/>
<rect x="452.66" y="404.35" width="2.68" height="27.19" fill="#9eff9e"/>
<rect x="455.29" y="404.35" width="2.64" height="27.19" fill="#ff9e9e"/>
<rect x="457.88" y="404.35" width="2.72" height="27.19" fill="#ffa5a5"/>
<rect x="460.55" y="404.35" width="2.30" height="27.19" fill="#ffbbbb"/>
<rect x="462.80" y="404.35" width="1.20" height="27.19" fill="#ff9191"/>
<rect x="463.95" y="404.35" width="2.93" height="27.19" fill="#ffb3b3"/>
<rect x="466.83" y="404.35" width="2.39" height="27.19" fill="#fff1f1"/>
<rect x="469.17" y="404.35" width="1.76" height="27.19" fill="#ffbebe"/>
<rect x="470.88" y="404.35" width="2.71" height="27.19" fill="#ffeeee"/>
<rect x="473.54" y="404.35" width="2.81" height="27.19" fill="#ffcfcf"/>
<rect x="476.30" y="404.35" width="2.44" height="27.19" fill="#ff8888"/>
<rect x="478.69" y="404.35" width="1.76" height="27.19" fill="#ffe7e7"/>
<rect x="480.40" y="404.35" width="2.70" height="27.19" fill="#fff7f7"/>
<rect x="483.05" y="404.35" width="1.21" height="27.19" fill="#ffa3a3"/>
<rect x="484.21" y="404.35" width="2.65" height="27.19" fill="#ff9e9e"/>
<rect x="486.80" y="404.35" width="1.70" height="27.19" fill="#ffa5a5"/>
<rect x="488.45" y="404.35" width="2.74" height="27.19" fill="#ffa2a2"/>
<rect x="491.14" y="404.35" width="2.54" height="27.19" fill="#ff6b6b"/>
<rect x="493.63" y="404.35" width="1.00" height="27.19" fill="#ffcbcb"/>
<rect x="494.58" y="404.35" width="2.07" height="27.19" fill="#ff9f9f"/>
<rect x="496.60" y="404.35" width="1.73" height="27.19" fill="#ffe8e8"/>
<rect x="498.29" y="404.35" width="1.28" height="27.19" fill="#ffaeae"/>
<rect x="499.51" y="404.35" width="1.45" height="27.19" fill="#ff8484"/>
<rect x="500.91" y="404.35" width="2.97" height="27.19" fill="#ffb0b0"/>
<rect x="503.83" y="404.35" width="1.66" height="27.19" fill="#ffa7a7"/>
<rect x="505.44" y="404.35" width="1.95" height="27.19" fill="#ffd0d0"/>
<rect x="507.35" y="404.35" width="2.36" height="27.19" fill="#ffb5b5"/>
<rect x="509.65" y="404.35" width="1.79" height="27.19" fill="#ffb6b6"/>
<rect x="511.40" y="404.35" width="2.55" height="27.19" fill="#ff9c9c"/>
<rect x="513.90" y="404.35" width="2.97" height="27.19" fill="#ff8585"/>
<rect x="516.81" y="404.35" width="1.84" height="27.19" fill="#ff6969"/>
<rect x="518.60" y="404.35" width="1.96" height="27.19" fill="#ffb3b3"/>
<rect x="520.51" y="404.35" width="1.67" height="27.19" fill="#ff8787"/>
<rect x="522.13" y="404.35" width="1.90" height="27.19" fill="#ff9494"/>
<rect x="523.99" y="404.35" width="2.02" height="27.19" fill="#ff9a9a"/>
<rect x="525.96" y="404.35" width="1.98" height="27.19" fill="#ff9292"/>
<rect x="527.89" y="404.35" width="1.94" height="27.19" fill="#ffd3d3"/>
<rect x="529.78" y="404.35" width="0.96" height="27.19" fill="#ff8989"/>
<rect x="530.69" y="404.35" width="1.40" height="27.19" fill="#dcffdc"/>
<rect x="532.04" y="404.35" width="2.97" height="27.19" fill="#ebffeb"/>
<rect x="534.96" y="404.35" width="2.21" height="27.19" fill="#eeffee"/>
<rect x="537.12" y="404.35" width="1.28" height="27.19" fill="#fefffe"/>
<rect x="538.35" y="404.35" width="2.13" height="27.19" fill="#f8fff8"/>
<rect x="540.43" y="404.35" width="2.99" height="27.19" fill="#ffeaea"/>
<rect x="543.37" y="404.35" width="1.87" height="27.19" fill="#eaffea"/>
<rect x="545.20" y="404.35" width="2.15" height="27.19" fill="#ffd5d5"/>
<rect x="547.30" y="404.35" width="1.82" height="27.19" fill="#d6ffd6"/>
<rect x="549.07" y="404.35" width="1.44" height="27.19" fill="#ffd4d4"/>
<rect x="550.46" y="404.35" width="1.35" height="27.19" fill="#ffd7d7"/>
<rect x="551.75" y="404.35" width="2.73" height="27.19" fill="#c7ffc7"/>
<rect x="554.43" y="404.35" width="2.19" height="27.19" fill="#95ff95"/>
<rect x="556.58" y="404.35" width="1.82" height="27.19" fill="#b0ffb0"/>
<rect x="558.35" y="404.35" width="2.07" height="27.19" fill="#f2fff2"/>
<rect x="560.37" y="404.35" width="2.15" height="27.19" fill="#abffab"/>
<rect x="562.47" y="404.35" width="2.85" height="27.19" fill="#beffbe"/>
<rect x="565.27" y="404.35" width="2.34" height="27.19" fill="#9fff9f"/>
<rect x="567.56" y="404.35" width="2.49" height="27.19" fill="#82ff82"/>
<rect x="569.99" y="404.35" width="2.24" height="27.19" fill="#cdffcd"/>
<rect x="572.18" y="404.35" width="2.81" height="27.19" fill="#43ff43"/>
<rect x="574.94" y="404.35" width="2.32" height="27.19" fill="#d2ffd2"/>
<rect x="577.21" y="404.35" width="1.97" height="27.19" fill="#5dff5d"/>
<rect x="579.13" y="404.35" width="1.51" height="27.19" fill="#99ff99"/>
<rect x="580.59" y="404.35" width="1.47" height="27.19" fill="#25ff25"/>
<rect x="582.00" y="404.35" width="2.27" height="27.19" fill="#49ff49"/>
<rect x="584.23" y="404.35" width="1.71" height="27.19" fill="#37ff37"/>
<rect x="585.89" y="404.35" width="2.51" height="27.19" fill="#7dff7d"/>
<rect x="588.34" y="404.35" width="2.79" height="27.19" fill="#afffaf"/>
<rect x="591.08" y="404.35" width="1.14" height="27.19" fill="#86ff86"/>
<rect x="592.17" y="404.35" width="1.61" height="27.19" fill="#7bff7b"/>
<rect x="593.73" y="404.35" width="2.03" height="27.19" fill="#92ff92"/>
<rect x="595.71" y="404.35" width="2.21" height="27.19" fill="#70ff70"/>
<rect x="597.87" y="404.35" width="2.67" height="27.19" fill="#2eff2e"/>
<rect x="600.49" y="404.35" width="2.26" height="27.19" fill="#71ff71"/>
<rect x="602.69" y="404.35" width="2.35" height="27.19" fill="#70ff70"/>
<rect x="604.99" y="404.35" width="2.96" height="27.19" fill="#5cff5c"/>
<rect x="607.90" y="404.35" width="2.99" height="27.19" fill="#8eff8e"/>
<rect x="610.84" y="404.35" width="1.40" height="27.19" fill="#4fff4f"/>
<rect x="612.19" y="404.35" width="1.14" height="27.19" fill="#4dff4d"/>
<rect x="613.28" y="404.35" width="1.82" height="27.19" fill="#4eff4e"/>
<rect x="615.05" y="404.35" width="1.08" height="27.19" fill="#59ff59"/>
<rect x="616.09" y="404.35" width="0.99" height="27.19" fill="#47ff47"/>
<rect x="617.03" y="404.35" width="1.82" height="27.19" fill="#60ff60"/>
<rect x="618.80" y="404.35" width="0.91" height="27.19" fill="#6fff6f"/>
<rect x="619.66" y="404.35" width="0.93" height="27.19" fill="#ceffce"/>
<rect x="620.55" y="404.35" width="1.65" height="27.19" fill="#44ff44"/>
<rect x="622.14" y="404.35" width="1.89" height="27.19" fill="#60ff60"/>
<rect x="623.99" y="404.35" width="1.25" height="27.19" fill="#aaffaa"/>
<rect x="625.19" y="404.35" width="2.48" height="27.19" fill="#d3ffd3"/>
<rect x="627.62" y="404.35" width="1.32" height="27.19" fill="#e9ffe9"/>
<rect x="628.89" y="404.35" width="1.77" height="27.19" fill="#d2ffd2"/>
<rect x="630.60" y="404.35" width="1.31" height="27.19" fill="#ecffec"/>
<rect x="631.87" y="404.35" width="2.19" height="27.19" fill="#c1ffc1"/>
<rect x="634.01" y="404.35" width="1.80" height="27.19" fill="#f7fff7"/>
<rect x="635.76" y="404.35" width="2.73" height="27.19" fill="#fafffa"/>
<rect x="638.44" y="404.35" width="1.10" height="27.19" fill="#a6ffa6"/>
<rect x="639.49" y="404.35" width="2.93" height="27.19" fill="#e6ffe6"/>
<rect x="642.36" y="404.35" width="2.76" height="27.19" fill="#f9fff9"/>
<rect x="645.08" y="404.35" width="2.69" height="27.19" fill="#e7ffe7"/>
<rect x="647.72" y="404.35" width="2.74" height="27.19" fill="#dbffdb"/>
<rect x="650.41" y="404.35" width="1.99" height="27.19" fill="#e8ffe8"/>
<rect x="652.34" y="404.35" width="1.41" height="27.19" fill="#fffbfb"/>
<rect x="71.30" y="431.54" width="2.56" height="27.19" fill="#fcfffc"/>
<rect x="73.81" y="431.54" width="1.95" height="27.19" fill="#ffdada"/>
<rect x="75.71" y="431.54" width="2.06" height="27.19" fill="#ffa4a4"/>
<rect x="77.72" y="431.54" width="2.52" height="27.19" fill="#ffdcdc"/>
<rect x="80.19" y="431.54" width="1.37" height="27.19" fill="#ffe4e4"/>
<rect x="81.51" y="431.54" width="1.78" height="27.19" fill="#f5fff5"/>
<rect x="83.25" y="431.54" width="1.42" height="27.19" fill="#ff2828"/>
<rect x="84.62" y="431.54" width="1.99" height="27.19" fill="#ffafaf"/>
<rect x="86.56" y="431.54" width="2.16" height="27.19" fill="#ff2424"/>
<rect x="88.67" y="431.54" width="1.69" height="27.19" fill="#ffb5b5"/>
<rect x="90.31" y="431.54" width="1.09" height="27.19" fill="#ff2828"/>
<rect x="91.35" y="431.54" width="2.47" height="27.19" fill="#ff2828"/>
<rect x="93.77" y="431.54" width="1.21" height="27.19" fill="#ffaeae"/>
<rect x="94.93" y="431.54" width="2.11" height="27.19" fill="#ffcaca"/>
<rect x="96.98" y="431.54" width="2.83" height="27.19" fill="#ff9999"/>
<rect x="99.77" y="431.54" width="2.37" height="27.19" fill="#ffa2a2"/>
<rect x="102.08" y="431.54" width="2.92" height="27.19" fill="#ffe0e0"/>
<rect x="104.96" y="431.54" width="1.58" height="27.19" fill="#ff9696"/>
<rect x="106.49" y="431.54" width="2.28" height="27.19" fill="#ff7373"/>
<rect x="108.71" y="431.54" width="2.40" height="27.19" fill="#ffdada"/>
<rect x="111.06" y="431.54" width="2.17" height="27.19" fill="#ff9595"/>
<rect x="113.18" y="431.54" width="2.06" height="27.19" fill="#ffb1b1"/>
<rect x="115.20" y="431.54" width="2.86" height="27.19" fill="#ff8e8e"/>
<rect x="118.00" y="431.54" width="2.49" height="27.19" fill="#ffd5d5"/>
<rect x="120.44" y="431.54" width="1.97" height="27.19" fill="#ff7c7c"/>
<rect x="122.36" y="431.54" width="1.51" height="27.19" fill="#ffcdcd"/>
<rect x="123.82" y="431.54" width="2.00" height="27.19" fill="#ff9393"/>
<rect x="125.77" y="431.54" width="2.17" height="27.19" fill="#ff9c9c"/>
<rect x="127.89" y="431.54" width="2.67" height="27.19" fill="#ff4141"/>
<rect x="130.51" y="431.54" width="2.80" height="27.19" fill="#ffeaea"/>
<rect x="133.26" y="431.54" width="2.92" height="27.19" fill="#ffcccc"/>
<rect x="136.14" y="431.54" width="2.03" height="27.19" fill="#ffd9d9"/>
<rect x="138.11" y="431.54" width="1.83" height="27.19" fill="#ffa1a1"/>
<rect x="139.89" y="431.54" width="1.02" height="27.19" fill="#ffc5c5"/>
<rect x="140.86" y="431.54" width="1.06" height="27.19" fill="#ffb9b9"/>
<rect x="141.87" y="431.54" width="1.55" height="27.19" fill="#ffc5c5"/>
<rect x="143.37" y="431.54" width="2.44" height="27.19" fill="#ff9393"/>
<rect x="145.76" y="431.54" width="2.88" height="27.19" fill="#ffb3b3"/>
<rect x="148.58" y="431.54" width="2.36" height="27.19" fill="#ffbcbc"/>
<rect x="150.90" y="431.54" width="2.26" height="27.19" fill="#ffdada"/>
<rect x="153.11" y="431.54" width="2.04" height="27.19" fill="#ff9f9f"/>
<rect x="155.10" y="431.54" width="2.71" height="27.19" fill="#ffc1c1"/>
<rect x="157.76" y="431.54" width="2.77" height="27.19" fill="#ff9191"/>
<rect x="160.49" y="431.54" width="2.75" height="27.19" fill="#ff9f9f"/>
<rect x="163.19" y="431.54" width="2.98" height="27.19" fill="#ffd0d0"/>
<rect x="166.12" y="431.54" width="2.02" height="27.19" fill="#ffb7b7"/>
<rect x="168.09" y="431.54" width="2.30" height="27.19" fill="#ffefef"/>
<rect x="170.33" y="431.54" width="1.68" height="27.19" fill="#ff8686"/>
<rect x="171.97" y="431.54" width="2.47" height="27.19" fill="#ffbcbc"/>
<rect x="174.38" y="431.54" width="2.51" height="27.19" fill="#ffa7a7"/>
<rect x="176.85" y="431.54" width="1.09" height="27.19" fill="#ffacac"/>
<rect x="177.88" y="431.54" width="2.60" height="27.19" fill="#ffb1b1"/>
<rect x="180.44" y="431.54" width="2.29" height="27.19" fill="#ffe6e6"/>
<rect x="182.67" y="431.54" width="2.02" height="27.19" fill="#ffa5a5"/>
<rect x="184.64" y="431.54" width="0.88" height="27.19" fill="#ff7e7e"/>
<rect x="185.47" y="431.54" width="0.87" height="27.19" fill="#ff8181"/>
<rect x="186.29" y="431.54" width="0.86" height="27.19" fill="#ffe9e9"/>
<rect x="187.10" y="431.54" width="1.43" height="27.19" fill="#ffe3e3"/>
<rect x="188.48" y="431.54" width="1.10" height="27.19" fill="#fff0f0"/>
<rect x="189.53" y="431.54" width="2.46" height="27.19" fill="#ffa7a7"/>
<rect x="191.94" y="431.54" width="1.75" height="27.19" fill="#ffa7a7"/>
<rect x="193.64" y="431.54" width="2.28" height="27.19" fill="#ffe4e4"/>
<rect x="195.87" y="431.54" width="2.67" height="27.19" fill="#ff8c8c"/>
<rect x="198.49" y="431.54" width="1.24" height="27.19" fill="#ffe4e4"/>
<rect x="199.68" y="431.54" width="2.86" height="27.19" fill="#ff8b8b"/>
<rect x="202.49" y="431.54" width="2.20" height="27.19" fill="#ff2e2e"/>
<rect x="204.64" y="431.54" width="2.35" height="27.19" fill="#ff5f5f"/>
<rect x="206.94" y="431.54" width="2.31" height="27.19" fill="#ffa7a7"/>
<rect x="209.20" y="431.54" width="1.18" height="27.19" fill="#ff7878"/>
<rect x="210.34" y="431.54" width="2.18" height="27.19" fill="#ff8181"/>
<rect x="212.46" y="431.54" width="2.06" height="27.19" fill="#ffbaba"/>
<rect x="214.47" y="431.54" width="2.29" height="27.19" fill="#ffb8b8"/>
<rect x="216.72" y="431.54" width="1.69" height="27.19" fill="#ffd1d1"/>
<rect x="218.35" y="431.54" width="0.94" height="27.19" fill="#ff7e7e"/>
<rect x="219.24" y="431.54" width="1.68" height="27.19" fill="#ff7979"/>
<rect x="220.88" y="431.54" width="0.94" height="27.19" fill="#ff7070"/>
<rect x="221.77" y="431.54" width="1.64" height="27.19" fill="#ff8181"/>
<rect x="223.36" y="431.54" width="2.19" height="27.19" fill="#ff8383"/>
<rect x="225.50" y="431.54" width="2.34" height="27.19" fill="#ff7a7a"/>
<rect x="227.79" y="431.54" width="3.04" height="27.19" fill="#ff8181"/>
<rect x="230.78" y="431.54" width="1.98" height="27.19" fill="#ff4242"/>
<rect x="232.71" y="431.54" width="1.76" height="27.19" fill="#ff6868"/>
<rect x="234.42" y="431.54" width="2.85" height="27.19" fill="#ff8d8d"/>
<rect x="237.22" y="431.54" width="2.64" height="27.19" fill="#f8fff8"/>
<rect x="239.81" y="431.54" width="2.29" height="27.19" fill="#ffeded"/>
<rect x="242.04" y="431.54" width="3.05" height="27.19" fill="#ffabab"/>
<rect x="245.04" y="431.54" width="2.41" height="27.19" fill="#ffc0c0"/>
<rect x="247.40" y="431.54" width="2.50" height="27.19" fill="#ffb2b2"/>
<rect x="249.85" y="431.54" width="1.75" height="27.19" fill="#ffd7d7"/>
<rect x="251.55" y="431.54" width="2.38" height="27.19" fill="#dbffdb"/>
<rect x="253.88" y="431.54" width="1.11" height="27.19" fill="#ffe6e6"/>
<rect x="254.94" y="431.54" width="2.51" height="27.19" fill="#ffd1d1"/>
<rect x="257.40" y="431.54" width="0.88" height="27.19" fill="#ffc3c3"/>
<rect x="258.23" y="431.54" width="1.62" height="27.19" fill="#f4fff4"/>
<rect x="259.80" y="431.54" width="1.48" height="27.19" fill="#ffbcbc"/>
<rect x="261.23" y="431.54" width="1.78" height="27.19" fill="#ff8c8c"/>
<rect x="262.96" y="431.54" width="2.38" height="27.19" fill="#ceffce"/>
<rect x="265.29" y="431.54" width="2.86" height="27.19" fill="#ffdbdb"/>
<rect x="268.10" y="431.54" width="0.89" height="27.19" fill="#ffe1e1"/>
<rect x="268.94" y="431.54" width="1.74" height="27.19" fill="#ffc7c7"/>
<rect x="270.63" y="431.54" width="0.99" height="27.19" fill="#f3fff3"/>
<rect x="271.57" y="431.54" width="2.06" height="27.19" fill="#f5fff5"/>
<rect x="273.59" y="431.54" width="1.64" height="27.19" fill="#ffe9e9"/>
<rect x="275.18" y="431.54" width="1.49" height="27.19" fill="#ffeaea"/>
<rect x="276.61" y="431.54" width="2.76" height="27.19" fill="#ffdede"/>
<rect x="279.33" y="431.54" width="1.57" height="27.19" fill="#daffda"/>
<rect x="280.85" y="431.54" width="2.95" height="27.19" fill="#ffbcbc"/>
<rect x="283.75" y="431.54" width="2.35" height="27.19" fill="#ffb3b3"/>
<rect x="286.04" y="431.54" width="2.48" height="27.19" fill="#ffb9b9"/>
<rect x="288.47" y="431.54" width="0.93" height="27.19" fill="#fdfffd"/>
<rect x="289.35" y="431.54" width="1.25" height="27.19" fill="#f5fff5"/>
<rect x="290.55" y="431.54" width="1.81" height="27.19" fill="#ffd6d6"/>
<rect x="292.31" y="431.54" width="2.55" height="27.19" fill="#ffeaea"/>
<rect x="294.81" y="431.54" width="2.91" height="27.19" fill="#ffe6e6"/>
<rect x="297.67" y="431.54" width="1.55" height="27.19" fill="#ffdddd"/>
<rect x="299.17" y="431.54" width="2.51" height="27.19" fill="#ffc6c6"/>
<rect x="301.63" y="431.54" width="1.54" height="27.19" fill="#fff1f1"/>
<rect x="303.12" y="431.54" width="1.87" height="27.19" fill="#ffbcbc"/>
<rect x="304.94" y="431.54" width="3.03" height="27.19" fill="#f6fff6"/>
<rect x="307.91" y="431.54" width="1.26" height="27.19" fill="#e4ffe4"/>
<rect x="309.13" y="431.54" width="1.97" height="27.19" fill="#deffde"/>
<rect x="311.04" y="431.54" width="1.58" height="27.19" fill="#ffbbbb"/>
<rect x="312.58" y="431.54" width="2.04" height="27.19" fill="#f9fff9"/>
<rect x="314.56" y="431.54" width="1.88" height="27.19" fill="#ffcdcd"/>
<rect x="316.40" y="431.54" width="1.55" height="27.19" fill="#a7ffa7"/>
<rect x="317.90" y="431.54" width="2.08" height="27.19" fill="#71ff71"/>
<rect x="319.93" y="431.54" width="1.25" height="27.19" fill="#9dff9d"/>
<rect x="321.13" y="431.54" width="2.01" height="27.19" fill="#a4ffa4"/>
<rect x="323.09" y="431.54" width="3.03" height="27.19" fill="#bdffbd"/>
<rect x="326.06" y="431.54" width="2.11" height="27.19" fill="#ceffce"/>
<rect x="328.12" y="431.54" width="1.04" height="27.19" fill="#c2ffc2"/>
<rect x="329.11" y="431.54" width="1.66" height="27.19" fill="#a7ffa7"/>
<rect x="330.71" y="431.54" width="2.94" height="27.19" fill="#baffba"/>
<rect x="333.61" y="431.54" width="1.36" height="27.19" fill="#92ff92"/>
<rect x="334.92" y="431.54" width="1.24" height="27.19" fill="#bdffbd"/>
<rect x="336.11" y="431.54" width="2.90" height="27.19" fill="#74ff74"/>
<rect x="338.96" y="431.54" width="2.03" height="27.19" fill="#71ff71"/>
<rect x="340.94" y="431.54" width="2.37" height="27.19" fill="#a9ffa9"/>
<rect x="343.26" y="431.54" width="2.65" height="27.19" fill="#bdffbd"/>
<rect x="345.86" y="431.54" width="0.94" height="27.19" fill="#b8ffb8"/>
<rect x="346.75" y="431.54" width="1.24" height="27.19" fill="#a9ffa9"/>
<rect x="347.94" y="431.54" width="1.36" height="27.19" fill="#88ff88"/>
<rect x="349.25" y="431.54" width="1.96" height="27.19" fill="#ddffdd"/>
<rect x="351.16" y="431.54" width="0.93" height="27.19" fill="#c3ffc3"/>
<rect x="352.04" y="431.54" width="1.50" height="27.19" fill="#bcffbc"/>
<rect x="353.49" y="431.54" width="2.72" height="27.19" fill="#99ff99"/>
<rect x="356.17" y="431.54" width="1.25" height="27.19" fill="#d2ffd2"/>
<rect x="357.36" y="431.54" width="0.94" height="27.19" fill="#61ff61"/>
<rect x="358.25" y="431.54" width="1.52" height="27.19" fill="#baffba"/>
<rect x="359.72" y="431.54" width="1.95" height="27.19" fill="#80ff80"/>
<rect x="361.62" y="431.54" width="2.81" height="27.19" fill="#b3ffb3"/>
<rect x="364.38" y="431.54" width="2.97" height="27.19" fill="#c7ffc7"/>
<rect x="367.30" y="431.54" width="1.28" height="27.19" fill="#80ff80"/>
<rect x="368.52" y="431.54" width="2.70" height="27.19" fill="#acffac"/>
<rect x="371.18" y="431.54" width="1.14" height="27.19" fill="#b5ffb5"/>
<rect x="372.27" y="431.54" width="2.88" height="27.19" fill="#cbffcb"/>
<rect x="375.10" y="431.54" width="2.60" height="27.19" fill="#ffc1c1"/>
<rect x="377.65" y="431.54" width="2.09" height="27.19" fill="#e8ffe8"/>
<rect x="379.68" y="431.54" width="2.33" height="27.19" fill="#cbffcb"/>
<rect x="381.96" y="431.54" width="1.39" height="27.19" fill="#90ff90"/>
<rect x="383.30" y="431.54" width="1.10" height="27.19" fill="#78ff78"/>
<rect x="384.35" y="431.54" width="1.24" height="27.19" fill="#4dff4d"/>
<rect x="385.53" y="431.54" width="1.95" height="27.19" fill="#f3fff3"/>
<rect x="387.44" y="431.54" width="1.43" height="27.19" fill="#b3ffb3"/>
<rect x="388.81" y="431.54" width="1.24" height="27.19" fill="#abffab"/>
<rect x="390.00" y="431.54" width="2.48" height="27.19" fill="#7bff7b"/>
<rect x="392.43" y="431.54" width="1.46" height="27.19" fill="#74ff74"/>
<rect x="393.84" y="431.54" width="2.10" height="27.19" fill="#9aff9a"/>
<rect x="395.89" y="431.54" width="1.47" height="27.19" fill="#9cff9c"/>
<rect x="397.31" y="431.54" width="1.24" height="27.19" fill="#97ff97"/>
<rect x="398.50" y="431.54" width="2.03" height="27.19" fill="#dfffdf"/>
<rect x="400.48" y="431.54" width="1.63" height="27.19" fill="#7bff7b"/>
<rect x="402.06" y="431.54" width="0.86" height="27.19" fill="#7aff7a"/>
<rect x="402.87" y="431.54" width="2.11" height="27.19" fill="#b4ffb4"/>
<rect x="404.94" y="431.54" width="1.14" height="27.19" fill="#eeffee"/>
<rect x="406.02" y="431.54" width="0.91" height="27.19" fill="#70ff70"/>
<rect x="406.89" y="431.54" width="0.90" height="27.19" fill="#caffca"/>
<rect x="407.74" y="431.54" width="2.68" height="27.19" fill="#9cff9c"/>
<rect x="410.36" y="431.54" width="2.64" height="27.19" fill="#d6ffd6"/>
<rect x="412.95" y="431.54" width="2.80" height="27.19" fill="#acffac"/>
<rect x="415.70" y="431.54" width="1.31" height="27.19" fill="#8fff8f"/>
<rect x="416.96" y="431.54" width="0.95" height="27.19" fill="#a4ffa4"/>
<rect x="417.86" y="431.54" width="1.62" height="27.19" fill="#87ff87"/>
<rect x="419.44" y="431.54" width="2.08" height="27.19" fill="#50ff50"/>
<rect x="421.47" y="431.54" width="1.84" height="27.19" fill="#8eff8e"/>
<rect x="423.26" y="431.54" width="2.61" height="27.19" fill="#71ff71"/>
<rect x="425.82" y="431.54" width="1.87" height="27.19" fill="#6fff6f"/>
<rect x="427.64" y="431.54" width="1.21" height="27.19" fill="#6cff6c"/>
<rect x="428.80" y="431.54" width="3.04" height="27.19" fill="#b3ffb3"/>
<rect x="431.79" y="431.54" width="2.27" height="27.19" fill="#87ff87"/>
<rect x="434.01" y="431.54" width="2.74" height="27.19" fill="#70ff70"/>
<rect x="436.71" y="431.54" width="2.09" height="27.19" fill="#d8ffd8"/>
<rect x="438.75" y="431.54" width="1.25" height="27.19" fill="#76ff76"/>
<rect x="439.95" y="431.54" width="2.25" height="27.19" fill="#9eff9e"/>
<rect x="442.15" y="431.54" width="1.77" height="27.19" fill="#76ff76"/>
<rect x="443.88" y="431.54" width="1.42" height="27.19" fill="#ccffcc"/>
<rect x="445.25" y="431.54" width="1.23" height="27.19" fill="#90ff90"/>
<rect x="446.43" y="431.54" width="2.00" height="27.19" fill="#a4ffa4"/>
<rect x="448.37" y="431.54" width="2.97" height="27.19" fill="#bbffbb"/>
<rect x="451.29" y="431.54" width="2.23" height="27.19" fill="#b1ffb1"/>
<rect x="453.47" y="431.54" width="1.46" height="27.19" fill="#e3ffe3"/>
<rect x="454.89" y="431.54" width="2.37" height="27.19" fill="#ffa9a9"/>
<rect x="457.21" y="431.54" width="3.03" height="27.19" fill="#ffb1b1"/>
<rect x="460.19" y="431.54" width="2.38" height="27.19" fill="#ff9797"/>
<rect x="462.52" y="431.54" width="1.97" height="27.19" fill="#ffc7c7"/>
<rect x="464.44" y="431.54" width="1.81" height="27.19" fill="#ff8181"/>
<rect x="466.20" y="431.54" width="1.09" height="27.19" fill="#ff9595"/>
<rect x="467.25" y="431.54" width="1.60" height="27.19" fill="#ff8484"/>
<rect x="468.80" y="431.54" width="2.02" height="27.19" fill="#ffe2e2"/>
<rect x="470.77" y="431.54" width="2.09" height="27.19" fill="#ff7d7d"/>
<rect x="472.81" y="431.54" width="3.04" height="27.19" fill="#ff8c8c"/>
<rect x="475.80" y="431.54" width="1.51" height="27.19" fill="#ffa7a7"/>
<rect x="477.26" y="431.54" width="1.55" height="27.19" fill="#ff7f7f"/>
<rect x="478.76" y="431.54" width="1.63" height="27.19" fill="#ff9898"/>
<rect x="480.33" y="431.54" width="1.51" height="27.19" fill="#ff8f8f"/>
<rect x="481.79" y="431.54" width="2.72" height="27.19" fill="#ffd3d3"/>
<rect x="484.46" y="431.54" width="2.69" height="27.19" fill="#ffa2a2"/>
<rect x="487.09" y="431.54" width="0.89" height="27.19" fill="#ffa9a9"/>
<rect x="487.93" y="431.54" width="1.24" height="27.19" fill="#ff5757"/>
<rect x="489.12" y="431.54" width="1.32" height="27.19" fill="#ff8282"/>
<rect x="490.39" y="431.54" width="2.41" height="27.19" fill="#ffd1d1"/>
<rect x="492.74" y="431.54" width="0.89" height="27.19" fill="#ff8d8d"/>
<rect x="493.59" y="431.54" width="1.10" height="27.19" fill="#ff6666"/>
<rect x="494.64" y="431.54" width="2.34" height="27.19" fill="#ff4d4d"/>
<rect x="496.93" y="431.54" width="1.67" height="27.19" fill="#ff8b8b"/>
<rect x="498.55" y="431.54" width="2.05" height="27.19" fill="#ffa2a2"/>
<rect x="500.55" y="431.54" width="1.18" height="27.19" fill="#ffa2a2"/>
<rect x="501.68" y="431.54" width="2.55" height="27.19" fill="#ffb7b7"/>
<rect x="504.18" y="431.54" width="2.67" height="27.19" fill="#ffc2c2"/>
<rect x="506.80" y="431.54" width="1.64" height="27.19" fill="#ffb1b1"/>
<rect x="508.39" y="431.54" width="0.94" height="27.19" fill="#ff8c8c"/>
<rect x="509.29" y="431.54" width="3.03" height="27.19" fill="#ffe7e7"/>
<rect x="512.27" y="431.54" width="1.20" height="27.19" fill="#ff9191"/>
<rect x="513.43" y="431.54" width="1.62" height="27.19" fill="#ffa2a2"/>
<rect x="514.99" y="431.54" width="3.00" height="27.19" fill="#ff5050"/>
<rect x="517.95" y="431.54" width="2.38" height="27.19" fill="#ff8585"/>
<rect x="520.28" y="431.54" width="1.54" height="27.19" fill="#ff7777"/>
<rect x="521.77" y="431.54" width="1.33" height="27.19" fill="#ff8585"/>
<rect x="523.06" y="431.54" width="1.02" height="27.19" fill="#ffd3d3"/>
<rect x="524.03" y="431.54" width="2.62" height="27.19" fill="#ff7f7f"/>
<rect x="526.60" y="431.54" width="2.52" height="27.19" fill="#ffa0a0"/>
<rect x="529.07" y="431.54" width="1.15" height="27.19" fill="#ff9595"/>
<rect x="530.17" y="431.54" width="1.64" height="27.19" fill="#fff3f3"/>
<rect x="531.75" y="431.54" width="1.21" height="27.19" fill="#edffed"/>
<rect x="532.92" y="431.54" width="2.15" height="27.19" fill="#e9ffe9"/>
<rect x="535.01" y="431.54" width="1.27" height="27.19" fill="#fffdfd"/>
<rect x="536.24" y="431.54" width="2.38" height="27.19" fill="#fcfffc"/>
<rect x="538.57" y="431.54" width="2.70" height="27.19" fill="#ffecec"/>
<rect x="541.22" y="431.54" width="2.28" height="27.19" fill="#efffef"/>
<rect x="543.45" y="431.54" width="1.94" height="27.19" fill="#cdffcd"/>
<rect x="545.34" y="431.54" width="2.86" height="27.19" fill="#ffc9c9"/>
<rect x="548.15" y="431.54" width="1.75" height="27.19" fill="#ffe0e0"/>
<rect x="549.84" y="431.54" width="2.30" height="27.19" fill="#cbffcb"/>
<rect x="552.09" y="431.54" width="1.73" height="27.19" fill="#42ff42"/>
<rect x="553.77" y="431.54" width="1.71" height="27.19" fill="#60ff60"/>
<rect x="555.43" y="431.54" width="1.24" height="27.19" fill="#5cff5c"/>
<rect x="556.62" y="431.54" width="0.95" height="27.19" fill="#5cff5c"/>
<rect x="557.52" y="431.54" width="1.20" height="27.19" fill="#a0ffa0"/>
<rect x="558.67" y="431.54" width="1.07" height="27.19" fill="#42ff42"/>
<rect x="559.69" y="431.54" width="1.31" height="27.19" fill="#e8ffe8"/>
<rect x="560.95" y="431.54" width="0.87" height="27.19" fill="#6aff6a"/>
<rect x="561.76" y="431.54" width="1.85" height="27.19" fill="#32ff32"/>
<rect x="563.56" y="431.54" width="1.15" height="27.19" fill="#5dff5d"/>
<rect x="564.66" y="431.54" width="1.86" height="27.19" fill="#5fff5f"/>
<rect x="566.47" y="431.54" width="1.26" height="27.19" fill="#77ff77"/>
<rect x="567.68" y="431.54" width="2.05" height="27.19" fill="#d5ffd5"/>
<rect x="569.68" y="431.54" width="1.00" height="27.19" fill="#8fff8f"/>
<rect x="570.63" y="431.54" width="1.81" height="27.19" fill="#61ff61"/>
<rect x="572.39" y="431.54" width="0.88" height="27.19" fill="#78ff78"/>
<rect x="573.22" y="431.54" width="0.95" height="27.19" fill="#69ff69"/>
<rect x="574.12" y="431.54" width="2.40" height="27.19" fill="#9bff9b"/>
<rect x="576.47" y="431.54" width="2.39" height="27.19" fill="#8eff8e"/>
<rect x="578.81" y="431.54" width="1.91" height="27.19" fill="#7fff7f"/>
<rect x="580.67" y="431.54" width="1.09" height="27.19" fill="#d8ffd8"/>
<rect x="581.71" y="431.54" width="2.27" height="27.19" fill="#7cff7c"/>
<rect x="583.93" y="431.54" width="2.16" height="27.19" fill="#83ff83"/>
<rect x="586.04" y="431.54" width="1.47" height="27.19" fill="#a1ffa1"/>
<rect x="587.46" y="431.54" width="1.43" height="27.19" fill="#6fff6f"/>
<rect x="588.84" y="431.54" width="2.88" height="27.19" fill="#7dff7d"/>
<rect x="591.67" y="431.54" width="2.45" height="27.19" fill="#57ff57"/>
<rect x="594.07" y="431.54" width="1.97" height="27.19" fill="#75ff75"/>
<rect x="595.99" y="431.54" width="1.98" height="27.19" fill="#dfffdf"/>
<rect x="597.93" y="431.54" width="1.90" height="27.19" fill="#78ff78"/>
<rect x="599.78" y="431.54" width="2.85" height="27.19" fill="#a7ffa7"/>
<rect x="602.58" y="431.54" width="1.50" height="27.19" fill="#3dff3d"/>
<rect x="604.03" y="431.54" width="1.11" height="27.19" fill="#69ff69"/>
<rect x="605.09" y="431.54" width="2.49" height="27.19" fill="#7bff7b"/>
<rect x="607.53" y="431.54" width="1.26" height="27.19" fill="#8fff8f"/>
<rect x="608.74" y="431.54" width="1.83" height="27.19" fill="#44ff44"/>
<rect x="610.52" y="431.54" width="1.89" height="27.19" fill="#bfffbf"/>
<rect x="612.36" y="431.54" width="2.04" height="27.19" fill="#58ff58"/>
<rect x="614.34" y="431.54" width="2.83" height="27.19" fill="#89ff89"/>
<rect x="617.13" y="431.54" width="1.55" height="27.19" fill="#56ff56"/>
<rect x="618.62" y="431.54" width="2.31" height="27.19" fill="#53ff53"/>
<rect x="620.89" y="431.54" width="0.86" height="27.19" fill="#55ff55"/>
<rect x="621.70" y="431.54" width="2.38" height="27.19" fill="#6aff6a"/>
<rect x="624.03" y="431.54" width="2.89" height="27.19" fill="#8bff8b"/>
<rect x="626.86" y="431.54" width="2.22" height="27.19" fill="#d6ffd6"/>
<rect x="629.03" y="431.54" width="1.33" height="27.19" fill="#b7ffb7"/>
<rect x="630.31" y="431.54" width="2.82" height="27.19" fill="#9bff9b"/>
<rect x="633.07" y="431.54" width="0.95" height="27.19" fill="#fffafa"/>
<rect x="633.97" y="431.54" width="3.05" height="27.19" fill="#8eff8e"/>
<rect x="636.97" y="431.54" width="1.52" height="27.19" fill="#f0fff0"/>
<rect x="638.43" y="431.54" width="2.76" height="27.19" fill="#edffed"/>
<rect x="641.14" y="431.54" width="0.88" height="27.19" fill="#bdffbd"/>
<rect x="641.97" y="431.54" width="2.19" height="27.19" fill="#fffcfc"/>
<rect x="644.11" y="431.54" width="1.24" height="27.19" fill="#c4ffc4"/>
<rect x="645.31" y="431.54" width="2.75" height="27.19" fill="#a1ffa1"/>
<rect x="648.01" y="431.54" width="1.17" height="27.19" fill="#c3ffc3"/>
<rect x="649.13" y="431.54" width="1.52" height="27.19" fill="#78ff78"/>
<rect x="650.60" y="431.54" width="1.35" height="27.19" fill="#dbffdb"/>
<rect x="651.90" y="431.54" width="1.85" height="27.19" fill="#cfffcf"/>
<rect x="71.30" y="458.73" width="0.98" height="27.19" fill="#ffd7d7"/>
<rect x="72.23" y="458.73" width="2.06" height="27.19" fill="#ff9898"/>
<rect x="74.25" y="458.73" width="1.91" height="27.19" fill="#ff7f7f"/>
<rect x="76.11" y="458.73" width="2.29" height="27.19" fill="#ff9d9d"/>
<rect x="78.35" y="458.73" width="1.10" height="27.19" fill="#ffe9e9"/>
<rect x="79.40" y="458.73" width="0.90" height="27.19" fill="#ff8585"/>
<rect x="80.25" y="458.73" width="1.19" height="27.19" fill="#ff8686"/>
<rect x="81.39" y="458.73" width="2.64" height="27.19" fill="#ff8f8f"/>
<rect x="83.97" y="458.73" width="2.50" height="27.19" fill="#ffc2c2"/>
<rect x="86.42" y="458.73" width="1.02" height="27.19" fill="#ffb0b0"/>
<rect x="87.39" y="458.73" width="3.00" height="27.19" fill="#ff9393"/>
<rect x="90.34" y="458.73" width="1.56" height="27.19" fill="#ffc7c7"/>
<rect x="91.85" y="458.73" width="1.72" height="27.19" fill="#ffb3b3"/>
<rect x="93.52" y="458.73" width="2.90" height="27.19" fill="#ff5252"/>
<rect x="96.36" y="458.73" width="2.87" height="27.19" fill="#ff8282"/>
<rect x="99.18" y="458.73" width="2.28" height="27.19" fill="#ff8080"/>
<rect x="101.41" y="458.73" width="1.57" height="27.19" fill="#ff9595"/>
<rect x="102.93" y="458.73" width="3.01" height="27.19" fill="#ffcaca"/>
<rect x="105.90" y="458.73" width="1.41" height="27.19" fill="#ffadad"/>
<rect x="107.25" y="458.73" width="1.69" height="27.19" fill="#ff7474"/>
<rect x="108.89" y="458.73" width="1.30" height="27.19" fill="#ff9393"/>
<rect x="110.14" y="458.73" width="1.01" height="27.19" fill="#ff7171"/>
<rect x="111.10" y="458.73" width="2.06" height="27.19" fill="#ffa9a9"/>
<rect x="113.11" y="458.73" width="1.71" height="27.19" fill="#ff8b8b"/>
<rect x="114.76" y="458.73" width="2.54" height="27.19" fill="#ffbebe"/>
<rect x="117.25" y="458.73" width="1.21" height="27.19" fill="#ffb5b5"/>
<rect x="118.41" y="458.73" width="0.95" height="27.19" fill="#fff8f8"/>
<rect x="119.30" y="458.73" width="0.85" height="27.19" fill="#ffbfbf"/>
<rect x="120.11" y="458.73" width="2.31" height="27.19" fill="#ffd9d9"/>
<rect x="122.37" y="458.73" width="2.46" height="27.19" fill="#ffd6d6"/>
<rect x="124.77" y="458.73" width="1.89" height="27.19" fill="#ffabab"/>
<rect x="126.61" y="458.73" width="1.00" height="27.19" fill="#fff6f6"/>
<rect x="127.56" y="458.73" width="2.47" height="27.19" fill="#ffb7b7"/>
<rect x="129.98" y="458.73" width="2.81" height="27.19" fill="#ff8181"/>
<rect x="132.73" y="458.73" width="1.89" height="27.19" fill="#ffbdbd"/>
<rect x="134.58" y="458.73" width="2.17" height="27.19" fill="#ffd4d4"/>
<rect x="136.70" y="458.73" width="1.81" height="27.19" fill="#ff7c7c"/>
<rect x="138.46" y="458.73" width="2.41" height="27.19" fill="#ff9191"/>
<rect x="140.82" y="458.73" width="1.39" height="27.19" fill="#fff9f9"/>
<rect x="142.16" y="458.73" width="1.12" height="27.19" fill="#ffdddd"/>
<rect x="143.22" y="458.73" width="1.89" height="27.19" fill="#ff9d9d"/>
<rect x="145.06" y="458.73" width="1.82" height="27.19" fill="#ff9b9b"/>
<rect x="146.83" y="458.73" width="1.43" height="27.19" fill="#ffcbcb"/>
<rect x="148.21" y="458.73" width="2.12" height="27.19" fill="#ffa4a4"/>
<rect x="150.29" y="458.73" width="2.45" height="27.19" fill="#ffa4a4"/>
<rect x="152.69" y="458.73" width="1.33" height="27.19" fill="#ffadad"/>
<rect x="153.97" y="458.73" width="2.60" height="27.19" fill="#ff5454"/>
<rect x="156.52" y="458.73" width="2.30" height="27.19" fill="#ffb1b1"/>
<rect x="158.77" y="458.73" width="0.86" height="27.19" fill="#ff4d4d"/>
<rect x="159.58" y="458.73" width="2.28" height="27.19" fill="#ffaeae"/>
<rect x="161.80" y="458.73" width="2.55" height="27.19" fill="#ff8a8a"/>
<rect x="164.31" y="458.73" width="1.04" height="27.19" fill="#ff9a9a"/>
<rect x="165.30" y="458.73" width="2.39" height="27.19" fill="#ffc7c7"/>
<rect x="167.63" y="458.73" width="2.18" height="27.19" fill="#ffc4c4"/>
<rect x="169.77" y="458.73" width="2.38" height="27.19" fill="#ffe6e6"/>
<rect x="172.09" y="458.73" width="2.83" height="27.19" fill="#ffdbdb"/>
<rect x="174.87" y="458.73" width="1.22" height="27.19" fill="#ffe7e7"/>
<rect x="176.04" y="458.73" width="1.23" height="27.19" fill="#ff9292"/>
<rect x="177.22" y="458.73" width="2.32" height="27.19" fill="#fbfffb"/>
<rect x="179.49" y="458.73" width="2.00" height="27.19" fill="#ffcece"/>
<rect x="181.43" y="458.73" width="1.12" height="27.19" fill="#ffa8a8"/>
<rect x="182.50" y="458.73" width="2.72" height="27.19" fill="#ff9b9b"/>
<rect x="185.18" y="458.73" width="1.37" height="27.19" fill="#ffafaf"/>
<rect x="186.50" y="458.73" width="0.91" height="27.19" fill="#ffb9b9"/>
<rect x="187.35" y="458.73" width="1.07" height="27.19" fill="#ffbfbf"/>
<rect x="188.38" y="458.73" width="1.33" height="27.19" fill="#ffbbbb"/>
<rect x="189.65" y="458.73" width="1.60" height="27.19" fill="#ffb6b6"/>
<rect x="191.21" y="458.73" width="1.28" height="27.19" fill="#ffeeee"/>
<rect x="192.43" y="458.73" width="1.93" height="27.19" fill="#ff6e6e"/>
<rect x="194.31" y="458.73" width="1.49" height="27.19" fill="#ffe2e2"/>
<rect x="195.75" y="458.73" width="0.87" height="27.19" fill="#ff8e8e"/>
<rect x="196.57" y="458.73" width="1.68" height="27.19" fill="#ffb5b5"/>
<rect x="198.21" y="458.73" width="2.19" height="27.19" fill="#ff7a7a"/>
<rect x="200.34" y="458.73" width="2.41" height="27.19" fill="#ff4949"/>
<rect x="202.71" y="458.73" width="2.07" height="27.19" fill="#ffdbdb"/>
<rect x="204.73" y="458.73" width="2.69" height="27.19" fill="#ff7d7d"/>
<rect x="207.37" y="458.73" width="1.95" height="27.19" fill="#ff7575"/>
<rect x="209.27" y="458.73" width="1.77" height="27.19" fill="#ffbdbd"/>
<rect x="210.99" y="458.73" width="2.54" height="27.19" fill="#ff6565"/>
<rect x="213.48" y="458.73" width="1.80" height="27.19" fill="#ff7979"/>
<rect x="215.23" y="458.73" width="2.40" height="27.19" fill="#ffbfbf"/>
<rect x="217.58" y="458.73" width="2.06" height="27.19" fill="#ff6c6c"/>
<rect x="219.59" y="458.73" width="3.01" height="27.19" fill="#ffcccc"/>
<rect x="222.56" y="458.73" width="1.33" height="27.19" fill="#ff6060"/>
<rect x="223.84" y="458.73" width="1.53" height="27.19" fill="#ffc2c2"/>
<rect x="225.32" y="458.73" width="2.33" height="27.19" fill="#ff7474"/>
<rect x="227.60" y="458.73" width="2.17" height="27.19" fill="#ffe4e4"/>
<rect x="229.71" y="458.73" width="2.60" height="27.19" fill="#ff6464"/>
<rect x="232.26" y="458.73" width="3.01" height="27.19" fill="#ff8282"/>
<rect x="235.23" y="458.73" width="2.65" height="27.19" fill="#ff6767"/>
<rect x="237.82" y="458.73" width="2.66" height="27.19" fill="#fafffa"/>
<rect x="240.43" y="458.73" width="2.86" height="27.19" fill="#ffd3d3"/>
<rect x="243.24" y="458.73" width="1.05" height="27.19" fill="#c3ffc3"/>
<rect x="244.24" y="458.73" width="2.62" height="27.19" fill="#ffe3e3"/>
<rect x="246.82" y="458.73" width="2.68" height="27.19" fill="#ffd5d5"/>
<rect x="249.44" y="458.73" width="1.76" height="27.19" fill="#e4ffe4"/>
<rect x="251.15" y="458.73" width="1.61" height="27.19" fill="#9dff9d"/>
<rect x="252.71" y="458.73" width="1.26" height="27.19" fill="#e0ffe0"/>
<rect x="253.93" y="458.73" width="2.49" height="27.19" fill="#e7ffe7"/>
<rect x="256.36" y="458.73" width="2.11" height="27.19" fill="#f8fff8"/>
<rect x="258.42" y="458.73" width="2.03" height="27.19" fill="#fff8f8"/>
<rect x="260.41" y="458.73" width="2.80" height="27.19" fill="#e5ffe5"/>
<rect x="263.16" y="458.73" width="2.74" height="27.19" fill="#aaffaa"/>
<rect x="265.85" y="458.73" width="2.97" height="27.19" fill="#ecffec"/>
<rect x="268.77" y="458.73" width="0.96" height="27.19" fill="#fff8f8"/>
<rect x="269.68" y="458.73" width="1.93" height="27.19" fill="#f5fff5"/>
<rect x="271.56" y="458.73" width="1.06" height="27.19" fill="#f6fff6"/>
<rect x="272.57" y="458.73" width="2.46" height="27.19" fill="#fff0f0"/>
<rect x="274.98" y="458.73" width="3.01" height="27.19" fill="#ffe1e1"/>
<rect x="277.95" y="458.73" width="2.79" height="27.19" fill="#fff3f3"/>
<rect x="280.69" y="458.73" width="2.13" height="27.19" fill="#fff7f7"/>
<rect x="282.77" y="458.73" width="2.69" height="27.19" fill="#ffecec"/>
<rect x="285.41" y="458.73" width="2.51" height="27.19" fill="#fff8f8"/>
<rect x="287.87" y="458.73" width="1.92" height="27.19" fill="#ffe4e4"/>
<rect x="289.74" y="458.73" width="2.57" height="27.19" fill="#a5ffa5"/>
<rect x="292.26" y="458.73" width="2.26" height="27.19" fill="#e3ffe3"/>
<rect x="294.47" y="458.73" width="1.83" height="27.19" fill="#fffdfd"/>
<rect x="296.24" y="458.73" width="2.53" height="27.19" fill="#d1ffd1"/>
<rect x="298.72" y="458.73" width="2.61" height="27.19" fill="#ecffec"/>
<rect x="301.28" y="458.73" width="1.96" height="27.19" fill="#cdffcd"/>
<rect x="303.19" y="458.73" width="1.28" height="27.19" fill="#fffbfb"/>
<rect x="304.42" y="458.73" width="2.76" height="27.19" fill="#ffd2d2"/>
<rect x="307.14" y="458.73" width="1.70" height="27.19" fill="#fff7f7"/>
<rect x="308.79" y="458.73" width="2.25" height="27.19" fill="#f0fff0"/>
<rect x="310.99" y="458.73" width="1.94" height="27.19" fill="#c4ffc4"/>
<rect x="312.87" y="458.73" width="3.02" height="27.19" fill="#bcffbc"/>
<rect x="315.84" y="458.73" width="0.91" height="27.19" fill="#fffbfb"/>
<rect x="316.71" y="458.73" width="1.10" height="27.19" fill="#d5ffd5"/>
<rect x="317.75" y="458.73" width="2.12" height="27.19" fill="#a7ffa7"/>
<rect x="319.83" y="458.73" width="1.62" height="27.19" fill="#83ff83"/>
<rect x="321.39" y="458.73" width="1.41" height="27.19" fill="#9dff9d"/>
<rect x="322.75" y="458.73" width="2.25" height="27.19" fill="#67ff67"/>
<rect x="324.95" y="458.73" width="2.51" height="27.19" fill="#95ff95"/>
<rect x="327.42" y="458.73" width="2.04" height="27.19" fill="#a0ffa0"/>
<rect x="329.41" y="458.73" width="1.03" height="27.19" fill="#b1ffb1"/>
<rect x="330.38" y="458.73" width="2.72" height="27.19" fill="#dcffdc"/>
<rect x="333.06" y="458.73" width="1.18" height="27.19" fill="#efffef"/>
<rect x="334.19" y="458.73" width="2.25" height="27.19" fill="#baffba"/>
<rect x="336.38" y="458.73" width="1.26" height="27.19" fill="#5dff5d"/>
<rect x="337.59" y="458.73" width="0.95" height="27.19" fill="#dbffdb"/>
<rect x="338.49" y="458.73" width="1.30" height="27.19" fill="#adffad"/>
<rect x="339.74" y="458.73" width="2.98" height="27.19" fill="#50ff50"/>
<rect x="342.68" y="458.73" width="0.92" height="27.19" fill="#ffdada"/>
<rect x="343.55" y="458.73" width="1.30" height="27.19" fill="#9cff9c"/>
<rect x="344.80" y="458.73" width="1.62" height="27.19" fill="#f5fff5"/>
<rect x="346.37" y="458.73" width="1.56" height="27.19" fill="#e2ffe2"/>
<rect x="347.88" y="458.73" width="1.74" height="27.19" fill="#e9ffe9"/>
<rect x="349.58" y="458.73" width="2.91" height="27.19" fill="#e4ffe4"/>
<rect x="352.43" y="458.73" width="2.64" height="27.19" fill="#c8ffc8"/>
<rect x="355.02" y="458.73" width="1.02" height="27.19" fill="#6fff6f"/>
<rect x="355.99" y="458.73" width="1.88" height="27.19" fill="#dfffdf"/>
<rect x="357.82" y="458.73" width="1.01" height="27.19" fill="#d7ffd7"/>
<rect x="358.78" y="458.73" width="2.70" height="27.19" fill="#84ff84"/>
<rect x="361.42" y="458.73" width="1.91" height="27.19" fill="#9bff9b"/>
<rect x="363.29" y="458.73" width="2.05" height="27.19" fill="#d3ffd3"/>
<rect x="365.28" y="458.73" width="0.88" height="27.19" fill="#d5ffd5"/>
<rect x="366.12" y="458.73" width="1.98" height="27.19" fill="#cfffcf"/>
<rect x="368.04" y="458.73" width="1.41" height="27.19" fill="#b4ffb4"/>
<rect x="369.41" y="458.73" width="2.46" height="27.19" fill="#c8ffc8"/>
<rect x="371.82" y="458.73" width="2.19" height="27.19" fill="#a3ffa3"/>
<rect x="373.95" y="458.73" width="2.62" height="27.19" fill="#fdfffd"/>
<rect x="376.52" y="458.73" width="2.12" height="27.19" fill="#9bff9b"/>
<rect x="378.59" y="458.73" width="1.45" height="27.19" fill="#7bff7b"/>
<rect x="379.99" y="458.73" width="1.55" height="27.19" fill="#92ff92"/>
<rect x="381.49" y="458.73" width="2.80" height="27.19" fill="#d4ffd4"/>
<rect x="384.24" y="458.73" width="1.26" height="27.19" fill="#40ff40"/>
<rect x="385.46" y="458.73" width="2.36" height="27.19" fill="#65ff65"/>
<rect x="387.77" y="458.73" width="2.18" height="27.19" fill="#8cff8c"/>
<rect x="389.89" y="458.73" width="0.86" height="27.19" fill="#98ff98"/>
<rect x="390.70" y="458.73" width="2.99" height="27.19" fill="#38ff38"/>
<rect x="393.65" y="458.73" width="0.93" height="27.19" fill="#7fff7f"/>
<rect x="394.53" y="458.73" width="3.02" height="27.19" fill="#62ff62"/>
<rect x="397.51" y="458.73" width="2.32" height="27.19" fill="#5aff5a"/>
<rect x="399.78" y="458.73" width="2.72" height="27.19" fill="#50ff50"/>
<rect x="402.44" y="458.73" width="1.55" height="27.19" fill="#5fff5f"/>
<rect x="403.95" y="458.73" width="1.13" height="27.19" fill="#93ff93"/>
<rect x="405.03" y="458.73" width="2.19" height="27.19" fill="#71ff71"/>
<rect x="407.17" y="458.73" width="2.19" height="27.19" fill="#e9ffe9"/>
<rect x="409.30" y="458.73" width="2.77" height="27.19" fill="#8bff8b"/>
<rect x="412.03" y="458.73" width="2.58" height="27.19" fill="#73ff73"/>
<rect x="414.56" y="458.73" width="0.99" height="27.19" fill="#5cff5c"/>
<rect x="415.49" y="458.73" width="2.58" height="27.19" fill="#d8ffd8"/>
<rect x="418.03" y="458.73" width="2.32" height="27.19" fill="#98ff98"/>
<rect x="420.29" y="458.73" width="0.98" height="27.19" fill="#3bff3b"/>
<rect x="421.23" y="458.73" width="2.85" height="27.19" fill="#43ff43"/>
<rect x="424.02" y="458.73" width="0.89" height="27.19" fill="#a7ffa7"/>
<rect x="424.86" y="458.73" width="2.74" height="27.19" fill="#91ff91"/>
<rect x="427.55" y="458.73" width="1.03" height="27.19" fill="#80ff80"/>
<rect x="428.53" y="458.73" width="0.86" height="27.19" fill="#56ff56"/>
<rect x="429.34" y="458.73" width="1.87" height="27.19" fill="#c7ffc7"/>
<rect x="431.16" y="458.73" width="0.86" height="27.19" fill="#41ff41"/>
<rect x="431.96" y="458.73" width="1.78" height="27.19" fill="#33ff33"/>
<rect x="433.70" y="458.73" width="2.48" height="27.19" fill="#00ff00"/>
<rect x="436.13" y="458.73" width="1.32" height="27.19" fill="#00ff00"/>
<rect x="437.39" y="458.73" width="1.36" height="27.19" fill="#37ff37"/>
<rect x="438.70" y="458.73" width="1.49" height="27.19" fill="#2dff2d"/>
<rect x="440.14" y="458.73" width="1.69" height="27.19" fill="#56ff56"/>
<rect x="441.78" y="458.73" width="1.04" height="27.19" fill="#48ff48"/>
<rect x="442.77" y="458.73" width="1.38" height="27.19" fill="#33ff33"/>
<rect x="444.10" y="458.73" width="0.94" height="27.19" fill="#0aff0a"/>
<rect x="444.99" y="458.73" width="1.58" height="27.19" fill="#87ff87"/>
<rect x="446.52" y="458.73" width="1.36" height="27.19" fill="#44ff44"/>
<rect x="447.83" y="458.73" width="0.94" height="27.19" fill="#00ff00"/>
<rect x="448.72" y="458.73" width="2.59" height="27.19" fill="#caffca"/>
<rect x="451.26" y="458.73" width="2.34" height="27.19" fill="#13ff13"/>
<rect x="453.54" y="458.73" width="1.92" height="27.19" fill="#42ff42"/>
<rect x="455.41" y="458.73" width="2.24" height="27.19" fill="#ffc9c9"/>
<rect x="457.60" y="458.73" width="3.03" height="27.19" fill="#ff9d9d"/>
<rect x="460.58" y="458.73" width="2.00" height="27.19" fill="#ffc5c5"/>
<rect x="462.54" y="458.73" width="1.02" height="27.19" fill="#ffeaea"/>
<rect x="463.51" y="458.73" width="2.78" height="27.19" fill="#ff7575"/>
<rect x="466.25" y="458.73" width="1.98" height="27.19" fill="#ffcfcf"/>
<rect x="468.18" y="458.73" width="2.15" height="27.19" fill="#ffe3e3"/>
<rect x="470.28" y="458.73" width="1.53" height="27.19" fill="#ffc0c0"/>
<rect x="471.76" y="458.73" width="2.09" height="27.19" fill="#ffa3a3"/>
<rect x="473.80" y="458.73" width="2.16" height="27.19" fill="#ff9090"/>
<rect x="475.91" y="458.73" width="1.83" height="27.19" fill="#ffcccc"/>
<rect x="477.70" y="458.73" width="2.98" height="27.19" fill="#fff0f0"/>
<rect x="480.63" y="458.73" width="2.26" height="27.19" fill="#fff2f2"/>
<rect x="482.83" y="458.73" width="1.89" height="27.19" fill="#ffaaaa"/>
<rect x="484.67" y="458.73" width="1.34" height="27.19" fill="#ff9090"/>
<rect x="485.96" y="458.73" width="1.11" height="27.19" fill="#ffe8e8"/>
<rect x="487.03" y="458.73" width="2.71" height="27.19" fill="#ff7a7a"/>
<rect x="489.69" y="458.73" width="1.32" height="27.19" fill="#ffaeae"/>
<rect x="490.96" y="458.73" width="0.85" height="27.19" fill="#ffd5d5"/>
<rect x="491.76" y="458.73" width="2.91" height="27.19" fill="#ffd9d9"/>
<rect x="494.62" y="458.73" width="1.05" height="27.19" fill="#ffb1b1"/>
<rect x="495.62" y="458.73" width="2.75" height="27.19" fill="#ffc8c8"/>
<rect x="498.32" y="458.73" width="1.49" height="27.19" fill="#ffc9c9"/>
<rect x="499.76" y="458.73" width="2.58" height="27.19" fill="#ffa1a1"/>
<rect x="502.28" y="458.73" width="1.31" height="27.19" fill="#ffcaca"/>
<rect x="503.55" y="458.73" width="1.98" height="27.19" fill="#ffdcdc"/>
<rect x="505.48" y="458.73" width="2.56" height="27.19" fill="#ffc3c3"/>
<rect x="507.99" y="458.73" width="1.81" height="27.19" fill="#ffd4d4"/>
<rect x="509.75" y="458.73" width="1.63" height="27.19" fill="#fff6f6"/>
<rect x="511.33" y="458.73" width="1.44" height="27.19" fill="#f7fff7"/>
<rect x="512.72" y="458.73" width="2.68" height="27.19" fill="#ffb9b9"/>
<rect x="515.35" y="458.73" width="1.93" height="27.19" fill="#ffbdbd"/>
<rect x="517.22" y="458.73" width="2.71" height="27.19" fill="#ffa4a4"/>
<rect x="519.88" y="458.73" width="1.41" height="27.19" fill="#ffa9a9"/>
<rect x="521.24" y="458.73" width="2.54" height="27.19" fill="#ffc5c5"/>
<rect x="523.73" y="458.73" width="1.49" height="27.19" fill="#ffcdcd"/>
<rect x="525.17" y="458.73" width="2.60" height="27.19" fill="#ffc5c5"/>
<rect x="527.72" y="458.73" width="2.55" height="27.19" fill="#ff9e9e"/>
<rect x="530.22" y="458.73" width="2.25" height="27.19" fill="#f9fff9"/>
<rect x="532.42" y="458.73" width="1.82" height="27.19" fill="#fbfffb"/>
<rect x="534.19" y="458.73" width="2.03" height="27.19" fill="#ebffeb"/>
<rect x="536.18" y="458.73" width="0.93" height="27.19" fill="#f0fff0"/>
<rect x="537.06" y="458.73" width="2.55" height="27.19" fill="#deffde"/>
<rect x="539.56" y="458.73" width="1.33" height="27.19" fill="#fff3f3"/>
<rect x="540.84" y="458.73" width="1.78" height="27.19" fill="#dcffdc"/>
<rect x="542.57" y="458.73" width="2.95" height="27.19" fill="#ffeded"/>
<rect x="545.48" y="458.73" width="2.98" height="27.19" fill="#f6fff6"/>
<rect x="548.40" y="458.73" width="1.43" height="27.19" fill="#fffbfb"/>
<rect x="549.78" y="458.73" width="1.62" height="27.19" fill="#fff6f6"/>
<rect x="551.35" y="458.73" width="1.25" height="27.19" fill="#b5ffb5"/>
<rect x="552.55" y="458.73" width="2.85" height="27.19" fill="#d9ffd9"/>
<rect x="555.35" y="458.73" width="2.52" height="27.19" fill="#43ff43"/>
<rect x="557.82" y="458.73" width="1.28" height="27.19" fill="#e0ffe0"/>
<rect x="559.05" y="458.73" width="1.89" height="27.19" fill="#77ff77"/>
<rect x="560.89" y="458.73" width="1.18" height="27.19" fill="#afffaf"/>
<rect x="562.02" y="458.73" width="2.66" height="27.19" fill="#8eff8e"/>
<rect x="564.63" y="458.73" width="2.19" height="27.19" fill="#b5ffb5"/>
<rect x="566.77" y="458.73" width="1.31" height="27.19" fill="#95ff95"/>
<rect x="568.03" y="458.73" width="2.05" height="27.19" fill="#d9ffd9"/>
<rect x="570.03" y="458.73" width="1.63" height="27.19" fill="#ffe9e9"/>
<rect x="571.61" y="458.73" width="2.69" height="27.19" fill="#d2ffd2"/>
<rect x="574.25" y="458.73" width="1.46" height="27.19" fill="#bcffbc"/>
<rect x="575.66" y="458.73" width="2.06" height="27.19" fill="#c1ffc1"/>
<rect x="577.67" y="458.73" width="1.13" height="27.19" fill="#9dff9d"/>
<rect x="578.75" y="458.73" width="3.03" height="27.19" fill="#e2ffe2"/>
<rect x="581.73" y="458.73" width="1.22" height="27.19" fill="#f8fff8"/>
<rect x="582.91" y="458.73" width="2.32" height="27.19" fill="#a7ffa7"/>
<rect x="585.18" y="458.73" width="1.76" height="27.19" fill="#a0ffa0"/>
<rect x="586.89" y="458.73" width="2.70" height="27.19" fill="#e3ffe3"/>
<rect x="589.54" y="458.73" width="1.47" height="27.19" fill="#b2ffb2"/>
<rect x="590.96" y="458.73" width="2.62" height="27.19" fill="#92ff92"/>
<rect x="593.53" y="458.73" width="3.02" height="27.19" fill="#e6ffe6"/>
<rect x="596.50" y="458.73" width="1.11" height="27.19" fill="#b8ffb8"/>
<rect x="597.56" y="458.73" width="2.96" height="27.19" fill="#a7ffa7"/>
<rect x="600.47" y="458.73" width="2.06" height="27.19" fill="#8fff8f"/>
<rect x="602.48" y="458.73" width="0.98" height="27.19" fill="#e8ffe8"/>
<rect x="603.41" y="458.73" width="2.99" height="27.19" fill="#c2ffc2"/>
<rect x="606.35" y="458.73" width="1.89" height="27.19" fill="#7cff7c"/>
<rect x="608.19" y="458.73" width="1.75" height="27.19" fill="#b8ffb8"/>
<rect x="609.89" y="458.73" width="2.95" height="27.19" fill="#9eff9e"/>
<rect x="612.80" y="458.73" width="1.52" height="27.19" fill="#d4ffd4"/>
<rect x="614.27" y="458.73" width="1.95" height="27.19" fill="#9eff9e"/>
<rect x="616.17" y="458.73" width="2.29" height="27.19" fill="#98ff98"/>
<rect x="618.41" y="458.73" width="2.99" height="27.19" fill="#81ff81"/>
<rect x="621.35" y="458.73" width="1.54" height="27.19" fill="#c2ffc2"/>
<rect x="622.84" y="458.73" width="2.46" height="27.19" fill="#b8ffb8"/>
<rect x="625.25" y="458.73" width="2.13" height="27.19" fill="#94ff94"/>
<rect x="627.33" y="458.73" width="1.89" height="27.19" fill="#7bff7b"/>
<rect x="629.17" y="458.73" width="1.32" height="27.19" fill="#9aff9a"/>
<rect x="630.44" y="458.73" width="1.99" height="27.19" fill="#c9ffc9"/>
<rect x="632.38" y="458.73" width="1.83" height="27.19" fill="#fffcfc"/>
<rect x="634.16" y="458.73" width="1.47" height="27.19" fill="#c9ffc9"/>
<rect x="635.58" y="458.73" width="1.62" height="27.19" fill="#bfffbf"/>
<rect x="637.15" y="458.73" width="1.19" height="27.19" fill="#a5ffa5"/>
<rect x="638.30" y="458.73" width="1.50" height="27.19" fill="#f4fff4"/>
<rect x="639.75" y="458.73" width="1.96" height="27.19" fill="#b2ffb2"/>
<rect x="641.66" y="458.73" width="2.22" height="27.19" fill="#90ff90"/>
<rect x="643.83" y="458.73" width="1.66" height="27.19" fill="#b0ffb0"/>
<rect x="645.43" y="458.73" width="2.03" height="27.19" fill="#c2ffc2"/>
<rect x="647.41" y="458.73" width="1.02" height="27.19" fill="#ffffff"/>
<rect x="648.38" y="458.73" width="2.44" height="27.19" fill="#c1ffc1"/>
<rect x="650.77" y="458.73" width="1.47" height="27.19" fill="#ceffce"/>
<rect x="652.19" y="458.73" width="1.56" height="27.19" fill="#f9fff9"/>
<path d="M71.3,240.3H653.7V485.92H71.3ZM71.3,268.40H653.7M71.3,295.59H653.7M71.3,322.78H653.7M71.3,349.97H653.7M71.3,377.16H653.7M71.3,404.35H653.7M71.3,431.54H653.7M71.3,458.73H653.7M71.3,485.92H653.7" stroke="#555" stroke-width="0.9" fill="none"/>
<text x="63" y="256.55" class="al">Module colors</text>
<text x="63" y="284.19" class="al">ZA</text>
<text x="63" y="311.38" class="al">GA3</text>
<text x="63" y="338.57" class="al">IAA</text>
<text x="63" y="365.76" class="al">ABA</text>
<text x="63" y="392.95" class="al">Lig</text>
<text x="63" y="420.15" class="al">PG</text>
<text x="63" y="447.33" class="al">CE</text>
<text x="63" y="474.53" class="al">SHT</text>
</g>
<g id="pb">
<text x="663.2" y="19.4" class="lab" style="font-size:21.5px">b</text>
<rect x="733.1" y="17.50" width="31.00" height="16.77" fill="#000000"/>
<text x="727.5" y="29.10" class="rl">MEblack</text>
<rect x="767.30" y="17.50" width="41.41" height="16.57" fill="#9fc4ec" stroke="#e2e2e2" stroke-width="0.6"/>
<rect x="808.71" y="17.50" width="41.41" height="16.57" fill="#e83223" stroke="#e2e2e2" stroke-width="0.6"/>
<rect x="850.12" y="17.50" width="41.41" height="16.57" fill="#e72617" stroke="#e2e2e2" stroke-width="0.6"/>
<rect x="891.53" y="17.50" width="41.41" height="16.57" fill="#3885d7" stroke="#e2e2e2" stroke-width="0.6"/>
<rect x="932.94" y="17.50" width="41.41" height="16.57" fill="#116ccf" stroke="#e2e2e2" stroke-width="0.6"/>
<rect x="974.35" y="17.50" width="41.41" height="16.57" fill="#5f9ddf" stroke="#e2e2e2" stroke-width="0.6"/>
<rect x="1015.76" y="17.50" width="41.41" height="16.57" fill="#5c9bde" stroke="#e2e2e2" stroke-width="0.6"/>
<rect x="1057.17" y="17.50" width="41.41" height="16.57" fill="#98c0ea" stroke="#e2e2e2" stroke-width="0.6"/>
<rect x="733.1" y="34.06" width="31.00" height="16.77" fill="#006400"/>
<text x="727.5" y="45.74" class="rl">MEdarkgreen</text>
<text x="748.60" y="45.66" class="bn">110</text>
<rect x="767.30" y="34.06" width="41.41" height="16.57" fill="#fbdddb" stroke="#e2e2e2" stroke-width="0.6"/>
<rect x="808.71" y="34.06" width="41.41" height="16.57" fill="#f3958e" stroke="#e2e2e2" stroke-width="0.6"/>
<rect x="850.12" y="34.06" width="41.41" height="16.57" fill="#f3928a" stroke="#e2e2e2" stroke-width="0.6"/>
<rect x="891.53" y="34.06" width="41.41" height="16.57" fill="#80b0e6" stroke="#e2e2e2" stroke-width="0.6"/>
<rect x="932.94" y="34.06" width="41.41" height="16.57" fill="#a2c6ec" stroke="#e2e2e2" stroke-width="0.6"/>
<rect x="974.35" y="34.06" width="41.41" height="16.57" fill="#c5dcf3" stroke="#e2e2e2" stroke-width="0.6"/>
<rect x="1015.76" y="34.06" width="41.41" height="16.57" fill="#98c0ea" stroke="#e2e2e2" stroke-width="0.6"/>
<rect x="1057.17" y="34.06" width="41.41" height="16.57" fill="#a9caee" stroke="#e2e2e2" stroke-width="0.6"/>
<rect x="733.1" y="50.63" width="31.00" height="16.77" fill="#800080"/>
<text x="727.5" y="62.39" class="rl">MEpurple</text>
<text x="748.60" y="62.23" class="bn">714</text>
<rect x="767.30" y="50.63" width="41.41" height="16.57" fill="#f2877e" stroke="#e2e2e2" stroke-width="0.6"/>
<rect x="808.71" y="50.63" width="41.41" height="16.57" fill="#f7bab5" stroke="#e2e2e2" stroke-width="0.6"/>
<rect x="850.12" y="50.63" width="41.41" height="16.57" fill="#f4a099" stroke="#e2e2e2" stroke-width="0.6"/>
<rect x="891.53" y="50.63" width="41.41" height="16.57" fill="#86b5e7" stroke="#e2e2e2" stroke-width="0.6"/>
<rect x="932.94" y="50.63" width="41.41" height="16.57" fill="#c4daf3" stroke="#e2e2e2" stroke-width="0.6"/>
<rect x="974.35" y="50.63" width="41.41" height="16.57" fill="#c6dcf4" stroke="#e2e2e2" stroke-width="0.6"/>
<rect x="1015.76" y="50.63" width="41.41" height="16.57" fill="#afceef" stroke="#e2e2e2" stroke-width="0.6"/>
<rect x="1057.17" y="50.63" width="41.41" height="16.57" fill="#b6d2f0" stroke="#e2e2e2" stroke-width="0.6"/>
<rect x="733.1" y="67.20" width="31.00" height="16.77" fill="#8b0000"/>
<text x="727.5" y="79.03" class="rl">MEbrown</text>
<text x="748.60" y="78.80" class="bn">2638</text>
<rect x="767.30" y="67.20" width="41.41" height="16.57" fill="#f07c73" stroke="#e2e2e2" stroke-width="0.6"/>
<rect x="808.71" y="67.20" width="41.41" height="16.57" fill="#fbdfdd" stroke="#e2e2e2" stroke-width="0.6"/>
<rect x="850.12" y="67.20" width="41.41" height="16.57" fill="#f9cbc7" stroke="#e2e2e2" stroke-width="0.6"/>
<rect x="891.53" y="67.20" width="41.41" height="16.57" fill="#a4c7ed" stroke="#e2e2e2" stroke-width="0.6"/>
<rect x="932.94" y="67.20" width="41.41" height="16.57" fill="#adccef" stroke="#e2e2e2" stroke-width="0.6"/>
<rect x="974.35" y="67.20" width="41.41" height="16.57" fill="#fce1df" stroke="#e2e2e2" stroke-width="0.6"/>
<rect x="1015.76" y="67.20" width="41.41" height="16.57" fill="#fef3f2" stroke="#e2e2e2" stroke-width="0.6"/>
<rect x="1057.17" y="67.20" width="41.41" height="16.57" fill="#fdf0ef" stroke="#e2e2e2" stroke-width="0.6"/>
<rect x="733.1" y="83.76" width="31.00" height="16.77" fill="#ffffe0"/>
<text x="727.5" y="95.68" class="rl">MElightyellow</text>
<text x="748.60" y="95.36" class="bn">179</text>
<rect x="767.30" y="83.76" width="41.41" height="16.57" fill="#fad4d1" stroke="#e2e2e2" stroke-width="0.6"/>
<rect x="808.71" y="83.76" width="41.41" height="16.57" fill="#f17d74" stroke="#e2e2e2" stroke-width="0.6"/>
<rect x="850.12" y="83.76" width="41.41" height="16.57" fill="#ed6054" stroke="#e2e2e2" stroke-width="0.6"/>
<rect x="891.53" y="83.76" width="41.41" height="16.57" fill="#5a99de" stroke="#e2e2e2" stroke-width="0.6"/>
<rect x="932.94" y="83.76" width="41.41" height="16.57" fill="#5596dd" stroke="#e2e2e2" stroke-width="0.6"/>
<rect x="974.35" y="83.76" width="41.41" height="16.57" fill="#b1cfef" stroke="#e2e2e2" stroke-width="0.6"/>
<rect x="1015.76" y="83.76" width="41.41" height="16.57" fill="#9cc2eb" stroke="#e2e2e2" stroke-width="0.6"/>
<rect x="1057.17" y="83.76" width="41.41" height="16.57" fill="#cadff4" stroke="#e2e2e2" stroke-width="0.6"/>
<rect x="733.1" y="100.33" width="31.00" height="16.77" fill="#999999"/>
<text x="727.5" y="112.32" class="rl">MEgrey60</text>
<text x="748.60" y="111.92" class="bn">231</text>
<rect x="767.30" y="100.33" width="41.41" height="16.57" fill="#ea4133" stroke="#e2e2e2" stroke-width="0.6"/>
<rect x="808.71" y="100.33" width="41.41" height="16.57" fill="#a4c7ed" stroke="#e2e2e2" stroke-width="0.6"/>
<rect x="850.12" y="100.33" width="41.41" height="16.57" fill="#b0ceef" stroke="#e2e2e2" stroke-width="0.6"/>
<rect x="891.53" y="100.33" width="41.41" height="16.57" fill="#fdedec" stroke="#e2e2e2" stroke-width="0.6"/>
<rect x="932.94" y="100.33" width="41.41" height="16.57" fill="#f7b6b1" stroke="#e2e2e2" stroke-width="0.6"/>
<rect x="974.35" y="100.33" width="41.41" height="16.57" fill="#f49a93" stroke="#e2e2e2" stroke-width="0.6"/>
<rect x="1015.76" y="100.33" width="41.41" height="16.57" fill="#f49b94" stroke="#e2e2e2" stroke-width="0.6"/>
<rect x="1057.17" y="100.33" width="41.41" height="16.57" fill="#f9c5c1" stroke="#e2e2e2" stroke-width="0.6"/>
<rect x="733.1" y="116.89" width="31.00" height="16.77" fill="#e0ffff"/>
<text x="727.5" y="128.97" class="rl">MElightcyan</text>
<text x="748.60" y="128.49" class="bn">239</text>
<rect x="767.30" y="116.89" width="41.41" height="16.57" fill="#ed6054" stroke="#e2e2e2" stroke-width="0.6"/>
<rect x="808.71" y="116.89" width="41.41" height="16.57" fill="#639fe0" stroke="#e2e2e2" stroke-width="0.6"/>
<rect x="850.12" y="116.89" width="41.41" height="16.57" fill="#5a99de" stroke="#e2e2e2" stroke-width="0.6"/>
<rect x="891.53" y="116.89" width="41.41" height="16.57" fill="#f39189" stroke="#e2e2e2" stroke-width="0.6"/>
<rect x="932.94" y="116.89" width="41.41" height="16.57" fill="#f07a71" stroke="#e2e2e2" stroke-width="0.6"/>
<rect x="974.35" y="116.89" width="41.41" height="16.57" fill="#ea4538" stroke="#e2e2e2" stroke-width="0.6"/>
<rect x="1015.76" y="116.89" width="41.41" height="16.57" fill="#ec5043" stroke="#e2e2e2" stroke-width="0.6"/>
<rect x="1057.17" y="116.89" width="41.41" height="16.57" fill="#f17d74" stroke="#e2e2e2" stroke-width="0.6"/>
<rect x="733.1" y="133.46" width="31.00" height="16.77" fill="#ffc0cb"/>
<text x="727.5" y="145.61" class="rl">MEpink</text>
<text x="748.60" y="145.06" class="bn">752</text>
<rect x="767.30" y="133.46" width="41.41" height="16.57" fill="#e2edf9" stroke="#e2e2e2" stroke-width="0.6"/>
<rect x="808.71" y="133.46" width="41.41" height="16.57" fill="#a2c5ec" stroke="#e2e2e2" stroke-width="0.6"/>
<rect x="850.12" y="133.46" width="41.41" height="16.57" fill="#a9caee" stroke="#e2e2e2" stroke-width="0.6"/>
<rect x="891.53" y="133.46" width="41.41" height="16.57" fill="#f28b83" stroke="#e2e2e2" stroke-width="0.6"/>
<rect x="932.94" y="133.46" width="41.41" height="16.57" fill="#fce7e5" stroke="#e2e2e2" stroke-width="0.6"/>
<rect x="974.35" y="133.46" width="41.41" height="16.57" fill="#f8c4bf" stroke="#e2e2e2" stroke-width="0.6"/>
<rect x="1015.76" y="133.46" width="41.41" height="16.57" fill="#f3938b" stroke="#e2e2e2" stroke-width="0.6"/>
<rect x="1057.17" y="133.46" width="41.41" height="16.57" fill="#f5a59f" stroke="#e2e2e2" stroke-width="0.6"/>
<rect x="733.1" y="150.02" width="31.00" height="16.77" fill="#8b0000"/>
<text x="727.5" y="162.26" class="rl">MEdarkred</text>
<text x="748.60" y="161.62" class="bn">160</text>
<rect x="767.30" y="150.02" width="41.41" height="16.57" fill="#f0796f" stroke="#e2e2e2" stroke-width="0.6"/>
<rect x="808.71" y="150.02" width="41.41" height="16.57" fill="#93bde9" stroke="#e2e2e2" stroke-width="0.6"/>
<rect x="850.12" y="150.02" width="41.41" height="16.57" fill="#a5c8ed" stroke="#e2e2e2" stroke-width="0.6"/>
<rect x="891.53" y="150.02" width="41.41" height="16.57" fill="#f7b9b4" stroke="#e2e2e2" stroke-width="0.6"/>
<rect x="932.94" y="150.02" width="41.41" height="16.57" fill="#f9c9c5" stroke="#e2e2e2" stroke-width="0.6"/>
<rect x="974.35" y="150.02" width="41.41" height="16.57" fill="#f38f87" stroke="#e2e2e2" stroke-width="0.6"/>
<rect x="1015.76" y="150.02" width="41.41" height="16.57" fill="#f28880" stroke="#e2e2e2" stroke-width="0.6"/>
<rect x="1057.17" y="150.02" width="41.41" height="16.57" fill="#f5a59e" stroke="#e2e2e2" stroke-width="0.6"/>
<rect x="733.1" y="166.59" width="31.00" height="16.77" fill="#ff0000"/>
<text x="727.5" y="178.91" class="rl">MEred</text>
<text x="748.60" y="178.19" class="bn">994</text>
<rect x="767.30" y="166.59" width="41.41" height="16.57" fill="#fbdcd9" stroke="#e2e2e2" stroke-width="0.6"/>
<rect x="808.71" y="166.59" width="41.41" height="16.57" fill="#cbdff5" stroke="#e2e2e2" stroke-width="0.6"/>
<rect x="850.12" y="166.59" width="41.41" height="16.57" fill="#e9f1fb" stroke="#e2e2e2" stroke-width="0.6"/>
<rect x="891.53" y="166.59" width="41.41" height="16.57" fill="#fce2e0" stroke="#e2e2e2" stroke-width="0.6"/>
<rect x="932.94" y="166.59" width="41.41" height="16.57" fill="#b8d3f1" stroke="#e2e2e2" stroke-width="0.6"/>
<rect x="974.35" y="166.59" width="41.41" height="16.57" fill="#f6aca6" stroke="#e2e2e2" stroke-width="0.6"/>
<rect x="1015.76" y="166.59" width="41.41" height="16.57" fill="#f38f87" stroke="#e2e2e2" stroke-width="0.6"/>
<rect x="1057.17" y="166.59" width="41.41" height="16.57" fill="#f07b72" stroke="#e2e2e2" stroke-width="0.6"/>
<rect x="733.1" y="183.15" width="31.00" height="16.77" fill="#90ee90"/>
<text x="727.5" y="195.55" class="rl">MElightgreen</text>
<text x="748.60" y="194.75" class="bn">189</text>
<rect x="767.30" y="183.15" width="41.41" height="16.57" fill="#ecf4fb" stroke="#e2e2e2" stroke-width="0.6"/>
<rect x="808.71" y="183.15" width="41.41" height="16.57" fill="#f1f6fc" stroke="#e2e2e2" stroke-width="0.6"/>
<rect x="850.12" y="183.15" width="41.41" height="16.57" fill="#deebf8" stroke="#e2e2e2" stroke-width="0.6"/>
<rect x="891.53" y="183.15" width="41.41" height="16.57" fill="#fbd8d5" stroke="#e2e2e2" stroke-width="0.6"/>
<rect x="932.94" y="183.15" width="41.41" height="16.57" fill="#f9c5c1" stroke="#e2e2e2" stroke-width="0.6"/>
<rect x="974.35" y="183.15" width="41.41" height="16.57" fill="#fbd7d4" stroke="#e2e2e2" stroke-width="0.6"/>
<rect x="1015.76" y="183.15" width="41.41" height="16.57" fill="#edf4fb" stroke="#e2e2e2" stroke-width="0.6"/>
<rect x="1057.17" y="183.15" width="41.41" height="16.57" fill="#fefaf9" stroke="#e2e2e2" stroke-width="0.6"/>
<rect x="733.1" y="199.72" width="31.00" height="16.77" fill="#191970"/>
<text x="727.5" y="212.19" class="rl">MEmidnightblue</text>
<text x="748.60" y="211.31" class="bn">286</text>
<rect x="767.30" y="199.72" width="41.41" height="16.57" fill="#aecdef" stroke="#e2e2e2" stroke-width="0.6"/>
<rect x="808.71" y="199.72" width="41.41" height="16.57" fill="#bdd6f2" stroke="#e2e2e2" stroke-width="0.6"/>
<rect x="850.12" y="199.72" width="41.41" height="16.57" fill="#c6dcf4" stroke="#e2e2e2" stroke-width="0.6"/>
<rect x="891.53" y="199.72" width="41.41" height="16.57" fill="#f4a099" stroke="#e2e2e2" stroke-width="0.6"/>
<rect x="932.94" y="199.72" width="41.41" height="16.57" fill="#dbe9f8" stroke="#e2e2e2" stroke-width="0.6"/>
<rect x="974.35" y="199.72" width="41.41" height="16.57" fill="#f6aba5" stroke="#e2e2e2" stroke-width="0.6"/>
<rect x="1015.76" y="199.72" width="41.41" height="16.57" fill="#f49790" stroke="#e2e2e2" stroke-width="0.6"/>
<rect x="1057.17" y="199.72" width="41.41" height="16.57" fill="#f0756b" stroke="#e2e2e2" stroke-width="0.6"/>
<rect x="733.1" y="216.28" width="31.00" height="16.77" fill="#ffa500"/>
<text x="727.5" y="228.84" class="rl">MEorange</text>
<text x="748.60" y="227.88" class="bn">85</text>
<rect x="767.30" y="216.28" width="41.41" height="16.57" fill="#d4e4f6" stroke="#e2e2e2" stroke-width="0.6"/>
<rect x="808.71" y="216.28" width="41.41" height="16.57" fill="#d1e3f6" stroke="#e2e2e2" stroke-width="0.6"/>
<rect x="850.12" y="216.28" width="41.41" height="16.57" fill="#c6dcf4" stroke="#e2e2e2" stroke-width="0.6"/>
<rect x="891.53" y="216.28" width="41.41" height="16.57" fill="#f6aea8" stroke="#e2e2e2" stroke-width="0.6"/>
<rect x="932.94" y="216.28" width="41.41" height="16.57" fill="#fad6d3" stroke="#e2e2e2" stroke-width="0.6"/>
<rect x="974.35" y="216.28" width="41.41" height="16.57" fill="#fce2e0" stroke="#e2e2e2" stroke-width="0.6"/>
<rect x="1015.76" y="216.28" width="41.41" height="16.57" fill="#fce1df" stroke="#e2e2e2" stroke-width="0.6"/>
<rect x="1057.17" y="216.28" width="41.41" height="16.57" fill="#fce6e4" stroke="#e2e2e2" stroke-width="0.6"/>
<rect x="733.1" y="232.85" width="31.00" height="16.77" fill="#00ffff"/>
<text x="727.5" y="245.48" class="rl">MEcyan</text>
<text x="748.60" y="244.45" class="bn">311</text>
<rect x="767.30" y="232.85" width="41.41" height="16.57" fill="#f4f8fd" stroke="#e2e2e2" stroke-width="0.6"/>
<rect x="808.71" y="232.85" width="41.41" height="16.57" fill="#fffefe" stroke="#e2e2e2" stroke-width="0.6"/>
<rect x="850.12" y="232.85" width="41.41" height="16.57" fill="#fef3f2" stroke="#e2e2e2" stroke-width="0.6"/>
<rect x="891.53" y="232.85" width="41.41" height="16.57" fill="#f9fbfe" stroke="#e2e2e2" stroke-width="0.6"/>
<rect x="932.94" y="232.85" width="41.41" height="16.57" fill="#fdf1f0" stroke="#e2e2e2" stroke-width="0.6"/>
<rect x="974.35" y="232.85" width="41.41" height="16.57" fill="#e0ecf9" stroke="#e2e2e2" stroke-width="0.6"/>
<rect x="1015.76" y="232.85" width="41.41" height="16.57" fill="#e9f2fb" stroke="#e2e2e2" stroke-width="0.6"/>
<rect x="1057.17" y="232.85" width="41.41" height="16.57" fill="#e5effa" stroke="#e2e2e2" stroke-width="0.6"/>
<rect x="733.1" y="249.41" width="31.00" height="16.77" fill="#4169e1"/>
<text x="727.5" y="262.13" class="rl">MEroyalblue</text>
<text x="748.60" y="261.01" class="bn">178</text>
<rect x="767.30" y="249.41" width="41.41" height="16.57" fill="#cbdff5" stroke="#e2e2e2" stroke-width="0.6"/>
<rect x="808.71" y="249.41" width="41.41" height="16.57" fill="#fffdfd" stroke="#e2e2e2" stroke-width="0.6"/>
<rect x="850.12" y="249.41" width="41.41" height="16.57" fill="#f9fbfe" stroke="#e2e2e2" stroke-width="0.6"/>
<rect x="891.53" y="249.41" width="41.41" height="16.57" fill="#fbdfdc" stroke="#e2e2e2" stroke-width="0.6"/>
<rect x="932.94" y="249.41" width="41.41" height="16.57" fill="#fce8e6" stroke="#e2e2e2" stroke-width="0.6"/>
<rect x="974.35" y="249.41" width="41.41" height="16.57" fill="#d7e6f7" stroke="#e2e2e2" stroke-width="0.6"/>
<rect x="1015.76" y="249.41" width="41.41" height="16.57" fill="#eaf2fb" stroke="#e2e2e2" stroke-width="0.6"/>
<rect x="1057.17" y="249.41" width="41.41" height="16.57" fill="#dfebf9" stroke="#e2e2e2" stroke-width="0.6"/>
<rect x="733.1" y="265.98" width="31.00" height="16.77" fill="#d2b48c"/>
<text x="727.5" y="278.77" class="rl">MEtan</text>
<text x="748.60" y="277.58" class="bn">541</text>
<rect x="767.30" y="265.98" width="41.41" height="16.57" fill="#fdedeb" stroke="#e2e2e2" stroke-width="0.6"/>
<rect x="808.71" y="265.98" width="41.41" height="16.57" fill="#b9d4f1" stroke="#e2e2e2" stroke-width="0.6"/>
<rect x="850.12" y="265.98" width="41.41" height="16.57" fill="#bed7f2" stroke="#e2e2e2" stroke-width="0.6"/>
<rect x="891.53" y="265.98" width="41.41" height="16.57" fill="#f6b1ab" stroke="#e2e2e2" stroke-width="0.6"/>
<rect x="932.94" y="265.98" width="41.41" height="16.57" fill="#f5a7a0" stroke="#e2e2e2" stroke-width="0.6"/>
<rect x="974.35" y="265.98" width="41.41" height="16.57" fill="#fdedec" stroke="#e2e2e2" stroke-width="0.6"/>
<rect x="1015.76" y="265.98" width="41.41" height="16.57" fill="#fdeae9" stroke="#e2e2e2" stroke-width="0.6"/>
<rect x="1057.17" y="265.98" width="41.41" height="16.57" fill="#fefeff" stroke="#e2e2e2" stroke-width="0.6"/>
<rect x="733.1" y="282.54" width="31.00" height="16.77" fill="#0000ff"/>
<text x="727.5" y="295.42" class="rl">MEblue</text>
<text x="748.60" y="294.14" class="bn">4049</text>
<rect x="767.30" y="282.54" width="41.41" height="16.57" fill="#fef3f2" stroke="#e2e2e2" stroke-width="0.6"/>
<rect x="808.71" y="282.54" width="41.41" height="16.57" fill="#f8bfba" stroke="#e2e2e2" stroke-width="0.6"/>
<rect x="850.12" y="282.54" width="41.41" height="16.57" fill="#fbdedb" stroke="#e2e2e2" stroke-width="0.6"/>
<rect x="891.53" y="282.54" width="41.41" height="16.57" fill="#c5dbf3" stroke="#e2e2e2" stroke-width="0.6"/>
<rect x="932.94" y="282.54" width="41.41" height="16.57" fill="#f7b6b0" stroke="#e2e2e2" stroke-width="0.6"/>
<rect x="974.35" y="282.54" width="41.41" height="16.57" fill="#a2c6ec" stroke="#e2e2e2" stroke-width="0.6"/>
<rect x="1015.76" y="282.54" width="41.41" height="16.57" fill="#7dafe5" stroke="#e2e2e2" stroke-width="0.6"/>
<rect x="1057.17" y="282.54" width="41.41" height="16.57" fill="#65a0e0" stroke="#e2e2e2" stroke-width="0.6"/>
<rect x="733.1" y="299.11" width="31.00" height="16.77" fill="#40e0d0"/>
<text x="727.5" y="312.06" class="rl">MEturquoise</text>
<text x="748.60" y="310.71" class="bn">20766</text>
<rect x="767.30" y="299.11" width="41.41" height="16.57" fill="#80b1e6" stroke="#e2e2e2" stroke-width="0.6"/>
<rect x="808.71" y="299.11" width="41.41" height="16.57" fill="#d5e5f7" stroke="#e2e2e2" stroke-width="0.6"/>
<rect x="850.12" y="299.11" width="41.41" height="16.57" fill="#bfd8f2" stroke="#e2e2e2" stroke-width="0.6"/>
<rect x="891.53" y="299.11" width="41.41" height="16.57" fill="#f49c95" stroke="#e2e2e2" stroke-width="0.6"/>
<rect x="932.94" y="299.11" width="41.41" height="16.57" fill="#f6aca6" stroke="#e2e2e2" stroke-width="0.6"/>
<rect x="974.35" y="299.11" width="41.41" height="16.57" fill="#e2edf9" stroke="#e2e2e2" stroke-width="0.6"/>
<rect x="1015.76" y="299.11" width="41.41" height="16.57" fill="#fffefe" stroke="#e2e2e2" stroke-width="0.6"/>
<rect x="1057.17" y="299.11" width="41.41" height="16.57" fill="#f3f8fd" stroke="#e2e2e2" stroke-width="0.6"/>
<rect x="733.1" y="315.67" width="31.00" height="16.77" fill="#ffffff"/>
<text x="727.5" y="328.71" class="rl">MEwhite</text>
<text x="748.60" y="327.27" class="bn">69</text>
<rect x="767.30" y="315.67" width="41.41" height="16.57" fill="#6fa6e2" stroke="#e2e2e2" stroke-width="0.6"/>
<rect x="808.71" y="315.67" width="41.41" height="16.57" fill="#ea3f31" stroke="#e2e2e2" stroke-width="0.6"/>
<rect x="850.12" y="315.67" width="41.41" height="16.57" fill="#e82c1d" stroke="#e2e2e2" stroke-width="0.6"/>
<rect x="891.53" y="315.67" width="41.41" height="16.57" fill="#5798dd" stroke="#e2e2e2" stroke-width="0.6"/>
<rect x="932.94" y="315.67" width="41.41" height="16.57" fill="#2f7fd5" stroke="#e2e2e2" stroke-width="0.6"/>
<rect x="974.35" y="315.67" width="41.41" height="16.57" fill="#3885d7" stroke="#e2e2e2" stroke-width="0.6"/>
<rect x="1015.76" y="315.67" width="41.41" height="16.57" fill="#448cda" stroke="#e2e2e2" stroke-width="0.6"/>
<rect x="1057.17" y="315.67" width="41.41" height="16.57" fill="#81b2e6" stroke="#e2e2e2" stroke-width="0.6"/>
<rect x="733.1" y="332.24" width="31.00" height="16.77" fill="#006400"/>
<text x="727.5" y="345.36" class="rl">MEgreen</text>
<text x="748.60" y="343.84" class="bn">1029</text>
<rect x="767.30" y="332.24" width="41.41" height="16.57" fill="#1b73d1" stroke="#e2e2e2" stroke-width="0.6"/>
<rect x="808.71" y="332.24" width="41.41" height="16.57" fill="#ef6f65" stroke="#e2e2e2" stroke-width="0.6"/>
<rect x="850.12" y="332.24" width="41.41" height="16.57" fill="#ef6c61" stroke="#e2e2e2" stroke-width="0.6"/>
<rect x="891.53" y="332.24" width="41.41" height="16.57" fill="#b8d4f1" stroke="#e2e2e2" stroke-width="0.6"/>
<rect x="932.94" y="332.24" width="41.41" height="16.57" fill="#619ddf" stroke="#e2e2e2" stroke-width="0.6"/>
<rect x="974.35" y="332.24" width="41.41" height="16.57" fill="#5c9ade" stroke="#e2e2e2" stroke-width="0.6"/>
<rect x="1015.76" y="332.24" width="41.41" height="16.57" fill="#70a7e2" stroke="#e2e2e2" stroke-width="0.6"/>
<rect x="1057.17" y="332.24" width="41.41" height="16.57" fill="#bcd6f2" stroke="#e2e2e2" stroke-width="0.6"/>
<rect x="733.1" y="348.80" width="31.00" height="16.77" fill="#fa8072"/>
<text x="727.5" y="362.00" class="rl">MEsalmon</text>
<text x="748.60" y="360.40" class="bn">350</text>
<rect x="767.30" y="348.80" width="41.41" height="16.57" fill="#92bce9" stroke="#e2e2e2" stroke-width="0.6"/>
<rect x="808.71" y="348.80" width="41.41" height="16.57" fill="#ec5347" stroke="#e2e2e2" stroke-width="0.6"/>
<rect x="850.12" y="348.80" width="41.41" height="16.57" fill="#ea3e31" stroke="#e2e2e2" stroke-width="0.6"/>
<rect x="891.53" y="348.80" width="41.41" height="16.57" fill="#6da5e2" stroke="#e2e2e2" stroke-width="0.6"/>
<rect x="932.94" y="348.80" width="41.41" height="16.57" fill="#4b90db" stroke="#e2e2e2" stroke-width="0.6"/>
<rect x="974.35" y="348.80" width="41.41" height="16.57" fill="#6da5e2" stroke="#e2e2e2" stroke-width="0.6"/>
<rect x="1015.76" y="348.80" width="41.41" height="16.57" fill="#5697dd" stroke="#e2e2e2" stroke-width="0.6"/>
<rect x="1057.17" y="348.80" width="41.41" height="16.57" fill="#aacaee" stroke="#e2e2e2" stroke-width="0.6"/>
<rect x="733.1" y="365.37" width="31.00" height="16.77" fill="#a9a9a9"/>
<text x="727.5" y="378.65" class="rl">MEdarkgrey</text>
<text x="748.60" y="376.97" class="bn">103</text>
<rect x="767.30" y="365.37" width="41.41" height="16.57" fill="#82b2e6" stroke="#e2e2e2" stroke-width="0.6"/>
<rect x="808.71" y="365.37" width="41.41" height="16.57" fill="#fad3d0" stroke="#e2e2e2" stroke-width="0.6"/>
<rect x="850.12" y="365.37" width="41.41" height="16.57" fill="#f5a8a2" stroke="#e2e2e2" stroke-width="0.6"/>
<rect x="891.53" y="365.37" width="41.41" height="16.57" fill="#edf4fb" stroke="#e2e2e2" stroke-width="0.6"/>
<rect x="932.94" y="365.37" width="41.41" height="16.57" fill="#67a1e1" stroke="#e2e2e2" stroke-width="0.6"/>
<rect x="974.35" y="365.37" width="41.41" height="16.57" fill="#cfe1f5" stroke="#e2e2e2" stroke-width="0.6"/>
<rect x="1015.76" y="365.37" width="41.41" height="16.57" fill="#f8fbfe" stroke="#e2e2e2" stroke-width="0.6"/>
<rect x="1057.17" y="365.37" width="41.41" height="16.57" fill="#f7b7b2" stroke="#e2e2e2" stroke-width="0.6"/>
<rect x="733.1" y="381.93" width="31.00" height="16.77" fill="#00ced1"/>
<text x="727.5" y="395.29" class="rl">MEdarkturquoise</text>
<text x="748.60" y="393.53" class="bn">107</text>
<rect x="767.30" y="381.93" width="41.41" height="16.57" fill="#f6f9fd" stroke="#e2e2e2" stroke-width="0.6"/>
<rect x="808.71" y="381.93" width="41.41" height="16.57" fill="#c5dbf3" stroke="#e2e2e2" stroke-width="0.6"/>
<rect x="850.12" y="381.93" width="41.41" height="16.57" fill="#e8f1fa" stroke="#e2e2e2" stroke-width="0.6"/>
<rect x="891.53" y="381.93" width="41.41" height="16.57" fill="#f8c0bb" stroke="#e2e2e2" stroke-width="0.6"/>
<rect x="932.94" y="381.93" width="41.41" height="16.57" fill="#eaf2fb" stroke="#e2e2e2" stroke-width="0.6"/>
<rect x="974.35" y="381.93" width="41.41" height="16.57" fill="#f7b2ad" stroke="#e2e2e2" stroke-width="0.6"/>
<rect x="1015.76" y="381.93" width="41.41" height="16.57" fill="#f7b4af" stroke="#e2e2e2" stroke-width="0.6"/>
<rect x="1057.17" y="381.93" width="41.41" height="16.57" fill="#f0776e" stroke="#e2e2e2" stroke-width="0.6"/>
<rect x="733.1" y="398.50" width="31.00" height="16.77" fill="#ff8c00"/>
<text x="727.5" y="411.94" class="rl">MEdarkorange</text>
<text x="748.60" y="410.10" class="bn">76</text>
<rect x="767.30" y="398.50" width="41.41" height="16.57" fill="#4d92db" stroke="#e2e2e2" stroke-width="0.6"/>
<rect x="808.71" y="398.50" width="41.41" height="16.57" fill="#e0ecf9" stroke="#e2e2e2" stroke-width="0.6"/>
<rect x="850.12" y="398.50" width="41.41" height="16.57" fill="#eef4fc" stroke="#e2e2e2" stroke-width="0.6"/>
<rect x="891.53" y="398.50" width="41.41" height="16.57" fill="#f6aca6" stroke="#e2e2e2" stroke-width="0.6"/>
<rect x="932.94" y="398.50" width="41.41" height="16.57" fill="#cadff4" stroke="#e2e2e2" stroke-width="0.6"/>
<rect x="974.35" y="398.50" width="41.41" height="16.57" fill="#ffffff" stroke="#e2e2e2" stroke-width="0.6"/>
<rect x="1015.76" y="398.50" width="41.41" height="16.57" fill="#fbdbd8" stroke="#e2e2e2" stroke-width="0.6"/>
<rect x="1057.17" y="398.50" width="41.41" height="16.57" fill="#f6aaa4" stroke="#e2e2e2" stroke-width="0.6"/>
<rect x="733.1" y="415.06" width="31.00" height="16.77" fill="#ff00ff"/>
<text x="727.5" y="428.58" class="rl">MEmagenta</text>
<text x="748.60" y="426.66" class="bn">717</text>
<rect x="767.30" y="415.06" width="41.41" height="16.57" fill="#b8d3f1" stroke="#e2e2e2" stroke-width="0.6"/>
<rect x="808.71" y="415.06" width="41.41" height="16.57" fill="#e6f0fa" stroke="#e2e2e2" stroke-width="0.6"/>
<rect x="850.12" y="415.06" width="41.41" height="16.57" fill="#fef6f6" stroke="#e2e2e2" stroke-width="0.6"/>
<rect x="891.53" y="415.06" width="41.41" height="16.57" fill="#fad4d1" stroke="#e2e2e2" stroke-width="0.6"/>
<rect x="932.94" y="415.06" width="41.41" height="16.57" fill="#bed7f2" stroke="#e2e2e2" stroke-width="0.6"/>
<rect x="974.35" y="415.06" width="41.41" height="16.57" fill="#f6fafd" stroke="#e2e2e2" stroke-width="0.6"/>
<rect x="1015.76" y="415.06" width="41.41" height="16.57" fill="#fad4d1" stroke="#e2e2e2" stroke-width="0.6"/>
<rect x="1057.17" y="415.06" width="41.41" height="16.57" fill="#f7b6b1" stroke="#e2e2e2" stroke-width="0.6"/>
<rect x="733.1" y="431.63" width="31.00" height="16.77" fill="#adff2f"/>
<text x="727.5" y="445.23" class="rl">MEgreenyellow</text>
<text x="748.60" y="443.23" class="bn">567</text>
<rect x="767.30" y="431.63" width="41.41" height="16.57" fill="#5b9ade" stroke="#e2e2e2" stroke-width="0.6"/>
<rect x="808.71" y="431.63" width="41.41" height="16.57" fill="#c3daf3" stroke="#e2e2e2" stroke-width="0.6"/>
<rect x="850.12" y="431.63" width="41.41" height="16.57" fill="#cee1f5" stroke="#e2e2e2" stroke-width="0.6"/>
<rect x="891.53" y="431.63" width="41.41" height="16.57" fill="#f28981" stroke="#e2e2e2" stroke-width="0.6"/>
<rect x="932.94" y="431.63" width="41.41" height="16.57" fill="#fffffe" stroke="#e2e2e2" stroke-width="0.6"/>
<rect x="974.35" y="431.63" width="41.41" height="16.57" fill="#f3f8fd" stroke="#e2e2e2" stroke-width="0.6"/>
<rect x="1015.76" y="431.63" width="41.41" height="16.57" fill="#f9cac6" stroke="#e2e2e2" stroke-width="0.6"/>
<rect x="1057.17" y="431.63" width="41.41" height="16.57" fill="#f8bcb8" stroke="#e2e2e2" stroke-width="0.6"/>
<rect x="733.1" y="448.19" width="31.00" height="16.77" fill="#ffff00"/>
<text x="727.5" y="461.87" class="rl">MEyellow</text>
<text x="748.60" y="459.79" class="bn">1653</text>
<rect x="767.30" y="448.19" width="41.41" height="16.57" fill="#6fa6e2" stroke="#e2e2e2" stroke-width="0.6"/>
<rect x="808.71" y="448.19" width="41.41" height="16.57" fill="#b0ceef" stroke="#e2e2e2" stroke-width="0.6"/>
<rect x="850.12" y="448.19" width="41.41" height="16.57" fill="#c8ddf4" stroke="#e2e2e2" stroke-width="0.6"/>
<rect x="891.53" y="448.19" width="41.41" height="16.57" fill="#f1847b" stroke="#e2e2e2" stroke-width="0.6"/>
<rect x="932.94" y="448.19" width="41.41" height="16.57" fill="#c8ddf4" stroke="#e2e2e2" stroke-width="0.6"/>
<rect x="974.35" y="448.19" width="41.41" height="16.57" fill="#facecb" stroke="#e2e2e2" stroke-width="0.6"/>
<rect x="1015.76" y="448.19" width="41.41" height="16.57" fill="#f2867e" stroke="#e2e2e2" stroke-width="0.6"/>
<rect x="1057.17" y="448.19" width="41.41" height="16.57" fill="#ee6459" stroke="#e2e2e2" stroke-width="0.6"/>
<rect x="733.1" y="464.76" width="31.00" height="16.77" fill="#808080"/>
<text x="727.5" y="478.51" class="rl">MEgrey</text>
<text x="748.60" y="476.36" class="bn">875</text>
<rect x="767.30" y="464.76" width="41.41" height="16.57" fill="#b8d3f1" stroke="#e2e2e2" stroke-width="0.6"/>
<rect x="808.71" y="464.76" width="41.41" height="16.57" fill="#f3f7fd" stroke="#e2e2e2" stroke-width="0.6"/>
<rect x="850.12" y="464.76" width="41.41" height="16.57" fill="#fce5e3" stroke="#e2e2e2" stroke-width="0.6"/>
<rect x="891.53" y="464.76" width="41.41" height="16.57" fill="#fad5d2" stroke="#e2e2e2" stroke-width="0.6"/>
<rect x="932.94" y="464.76" width="41.41" height="16.57" fill="#c9def4" stroke="#e2e2e2" stroke-width="0.6"/>
<rect x="974.35" y="464.76" width="41.41" height="16.57" fill="#fce3e1" stroke="#e2e2e2" stroke-width="0.6"/>
<rect x="1015.76" y="464.76" width="41.41" height="16.57" fill="#fefafa" stroke="#e2e2e2" stroke-width="0.6"/>
<rect x="1057.17" y="464.76" width="41.41" height="16.57" fill="#f49e98" stroke="#e2e2e2" stroke-width="0.6"/>
<g class="ct">
<text x="788.00" y="24.80">-0.34</text><text x="788.00" y="33.00">(0.104)</text>
<text x="829.41" y="24.80">0.726</text><text x="829.41" y="33.00">(0.00006)</text>
<text x="870.82" y="24.80">0.767</text><text x="870.82" y="33.00">(0.00001)</text>
<text x="912.24" y="24.80">-0.702</text><text x="912.24" y="33.00">(0.00013)</text>
<text x="953.64" y="24.80">-0.84</text><text x="953.64" y="33.00">(0)</text>
<text x="995.05" y="24.80">-0.563</text><text x="995.05" y="33.00">(0.00418)</text>
<text x="1036.46" y="24.80">-0.574</text><text x="1036.46" y="33.00">(0.00336)</text>
<text x="1077.88" y="24.80">-0.363</text><text x="1077.88" y="33.00">(0.0813)</text>
<text x="788.00" y="41.36">0.119</text><text x="788.00" y="49.56">(0.58)</text>
<text x="829.41" y="41.36">0.374</text><text x="829.41" y="49.56">(0.0718)</text>
<text x="870.82" y="41.36">0.386</text><text x="870.82" y="49.56">(0.0625)</text>
<text x="912.24" y="41.36">-0.45</text><text x="912.24" y="49.56">(0.0274)</text>
<text x="953.64" y="41.36">-0.328</text><text x="953.64" y="49.56">(0.118)</text>
<text x="995.05" y="41.36">-0.203</text><text x="995.05" y="49.56">(0.341)</text>
<text x="1036.46" y="41.36">-0.363</text><text x="1036.46" y="49.56">(0.0813)</text>
<text x="1077.88" y="41.36">-0.305</text><text x="1077.88" y="49.56">(0.147)</text>
<text x="788.00" y="57.93">0.426</text><text x="788.00" y="66.13">(0.0379)</text>
<text x="829.41" y="57.93">0.243</text><text x="829.41" y="66.13">(0.253)</text>
<text x="870.82" y="57.93">0.337</text><text x="870.82" y="66.13">(0.107)</text>
<text x="912.24" y="57.93">-0.426</text><text x="912.24" y="66.13">(0.0379)</text>
<text x="953.64" y="57.93">-0.21</text><text x="953.64" y="66.13">(0.325)</text>
<text x="995.05" y="57.93">-0.202</text><text x="995.05" y="66.13">(0.344)</text>
<text x="1036.46" y="57.93">-0.282</text><text x="1036.46" y="66.13">(0.182)</text>
<text x="1077.88" y="57.93">-0.256</text><text x="1077.88" y="66.13">(0.227)</text>
<text x="788.00" y="74.50">0.464</text><text x="788.00" y="82.70">(0.0224)</text>
<text x="829.41" y="74.50">0.113</text><text x="829.41" y="82.70">(0.599)</text>
<text x="870.82" y="74.50">0.185</text><text x="870.82" y="82.70">(0.387)</text>
<text x="912.24" y="74.50">-0.321</text><text x="912.24" y="82.70">(0.126)</text>
<text x="953.64" y="74.50">-0.29</text><text x="953.64" y="82.70">(0.169)</text>
<text x="995.05" y="74.50">0.107</text><text x="995.05" y="82.70">(0.619)</text>
<text x="1036.46" y="74.50">0.0415</text><text x="1036.46" y="82.70">(0.847)</text>
<text x="1077.88" y="74.50">0.0543</text><text x="1077.88" y="82.70">(0.801)</text>
<text x="788.00" y="91.06">0.152</text><text x="788.00" y="99.26">(0.478)</text>
<text x="829.41" y="91.06">0.46</text><text x="829.41" y="99.26">(0.0237)</text>
<text x="870.82" y="91.06">0.564</text><text x="870.82" y="99.26">(0.0041)</text>
<text x="912.24" y="91.06">-0.583</text><text x="912.24" y="99.26">(0.00279)</text>
<text x="953.64" y="91.06">-0.6</text><text x="953.64" y="99.26">(0.00194)</text>
<text x="995.05" y="91.06">-0.275</text><text x="995.05" y="99.26">(0.193)</text>
<text x="1036.46" y="91.06">-0.349</text><text x="1036.46" y="99.26">(0.0946)</text>
<text x="1077.88" y="91.06">-0.186</text><text x="1077.88" y="99.26">(0.384)</text>
<text x="788.00" y="107.62">0.674</text><text x="788.00" y="115.83">(0.00031)</text>
<text x="829.41" y="107.62">-0.32</text><text x="829.41" y="115.83">(0.127)</text>
<text x="870.82" y="107.62">-0.28</text><text x="870.82" y="115.83">(0.185)</text>
<text x="912.24" y="107.62">0.0632</text><text x="912.24" y="115.83">(0.769)</text>
<text x="953.64" y="107.62">0.258</text><text x="953.64" y="115.83">(0.224)</text>
<text x="995.05" y="107.62">0.357</text><text x="995.05" y="115.83">(0.0868)</text>
<text x="1036.46" y="107.62">0.354</text><text x="1036.46" y="115.83">(0.0897)</text>
<text x="1077.88" y="107.62">0.206</text><text x="1077.88" y="115.83">(0.334)</text>
<text x="788.00" y="124.19">0.564</text><text x="788.00" y="132.39">(0.0041)</text>
<text x="829.41" y="124.19">-0.552</text><text x="829.41" y="132.39">(0.00516)</text>
<text x="870.82" y="124.19">-0.582</text><text x="870.82" y="132.39">(0.00285)</text>
<text x="912.24" y="124.19">0.39</text><text x="912.24" y="132.39">(0.0596)</text>
<text x="953.64" y="124.19">0.471</text><text x="953.64" y="132.39">(0.0202)</text>
<text x="995.05" y="124.19">0.657</text><text x="995.05" y="132.39">(0.00049)</text>
<text x="1036.46" y="124.19">0.621</text><text x="1036.46" y="132.39">(0.0012)</text>
<text x="1077.88" y="124.19">0.461</text><text x="1077.88" y="132.39">(0.0234)</text>
<text x="788.00" y="140.76">-0.103</text><text x="788.00" y="148.96">(0.632)</text>
<text x="829.41" y="140.76">-0.33</text><text x="829.41" y="148.96">(0.115)</text>
<text x="870.82" y="140.76">-0.305</text><text x="870.82" y="148.96">(0.147)</text>
<text x="912.24" y="140.76">0.41</text><text x="912.24" y="148.96">(0.0466)</text>
<text x="953.64" y="140.76">0.0848</text><text x="953.64" y="148.96">(0.694)</text>
<text x="995.05" y="140.76">0.21</text><text x="995.05" y="148.96">(0.325)</text>
<text x="1036.46" y="140.76">0.382</text><text x="1036.46" y="148.96">(0.0655)</text>
<text x="1077.88" y="140.76">0.318</text><text x="1077.88" y="148.96">(0.13)</text>
<text x="788.00" y="157.32">0.476</text><text x="788.00" y="165.52">(0.0187)</text>
<text x="829.41" y="157.32">-0.381</text><text x="829.41" y="165.52">(0.0662)</text>
<text x="870.82" y="157.32">-0.317</text><text x="870.82" y="165.52">(0.131)</text>
<text x="912.24" y="157.32">0.247</text><text x="912.24" y="165.52">(0.245)</text>
<text x="953.64" y="157.32">0.191</text><text x="953.64" y="165.52">(0.371)</text>
<text x="995.05" y="157.32">0.397</text><text x="995.05" y="165.52">(0.0547)</text>
<text x="1036.46" y="157.32">0.42</text><text x="1036.46" y="165.52">(0.041)</text>
<text x="1077.88" y="157.32">0.32</text><text x="1077.88" y="165.52">(0.127)</text>
<text x="788.00" y="173.89">0.124</text><text x="788.00" y="182.09">(0.564)</text>
<text x="829.41" y="173.89">-0.185</text><text x="829.41" y="182.09">(0.387)</text>
<text x="870.82" y="173.89">-0.0778</text><text x="870.82" y="182.09">(0.718)</text>
<text x="912.24" y="173.89">0.103</text><text x="912.24" y="182.09">(0.632)</text>
<text x="953.64" y="173.89">-0.25</text><text x="953.64" y="182.09">(0.239)</text>
<text x="995.05" y="173.89">0.293</text><text x="995.05" y="182.09">(0.165)</text>
<text x="1036.46" y="173.89">0.397</text><text x="1036.46" y="182.09">(0.0547)</text>
<text x="1077.88" y="173.89">0.467</text><text x="1077.88" y="182.09">(0.0214)</text>
<text x="788.00" y="190.45">-0.0655</text><text x="788.00" y="198.65">(0.761)</text>
<text x="829.41" y="190.45">-0.049</text><text x="829.41" y="198.65">(0.82)</text>
<text x="870.82" y="190.45">-0.116</text><text x="870.82" y="198.65">(0.589)</text>
<text x="912.24" y="190.45">0.139</text><text x="912.24" y="198.65">(0.517)</text>
<text x="953.64" y="190.45">0.205</text><text x="953.64" y="198.65">(0.337)</text>
<text x="995.05" y="190.45">0.141</text><text x="995.05" y="198.65">(0.511)</text>
<text x="1036.46" y="190.45">-0.0643</text><text x="1036.46" y="198.65">(0.765)</text>
<text x="1077.88" y="190.45">0.0191</text><text x="1077.88" y="198.65">(0.929)</text>
<text x="788.00" y="207.02">-0.285</text><text x="788.00" y="215.22">(0.177)</text>
<text x="829.41" y="207.02">-0.234</text><text x="829.41" y="215.22">(0.271)</text>
<text x="870.82" y="207.02">-0.2</text><text x="870.82" y="215.22">(0.349)</text>
<text x="912.24" y="207.02">0.338</text><text x="912.24" y="215.22">(0.106)</text>
<text x="953.64" y="207.02">-0.127</text><text x="953.64" y="215.22">(0.554)</text>
<text x="995.05" y="207.02">0.296</text><text x="995.05" y="215.22">(0.16)</text>
<text x="1036.46" y="207.02">0.367</text><text x="1036.46" y="215.22">(0.0777)</text>
<text x="1077.88" y="207.02">0.489</text><text x="1077.88" y="215.22">(0.0153)</text>
<text x="788.00" y="223.58">-0.152</text><text x="788.00" y="231.78">(0.478)</text>
<text x="829.41" y="223.58">-0.163</text><text x="829.41" y="231.78">(0.447)</text>
<text x="870.82" y="223.58">-0.202</text><text x="870.82" y="231.78">(0.344)</text>
<text x="912.24" y="223.58">0.287</text><text x="912.24" y="231.78">(0.174)</text>
<text x="953.64" y="223.58">0.144</text><text x="953.64" y="231.78">(0.502)</text>
<text x="995.05" y="223.58">0.103</text><text x="995.05" y="231.78">(0.632)</text>
<text x="1036.46" y="223.58">0.105</text><text x="1036.46" y="231.78">(0.625)</text>
<text x="1077.88" y="223.58">0.0892</text><text x="1077.88" y="231.78">(0.679)</text>
<text x="788.00" y="240.15">-0.0392</text><text x="788.00" y="248.35">(0.856)</text>
<text x="829.41" y="240.15">0.0026</text><text x="829.41" y="248.35">(0.99)</text>
<text x="870.82" y="240.15">0.043</text><text x="870.82" y="248.35">(0.842)</text>
<text x="912.24" y="240.15">-0.0214</text><text x="912.24" y="248.35">(0.921)</text>
<text x="953.64" y="240.15">0.051</text><text x="953.64" y="248.35">(0.813)</text>
<text x="995.05" y="240.15">-0.109</text><text x="995.05" y="248.35">(0.612)</text>
<text x="1036.46" y="240.15">-0.0763</text><text x="1036.46" y="248.35">(0.723)</text>
<text x="1077.88" y="240.15">-0.0912</text><text x="1077.88" y="248.35">(0.672)</text>
<text x="788.00" y="256.71">-0.185</text><text x="788.00" y="264.91">(0.387)</text>
<text x="829.41" y="256.71">0.00684</text><text x="829.41" y="264.91">(0.975)</text>
<text x="870.82" y="256.71">-0.0222</text><text x="870.82" y="264.91">(0.918)</text>
<text x="912.24" y="256.71">0.115</text><text x="912.24" y="264.91">(0.593)</text>
<text x="953.64" y="256.71">0.0816</text><text x="953.64" y="264.91">(0.705)</text>
<text x="995.05" y="256.71">-0.142</text><text x="995.05" y="264.91">(0.508)</text>
<text x="1036.46" y="256.71">-0.0744</text><text x="1036.46" y="264.91">(0.73)</text>
<text x="1077.88" y="256.71">-0.114</text><text x="1077.88" y="264.91">(0.596)</text>
<text x="788.00" y="273.28">0.065</text><text x="788.00" y="281.48">(0.763)</text>
<text x="829.41" y="273.28">-0.246</text><text x="829.41" y="281.48">(0.247)</text>
<text x="870.82" y="273.28">-0.23</text><text x="870.82" y="281.48">(0.28)</text>
<text x="912.24" y="273.28">0.277</text><text x="912.24" y="281.48">(0.19)</text>
<text x="953.64" y="273.28">0.313</text><text x="953.64" y="281.48">(0.136)</text>
<text x="995.05" y="273.28">0.0625</text><text x="995.05" y="281.48">(0.772)</text>
<text x="1036.46" y="273.28">0.0736</text><text x="1036.46" y="281.48">(0.733)</text>
<text x="1077.88" y="273.28">-0.00412</text><text x="1077.88" y="281.48">(0.985)</text>
<text x="788.00" y="289.84">0.0437</text><text x="788.00" y="298.04">(0.839)</text>
<text x="829.41" y="289.84">0.228</text><text x="829.41" y="298.04">(0.284)</text>
<text x="870.82" y="289.84">0.118</text><text x="870.82" y="298.04">(0.583)</text>
<text x="912.24" y="289.84">-0.204</text><text x="912.24" y="298.04">(0.339)</text>
<text x="953.64" y="289.84">0.26</text><text x="953.64" y="298.04">(0.22)</text>
<text x="995.05" y="289.84">-0.328</text><text x="995.05" y="298.04">(0.118)</text>
<text x="1036.46" y="289.84">-0.458</text><text x="1036.46" y="298.04">(0.0244)</text>
<text x="1077.88" y="289.84">-0.544</text><text x="1077.88" y="298.04">(0.006)</text>
<text x="788.00" y="306.41">-0.448</text><text x="788.00" y="314.61">(0.0281)</text>
<text x="829.41" y="306.41">-0.149</text><text x="829.41" y="314.61">(0.487)</text>
<text x="870.82" y="306.41">-0.225</text><text x="870.82" y="314.61">(0.29)</text>
<text x="912.24" y="306.41">0.352</text><text x="912.24" y="314.61">(0.0916)</text>
<text x="953.64" y="306.41">0.294</text><text x="953.64" y="314.61">(0.163)</text>
<text x="995.05" y="306.41">-0.104</text><text x="995.05" y="314.61">(0.629)</text>
<text x="1036.46" y="306.41">0.00472</text><text x="1036.46" y="314.61">(0.983)</text>
<text x="1077.88" y="306.41">-0.0417</text><text x="1077.88" y="314.61">(0.847)</text>
<text x="788.00" y="322.97">-0.509</text><text x="788.00" y="331.17">(0.0111)</text>
<text x="829.41" y="322.97">0.68</text><text x="829.41" y="331.17">(0.00026)</text>
<text x="870.82" y="322.97">0.746</text><text x="870.82" y="331.17">(0.00003)</text>
<text x="912.24" y="322.97">-0.593</text><text x="912.24" y="331.17">(0.00226)</text>
<text x="953.64" y="322.97">-0.733</text><text x="953.64" y="331.17">(0.00005)</text>
<text x="995.05" y="322.97">-0.701</text><text x="995.05" y="331.17">(0.00014)</text>
<text x="1036.46" y="322.97">-0.66</text><text x="1036.46" y="331.17">(0.00045)</text>
<text x="1077.88" y="322.97">-0.444</text><text x="1077.88" y="331.17">(0.0297)</text>
<text x="788.00" y="339.54">-0.804</text><text x="788.00" y="347.74">(0)</text>
<text x="829.41" y="339.54">0.51</text><text x="829.41" y="347.74">(0.0109)</text>
<text x="870.82" y="339.54">0.522</text><text x="870.82" y="347.74">(0.00889)</text>
<text x="912.24" y="339.54">-0.249</text><text x="912.24" y="347.74">(0.241)</text>
<text x="953.64" y="339.54">-0.559</text><text x="953.64" y="347.74">(0.00452)</text>
<text x="995.05" y="339.54">-0.577</text><text x="995.05" y="347.74">(0.00316)</text>
<text x="1036.46" y="339.54">-0.503</text><text x="1036.46" y="347.74">(0.0122)</text>
<text x="1077.88" y="339.54">-0.235</text><text x="1077.88" y="347.74">(0.269)</text>
<text x="788.00" y="356.10">-0.383</text><text x="788.00" y="364.30">(0.0647)</text>
<text x="829.41" y="356.10">0.609</text><text x="829.41" y="364.30">(0.00159)</text>
<text x="870.82" y="356.10">0.682</text><text x="870.82" y="364.30">(0.00024)</text>
<text x="912.24" y="356.10">-0.516</text><text x="912.24" y="364.30">(0.00985)</text>
<text x="953.64" y="356.10">-0.637</text><text x="953.64" y="364.30">(0.00082)</text>
<text x="995.05" y="356.10">-0.514</text><text x="995.05" y="364.30">(0.0102)</text>
<text x="1036.46" y="356.10">-0.597</text><text x="1036.46" y="364.30">(0.00207)</text>
<text x="1077.88" y="356.10">-0.301</text><text x="1077.88" y="364.30">(0.153)</text>
<text x="788.00" y="372.67">-0.44</text><text x="788.00" y="380.87">(0.0314)</text>
<text x="829.41" y="372.67">0.155</text><text x="829.41" y="380.87">(0.47)</text>
<text x="870.82" y="372.67">0.307</text><text x="870.82" y="380.87">(0.145)</text>
<text x="912.24" y="372.67">-0.0625</text><text x="912.24" y="380.87">(0.772)</text>
<text x="953.64" y="372.67">-0.536</text><text x="953.64" y="380.87">(0.00694)</text>
<text x="995.05" y="372.67">-0.17</text><text x="995.05" y="380.87">(0.427)</text>
<text x="1036.46" y="372.67">-0.0251</text><text x="1036.46" y="380.87">(0.907)</text>
<text x="1077.88" y="372.67">0.255</text><text x="1077.88" y="380.87">(0.229)</text>
<text x="788.00" y="389.23">-0.0333</text><text x="788.00" y="397.43">(0.877)</text>
<text x="829.41" y="389.23">-0.204</text><text x="829.41" y="397.43">(0.339)</text>
<text x="870.82" y="389.23">-0.0821</text><text x="870.82" y="397.43">(0.703)</text>
<text x="912.24" y="389.23">0.224</text><text x="912.24" y="397.43">(0.293)</text>
<text x="953.64" y="389.23">-0.0753</text><text x="953.64" y="397.43">(0.727)</text>
<text x="995.05" y="389.23">0.271</text><text x="995.05" y="397.43">(0.2)</text>
<text x="1036.46" y="389.23">0.265</text><text x="1036.46" y="397.43">(0.211)</text>
<text x="1077.88" y="389.23">0.48</text><text x="1077.88" y="397.43">(0.0176)</text>
<text x="788.00" y="405.80">-0.627</text><text x="788.00" y="414.00">(0.00104)</text>
<text x="829.41" y="405.80">-0.11</text><text x="829.41" y="414.00">(0.609)</text>
<text x="870.82" y="405.80">-0.0613</text><text x="870.82" y="414.00">(0.776)</text>
<text x="912.24" y="405.80">0.294</text><text x="912.24" y="414.00">(0.163)</text>
<text x="953.64" y="405.80">-0.186</text><text x="953.64" y="414.00">(0.384)</text>
<text x="995.05" y="405.80">-0.00033</text><text x="995.05" y="414.00">(0.999)</text>
<text x="1036.46" y="405.80">0.129</text><text x="1036.46" y="414.00">(0.548)</text>
<text x="1077.88" y="405.80">0.301</text><text x="1077.88" y="414.00">(0.153)</text>
<text x="788.00" y="422.36">-0.252</text><text x="788.00" y="430.56">(0.235)</text>
<text x="829.41" y="422.36">-0.0886</text><text x="829.41" y="430.56">(0.681)</text>
<text x="870.82" y="422.36">0.0304</text><text x="870.82" y="430.56">(0.888)</text>
<text x="912.24" y="422.36">0.151</text><text x="912.24" y="430.56">(0.481)</text>
<text x="953.64" y="422.36">-0.229</text><text x="953.64" y="430.56">(0.282)</text>
<text x="995.05" y="422.36">-0.0312</text><text x="995.05" y="430.56">(0.885)</text>
<text x="1036.46" y="422.36">0.152</text><text x="1036.46" y="430.56">(0.478)</text>
<text x="1077.88" y="422.36">0.257</text><text x="1077.88" y="430.56">(0.225)</text>
<text x="788.00" y="438.93">-0.579</text><text x="788.00" y="447.13">(0.00303)</text>
<text x="829.41" y="438.93">-0.212</text><text x="829.41" y="447.13">(0.32)</text>
<text x="870.82" y="438.93">-0.172</text><text x="870.82" y="447.13">(0.422)</text>
<text x="912.24" y="438.93">0.418</text><text x="912.24" y="447.13">(0.0421)</text>
<text x="953.64" y="438.93">0.00167</text><text x="953.64" y="447.13">(0.994)</text>
<text x="995.05" y="438.93">-0.0414</text><text x="995.05" y="447.13">(0.848)</text>
<text x="1036.46" y="438.93">0.189</text><text x="1036.46" y="447.13">(0.376)</text>
<text x="1077.88" y="438.93">0.236</text><text x="1077.88" y="447.13">(0.267)</text>
<text x="788.00" y="455.49">-0.509</text><text x="788.00" y="463.69">(0.0111)</text>
<text x="829.41" y="455.49">-0.279</text><text x="829.41" y="463.69">(0.187)</text>
<text x="870.82" y="455.49">-0.193</text><text x="870.82" y="463.69">(0.366)</text>
<text x="912.24" y="455.49">0.435</text><text x="912.24" y="463.69">(0.0336)</text>
<text x="953.64" y="455.49">-0.193</text><text x="953.64" y="463.69">(0.366)</text>
<text x="995.05" y="455.49">0.173</text><text x="995.05" y="463.69">(0.419)</text>
<text x="1036.46" y="455.49">0.427</text><text x="1036.46" y="463.69">(0.0374)</text>
<text x="1077.88" y="455.49">0.548</text><text x="1077.88" y="463.69">(0.00557)</text>
<text x="788.00" y="472.06">-0.25</text><text x="788.00" y="480.26">(0.239)</text>
<text x="829.41" y="472.06">-0.043</text><text x="829.41" y="480.26">(0.842)</text>
<text x="870.82" y="472.06">0.0935</text><text x="870.82" y="480.26">(0.664)</text>
<text x="912.24" y="472.06">0.148</text><text x="912.24" y="480.26">(0.49)</text>
<text x="953.64" y="472.06">-0.191</text><text x="953.64" y="480.26">(0.371)</text>
<text x="995.05" y="472.06">0.0978</text><text x="995.05" y="480.26">(0.649)</text>
<text x="1036.46" y="472.06">0.016</text><text x="1036.46" y="480.26">(0.941)</text>
<text x="1077.88" y="472.06">0.342</text><text x="1077.88" y="480.26">(0.102)</text>
</g>
<text transform="translate(792.00,492) rotate(-60)" class="cl">ZA</text>
<text transform="translate(833.41,492) rotate(-60)" class="cl">GA3</text>
<text transform="translate(874.82,492) rotate(-60)" class="cl">IAA</text>
<text transform="translate(916.24,492) rotate(-60)" class="cl">ABA</text>
<text transform="translate(957.64,492) rotate(-60)" class="cl">Lig</text>
<text transform="translate(999.05,492) rotate(-60)" class="cl">PG</text>
<text transform="translate(1040.46,492) rotate(-60)" class="cl">CE</text>
<text transform="translate(1081.88,492) rotate(-60)" class="cl">SHT</text>
<defs><linearGradient id="lg" x1="0" y1="0" x2="0" y2="1">
<stop offset="0.000" stop-color="#e61d0d"/>
<stop offset="0.050" stop-color="#e83223"/>
<stop offset="0.100" stop-color="#eb4c3f"/>
<stop offset="0.150" stop-color="#ee655a"/>
<stop offset="0.200" stop-color="#f17f76"/>
<stop offset="0.250" stop-color="#f49991"/>
<stop offset="0.300" stop-color="#f7b2ad"/>
<stop offset="0.350" stop-color="#f9ccc8"/>
<stop offset="0.400" stop-color="#fce6e4"/>
<stop offset="0.450" stop-color="#ffffff"/>
<stop offset="0.500" stop-color="#e5effa"/>
<stop offset="0.550" stop-color="#cbdff5"/>
<stop offset="0.600" stop-color="#b2cff0"/>
<stop offset="0.650" stop-color="#98bfea"/>
<stop offset="0.700" stop-color="#7eb0e5"/>
<stop offset="0.750" stop-color="#64a0e0"/>
<stop offset="0.800" stop-color="#4b90db"/>
<stop offset="0.850" stop-color="#3180d6"/>
<stop offset="0.900" stop-color="#1770d1"/>
<stop offset="0.950" stop-color="#0062cc"/>
<stop offset="1.000" stop-color="#0062cc"/>
</linearGradient></defs>
<rect x="1106.5" y="17" width="15" height="76.1" fill="url(#lg)"/>
<line x1="1122.5" x2="1124.5" y1="29.8" y2="29.8" stroke="#888" stroke-width="0.6"/>
<text x="1126.3" y="32.8" class="lgt">0.5</text>
<line x1="1122.5" x2="1124.5" y1="50.6" y2="50.6" stroke="#888" stroke-width="0.6"/>
<text x="1126.3" y="53.6" class="lgt">0</text>
<line x1="1122.5" x2="1124.5" y1="72.2" y2="72.2" stroke="#888" stroke-width="0.6"/>
<text x="1126.3" y="75.2" class="lgt">-0.5</text>
<line x1="1122.5" x2="1124.5" y1="93.1" y2="93.1" stroke="#888" stroke-width="0.6"/>
<text x="1126.3" y="96.1" class="lgt">-1</text>
</g>
<g id="pc">
<text x="11.8" y="592.6" class="lab" style="font-size:26px">c</text>
<text x="311" y="607.3" class="ct1">Module membership vs. gene significance (cor=-0.84, p&lt;2.84E-7)</text>
<path d="M57,620.5 V883.6 H551.3" fill="none" stroke="#333" stroke-width="1.2"/>
<line x1="53" x2="57" y1="867.60" y2="867.60" stroke="#333" stroke-width="1"/>
<text x="48.5" y="870.80" class="cy">0</text>
<line x1="53" x2="57" y1="843.20" y2="843.20" stroke="#333" stroke-width="1"/>
<text x="48.5" y="846.40" class="cy">0.1</text>
<line x1="53" x2="57" y1="818.80" y2="818.80" stroke="#333" stroke-width="1"/>
<text x="48.5" y="822.00" class="cy">0.2</text>
<line x1="53" x2="57" y1="794.40" y2="794.40" stroke="#333" stroke-width="1"/>
<text x="48.5" y="797.60" class="cy">0.3</text>
<line x1="53" x2="57" y1="770.00" y2="770.00" stroke="#333" stroke-width="1"/>
<text x="48.5" y="773.20" class="cy">0.4</text>
<line x1="53" x2="57" y1="745.60" y2="745.60" stroke="#333" stroke-width="1"/>
<text x="48.5" y="748.80" class="cy">0.5</text>
<line x1="53" x2="57" y1="721.20" y2="721.20" stroke="#333" stroke-width="1"/>
<text x="48.5" y="724.40" class="cy">0.6</text>
<line x1="53" x2="57" y1="696.80" y2="696.80" stroke="#333" stroke-width="1"/>
<text x="48.5" y="700.00" class="cy">0.7</text>
<line x1="53" x2="57" y1="672.40" y2="672.40" stroke="#333" stroke-width="1"/>
<text x="48.5" y="675.60" class="cy">0.8</text>
<line x1="53" x2="57" y1="648.00" y2="648.00" stroke="#333" stroke-width="1"/>
<text x="48.5" y="651.20" class="cy">0.9</text>
<line x1="53" x2="57" y1="623.60" y2="623.60" stroke="#333" stroke-width="1"/>
<text x="48.5" y="626.80" class="cy">1</text>
<line x1="72.80" x2="72.80" y1="883.6" y2="887.5" stroke="#333" stroke-width="1"/>
<text x="72.80" y="896.5" class="cx">0.2</text>
<line x1="130.80" x2="130.80" y1="883.6" y2="887.5" stroke="#333" stroke-width="1"/>
<text x="130.80" y="896.5" class="cx">0.3</text>
<line x1="188.80" x2="188.80" y1="883.6" y2="887.5" stroke="#333" stroke-width="1"/>
<text x="188.80" y="896.5" class="cx">0.4</text>
<line x1="246.80" x2="246.80" y1="883.6" y2="887.5" stroke="#333" stroke-width="1"/>
<text x="246.80" y="896.5" class="cx">0.5</text>
<line x1="304.80" x2="304.80" y1="883.6" y2="887.5" stroke="#333" stroke-width="1"/>
<text x="304.80" y="896.5" class="cx">0.6</text>
<line x1="362.80" x2="362.80" y1="883.6" y2="887.5" stroke="#333" stroke-width="1"/>
<text x="362.80" y="896.5" class="cx">0.7</text>
<line x1="420.80" x2="420.80" y1="883.6" y2="887.5" stroke="#333" stroke-width="1"/>
<text x="420.80" y="896.5" class="cx">0.8</text>
<line x1="478.80" x2="478.80" y1="883.6" y2="887.5" stroke="#333" stroke-width="1"/>
<text x="478.80" y="896.5" class="cx">0.9</text>
<line x1="536.80" x2="536.80" y1="883.6" y2="887.5" stroke="#333" stroke-width="1"/>
<text x="536.80" y="896.5" class="cx">1</text>
<text x="303.6" y="910.6" class="cxl">Module Membership in black module</text>
<text transform="translate(25.8,746.3) rotate(-90)" class="cyl">Gene significance for Lig</text>
<path d="M98.4,766.4h0M95.2,807.5h0M118.0,772.6h0M129.7,761.7h0M137.0,741.8h0M139.5,754.0h0M148.0,753.0h0M121.3,799.3h0M130.1,808.7h0M128.0,822.6h0M107.7,849.8h0M120.9,863.7h0M136.6,864.4h0M141.7,797.5h0M145.1,776.7h0M139.2,838.0h0M144.0,836.9h0M146.9,851.0h0M148.3,825.1h0M148.8,806.3h0M153.2,805.3h0M151.7,793.6h0M153.5,787.3h0M151.0,774.0h0M156.1,775.2h0M158.6,770.1h0M155.7,821.4h0M156.1,799.4h0M159.0,812.6h0M159.8,814.8h0M162.7,757.9h0M164.2,798.7h0M164.5,847.9h0M168.3,774.9h0M168.3,816.3h0M170.0,809.0h0M169.8,832.2h0M171.8,863.7h0M173.0,750.3h0M173.0,786.7h0M175.2,785.5h0M174.5,826.6h0M177.4,822.9h0M176.7,850.1h0M177.4,833.9h0M181.0,832.5h0M176.0,803.1h0M177.4,807.5h0M178.1,816.3h0M179.6,857.4h0M178.9,768.6h0M179.6,798.0h0M181.0,754.7h0M181.8,778.9h0M186.2,766.4h0M191.3,765.7h0M193.5,766.7h0M186.2,824.4h0M186.9,803.1h0M191.3,816.0h0M192.1,776.0h0M192.1,798.7h0M184.7,790.6h0M189.1,788.4h0M190.6,792.1h0M196.5,790.6h0M198.0,783.3h0M204.4,699.0h0M195.1,715.0h0M171.0,729.0h0M177.3,728.3h0M171.2,735.5h0M200.3,732.8h0M197.9,738.3h0M151.0,737.4h0M137.4,741.5h0M205.7,747.8h0M316.7,674.5h0M306.6,684.9h0M255.4,684.0h0M275.8,682.7h0M255.4,694.1h0M296.8,695.7h0M271.2,703.1h0M309.9,701.7h0M289.5,704.5h0M318.1,693.6h0M231.4,709.9h0M246.4,711.3h0M256.2,713.2h0M262.2,716.7h0M288.1,715.4h0M270.7,719.5h0M294.9,718.1h0M311.3,712.6h0M316.7,715.4h0M237.7,726.3h0M278.6,724.9h0M258.9,730.9h0M295.7,723.0h0M315.3,729.0h0M304.4,731.7h0M240.7,738.5h0M251.3,739.1h0M264.1,739.1h0M284.0,739.3h0M291.6,737.7h0M301.7,736.6h0M314.0,737.2h0M224.1,744.0h0M229.5,742.1h0M233.6,741.3h0M271.7,742.6h0M276.6,745.3h0M293.5,743.2h0M238.5,748.1h0M246.7,747.5h0M255.4,749.4h0M261.4,748.1h0M279.9,749.4h0M286.7,746.7h0M304.4,745.3h0M318.1,741.3h0M214.5,754.9h0M220.5,754.3h0M240.4,757.6h0M252.7,757.6h0M259.5,754.9h0M265.7,759.0h0M273.1,753.5h0M278.6,752.2h0M296.3,753.5h0M300.4,754.1h0M309.9,757.6h0M314.0,750.8h0M217.2,760.3h0M258.1,761.7h0M279.9,761.7h0M303.1,761.7h0M220.0,764.4h0M209.6,768.5h0M225.4,769.3h0M254.9,771.2h0M262.2,768.5h0M273.1,771.2h0M290.3,771.2h0M304.4,767.1h0M318.1,768.5h0M203.6,775.3h0M209.1,776.7h0M222.7,778.0h0M240.4,776.7h0M247.2,774.0h0M259.5,776.7h0M266.3,779.4h0M294.9,776.7h0M301.7,776.7h0M307.2,776.7h0M316.7,776.7h0M228.1,784.9h0M236.3,783.5h0M248.6,782.1h0M255.4,783.5h0M261.4,780.8h0M294.9,783.5h0M303.9,783.5h0M202.3,790.3h0M210.4,790.3h0M217.2,790.3h0M224.1,788.9h0M232.2,791.7h0M239.0,790.3h0M247.2,791.7h0M254.0,793.0h0M262.2,791.7h0M274.5,790.3h0M282.6,791.7h0M293.0,793.0h0M300.4,796.6h0M318.1,794.4h0M203.6,802.6h0M213.2,801.2h0M245.9,799.8h0M237.7,806.6h0M244.5,808.0h0M289.5,803.9h0M270.4,812.1h0M299.0,810.7h0M205.0,810.7h0M218.6,814.0h0M232.2,812.9h0M218.6,818.4h0M244.5,817.5h0M228.1,821.1h0M236.3,828.4h0M255.4,823.0h0M264.9,821.6h0M211.8,827.6h0M247.2,833.1h0M220.8,852.2h0M281.2,771.8h0M298.9,783.4h0M293.3,782.7h0M220.2,760.4h0M314.2,761.6h0M309.8,725.6h0M265.4,740.0h0M273.1,761.4h0M218.6,743.6h0M246.0,788.0h0M295.9,730.4h0M299.1,728.6h0M280.7,730.0h0M217.4,788.3h0M238.8,741.1h0M318.2,776.3h0M247.0,790.9h0M272.6,768.5h0M238.3,790.6h0M288.2,786.3h0M309.1,738.3h0M254.4,735.8h0M232.2,731.6h0M248.2,766.4h0M217.6,775.1h0M252.0,745.9h0M301.3,751.7h0M249.7,757.9h0M320.5,681.0h0M322.1,676.0h0M322.7,779.5h0M322.7,772.3h0M322.9,745.8h0M322.9,678.7h0M323.0,793.3h0M323.1,768.1h0M324.3,791.2h0M324.5,717.0h0M324.8,770.0h0M324.8,766.5h0M325.5,780.3h0M325.6,791.2h0M325.6,714.8h0M326.0,787.5h0M326.2,788.2h0M326.5,710.9h0M326.7,693.7h0M326.7,690.1h0M327.2,797.0h0M327.3,677.2h0M329.2,737.8h0M329.4,700.2h0M329.8,774.6h0M330.1,723.3h0M330.1,785.8h0M330.1,732.4h0M330.9,686.2h0M331.5,789.6h0M331.9,769.0h0M332.0,724.2h0M332.0,776.1h0M332.2,726.5h0M335.3,775.9h0M337.0,724.7h0M337.3,759.6h0M337.5,703.9h0M337.8,685.5h0M338.0,792.0h0M339.4,745.5h0M339.7,708.9h0M339.7,700.5h0M340.4,775.4h0M340.6,765.0h0M341.2,753.1h0M341.7,761.1h0M341.9,754.0h0M342.0,726.4h0M342.7,751.9h0M342.8,783.9h0M343.3,737.8h0M343.3,733.5h0M343.4,749.1h0M343.7,767.2h0M344.1,764.6h0M344.3,745.2h0M344.9,768.0h0M345.1,769.8h0M346.0,749.9h0M347.6,782.7h0M347.9,729.1h0M348.0,767.5h0M349.2,721.9h0M349.7,752.0h0M350.3,683.3h0M350.9,734.0h0M351.4,713.9h0M351.8,757.7h0M352.3,750.7h0M352.3,681.0h0M352.5,741.8h0M352.6,746.3h0M353.1,666.0h0M353.4,688.8h0M353.4,677.2h0M353.5,683.1h0M353.6,665.0h0M353.9,707.7h0M354.3,733.5h0M354.4,772.3h0M354.4,710.5h0M354.6,711.0h0M354.6,763.3h0M354.8,664.5h0M355.3,671.7h0M355.6,701.8h0M356.0,778.3h0M356.7,711.2h0M357.4,738.4h0M357.6,676.5h0M358.0,728.4h0M359.4,777.6h0M359.8,701.3h0M360.8,658.2h0M360.8,727.5h0M361.3,675.3h0M361.7,767.0h0M361.9,710.8h0M362.0,693.7h0M363.6,704.3h0M365.0,768.3h0M365.4,689.7h0M367.1,717.8h0M367.3,696.7h0M369.1,716.9h0M369.3,715.2h0M369.3,732.2h0M369.6,693.5h0M370.3,756.2h0M370.3,721.6h0M370.4,768.9h0M371.1,687.8h0M371.2,677.2h0M373.2,693.3h0M373.6,714.3h0M374.0,729.2h0M374.6,673.0h0M375.2,694.0h0M375.6,698.1h0M375.7,720.4h0M376.0,700.9h0M376.6,727.2h0M376.6,688.4h0M376.9,764.4h0M377.8,721.8h0M377.8,748.3h0M378.1,725.2h0M378.6,731.5h0M378.9,763.1h0M379.1,704.2h0M379.9,682.0h0M380.1,753.5h0M380.1,754.2h0M380.6,708.6h0M380.8,747.8h0M381.8,676.0h0M382.1,721.5h0M382.4,697.0h0M382.5,725.5h0M383.2,667.8h0M383.3,751.3h0M384.0,733.8h0M384.0,740.4h0M385.7,770.3h0M386.2,665.8h0M387.0,684.5h0M387.5,764.6h0M388.0,675.3h0M388.1,760.6h0M388.2,727.1h0M388.4,678.2h0M388.9,665.4h0M388.9,701.8h0M389.0,666.9h0M389.3,741.1h0M390.2,675.3h0M390.5,694.7h0M390.9,713.5h0M392.1,701.0h0M392.1,735.5h0M392.2,728.4h0M392.5,758.0h0M392.9,727.0h0M393.0,719.6h0M393.1,740.6h0M393.4,675.2h0M393.5,700.3h0M394.1,680.0h0M394.7,729.6h0M394.7,730.9h0M394.7,674.2h0M395.1,686.0h0M396.1,710.8h0M396.2,743.2h0M396.2,735.9h0M396.3,676.9h0M397.6,730.6h0M397.7,673.3h0M399.3,728.0h0M400.0,675.6h0M400.3,696.7h0M400.4,694.6h0M400.8,696.0h0M400.9,675.2h0M401.5,725.0h0M402.1,703.9h0M402.8,711.7h0M403.1,716.8h0M403.5,698.7h0M403.6,663.3h0M403.6,663.7h0M404.4,705.3h0M404.9,655.7h0M405.1,745.7h0M405.5,698.0h0M405.7,663.5h0M405.7,669.5h0M405.9,692.7h0M406.6,666.2h0M406.7,679.4h0M406.8,680.3h0M406.9,701.1h0M406.9,748.8h0M407.0,750.2h0M407.4,721.1h0M407.7,750.8h0M407.7,720.2h0M407.8,720.7h0M408.3,662.8h0M408.4,647.0h0M408.4,652.7h0M408.6,753.8h0M408.8,678.3h0M409.0,674.5h0M409.5,724.4h0M409.5,669.6h0M409.9,749.9h0M410.3,691.3h0M411.5,642.3h0M411.6,731.3h0M411.7,646.8h0M412.0,755.5h0M412.3,681.8h0M412.3,649.7h0M413.1,698.0h0M414.0,647.4h0M414.1,647.0h0M414.3,648.1h0M414.4,688.2h0M414.5,647.1h0M414.5,753.3h0M414.6,699.9h0M414.8,702.5h0M414.8,677.4h0M414.9,703.7h0M415.7,710.1h0M416.4,665.7h0M416.4,703.3h0M416.6,707.0h0M416.8,713.2h0M417.3,746.5h0M417.4,692.7h0M418.0,666.6h0M418.0,676.7h0M418.1,730.1h0M418.6,676.8h0M418.7,650.0h0M418.8,650.3h0M419.0,707.4h0M419.1,647.6h0M419.5,646.0h0M419.6,673.6h0M419.7,651.8h0M419.9,676.8h0M420.4,704.8h0M421.2,716.2h0M421.7,706.9h0M421.9,735.0h0M422.2,751.1h0M422.7,721.6h0M422.8,734.5h0M423.0,655.3h0M423.0,659.9h0M423.1,718.7h0M423.2,647.6h0M423.7,705.0h0M423.7,646.2h0M423.8,681.8h0M424.4,750.4h0M424.8,667.3h0M425.0,682.5h0M425.1,642.1h0M425.4,736.2h0M425.9,651.8h0M426.1,660.6h0M426.5,692.4h0M427.5,732.5h0M427.5,677.6h0M428.4,694.2h0M428.6,692.0h0M429.1,748.8h0M429.4,752.6h0M429.7,653.4h0M430.3,689.6h0M430.3,753.5h0M430.3,707.7h0M430.5,742.5h0M430.7,666.4h0M430.8,664.7h0M431.1,682.6h0M431.6,669.5h0M431.7,670.3h0M433.1,736.5h0M433.8,710.9h0M433.9,657.9h0M434.5,696.1h0M434.6,660.7h0M434.6,721.2h0M435.4,663.8h0M435.9,677.1h0M436.3,735.1h0M436.7,727.9h0M436.8,643.1h0M437.1,704.6h0M437.2,683.5h0M437.3,644.9h0M437.4,682.7h0M437.6,716.5h0M437.8,745.8h0M438.4,738.9h0M438.8,711.9h0M439.1,725.0h0M439.2,703.7h0M439.6,696.2h0M439.7,650.1h0M439.8,678.9h0M440.1,720.8h0M440.3,673.8h0M440.9,670.4h0M441.1,649.4h0M441.4,711.2h0M442.1,734.5h0M442.3,728.3h0M442.6,704.9h0M442.7,695.2h0M443.1,666.6h0M443.9,697.8h0M444.0,642.3h0M444.1,660.2h0M444.3,734.1h0M444.8,704.7h0M444.9,653.1h0M445.2,698.5h0M445.4,680.2h0M445.9,663.7h0M446.0,669.3h0M446.2,733.3h0M446.2,706.4h0M446.5,664.8h0M446.5,699.5h0M446.9,731.2h0M447.2,684.3h0M447.3,695.6h0M447.8,672.6h0M447.8,703.3h0M448.5,660.9h0M448.5,653.7h0M448.7,703.0h0M448.8,661.2h0M448.9,707.2h0M449.2,715.5h0M449.2,690.9h0M449.6,738.4h0M449.7,727.6h0M449.9,735.3h0M449.9,712.1h0M450.3,689.9h0M450.3,661.5h0M450.4,651.3h0M450.4,703.9h0M450.4,718.2h0M450.7,724.0h0M451.0,713.5h0M451.6,737.8h0M451.8,738.6h0M451.8,652.3h0M451.8,662.7h0M451.9,687.9h0M452.2,716.2h0M452.2,682.3h0M452.3,679.4h0M452.4,701.6h0M452.5,710.2h0M452.6,737.9h0M453.2,649.2h0M453.5,713.4h0M453.6,653.6h0M453.7,677.0h0M454.0,732.6h0M454.1,670.7h0M454.2,710.6h0M454.6,698.6h0M454.6,675.1h0M455.0,692.9h0M455.0,683.2h0M455.1,707.2h0M455.1,668.5h0M455.1,688.8h0M456.0,694.7h0M456.1,732.8h0M456.1,676.6h0M456.5,642.5h0M456.8,677.0h0M456.8,666.3h0M456.9,679.0h0M457.1,647.1h0M457.1,736.1h0M457.2,687.5h0M457.2,668.9h0M457.9,708.0h0M458.0,647.1h0M458.1,716.7h0M458.3,698.9h0M458.7,703.6h0M459.0,645.4h0M459.0,715.4h0M459.1,725.3h0M459.4,729.0h0M459.5,736.9h0M459.8,726.5h0M459.9,716.0h0M460.0,734.0h0M461.0,662.4h0M461.2,667.4h0M461.3,668.9h0M461.5,653.6h0M461.6,684.8h0M461.6,677.7h0M462.1,724.6h0M462.1,643.7h0M462.5,731.4h0M462.7,654.7h0M462.7,727.4h0M463.3,644.9h0M463.3,681.7h0M463.4,711.7h0M463.5,713.6h0M463.5,689.8h0M464.3,706.5h0M464.3,652.2h0M464.5,676.4h0M464.6,685.8h0M464.8,730.5h0M464.9,694.1h0M464.9,691.9h0M465.2,654.2h0M465.3,706.5h0M465.3,712.5h0M465.5,688.0h0M465.7,714.3h0M465.7,687.7h0M465.7,677.2h0M465.8,644.0h0M465.8,683.0h0M466.1,726.2h0M466.2,690.2h0M466.4,727.2h0M467.0,731.5h0M467.1,657.1h0M467.7,649.0h0M467.8,708.4h0M468.0,677.1h0M468.5,668.9h0M468.7,716.5h0M468.7,673.5h0M468.8,692.8h0M468.9,682.7h0M468.9,649.9h0M469.0,654.9h0M469.7,665.5h0M469.8,712.0h0M470.0,665.4h0M470.4,697.7h0M470.5,698.0h0M470.6,665.4h0M471.0,680.9h0M471.5,657.7h0M471.5,646.6h0M471.8,691.6h0M471.8,645.8h0M472.2,685.6h0M472.6,645.5h0M472.8,652.3h0M473.0,695.7h0M473.2,661.4h0M473.9,651.7h0M473.9,701.8h0M473.9,647.8h0M474.0,698.7h0M474.5,704.8h0M474.5,698.1h0M474.9,652.5h0M475.2,664.5h0M475.2,642.1h0M475.5,686.7h0M476.0,682.2h0M476.1,660.7h0M476.1,723.8h0M476.2,649.6h0M476.3,648.8h0M476.4,695.6h0M476.6,657.1h0M476.6,684.3h0M476.9,680.5h0M477.0,720.4h0M477.1,665.0h0M477.2,688.0h0M477.7,689.5h0M477.9,677.9h0M478.2,713.3h0M478.3,651.2h0M478.4,672.5h0M478.8,664.5h0M479.0,696.3h0M479.7,651.8h0M480.0,670.4h0M480.0,695.3h0M480.4,691.0h0M480.4,723.7h0M480.5,695.4h0M480.8,663.9h0M480.9,669.6h0M480.9,647.4h0M481.2,676.3h0M481.6,647.2h0M481.7,657.0h0M482.3,707.6h0M482.8,683.9h0M482.8,676.4h0M482.8,644.2h0M483.0,665.9h0M483.0,684.2h0M483.6,719.8h0M483.7,650.4h0M484.0,651.4h0M484.2,648.9h0M485.1,686.2h0M485.2,664.1h0M485.4,721.0h0M485.5,659.0h0M485.7,716.4h0M485.8,693.3h0M486.3,668.3h0M486.6,684.6h0M486.7,646.3h0M487.2,679.3h0M487.4,715.5h0M487.5,682.0h0M487.6,701.5h0M487.7,679.6h0M488.0,690.2h0M488.0,658.2h0M488.2,700.0h0M488.3,721.4h0M488.3,655.3h0M488.3,677.5h0M488.5,710.1h0M488.6,697.5h0M488.6,688.1h0M488.6,670.3h0M488.6,699.2h0M488.7,702.6h0M488.8,688.9h0M489.0,680.7h0M489.4,714.6h0M489.5,668.3h0M489.9,652.4h0M490.0,674.6h0M490.8,652.0h0M491.0,701.0h0M491.3,642.1h0M491.9,666.2h0M492.3,693.1h0M492.4,706.7h0M492.6,668.2h0M492.9,680.8h0M493.2,689.2h0M493.5,654.2h0M493.7,642.1h0M494.0,700.9h0M494.4,645.3h0M494.5,678.4h0M494.5,657.4h0M495.3,706.4h0M495.4,704.6h0M495.6,671.0h0M495.8,659.2h0M495.9,642.8h0M496.1,685.7h0M496.4,679.7h0M496.5,664.9h0M496.8,669.8h0M497.0,698.5h0M497.1,693.1h0M497.1,661.4h0M497.5,653.0h0M497.5,643.1h0M497.8,649.9h0M497.9,674.5h0M498.3,677.1h0M498.4,643.8h0M498.7,698.2h0M498.9,702.9h0M499.1,694.1h0M499.5,686.7h0M499.5,706.0h0M500.5,656.4h0M500.5,666.3h0M500.5,668.3h0M500.5,657.7h0M500.5,672.6h0M500.6,693.9h0M500.7,653.8h0M501.4,705.0h0M501.6,657.2h0M501.7,673.6h0M501.8,643.8h0M501.9,695.6h0M502.2,701.8h0M502.4,694.9h0M502.9,705.1h0M503.2,670.5h0M503.4,686.9h0M503.9,690.4h0M504.0,654.9h0M504.1,658.9h0M504.3,693.8h0M504.3,677.9h0M504.7,666.5h0M504.8,682.5h0M504.8,651.6h0M504.9,642.5h0M504.9,670.3h0M505.0,642.4h0M505.1,705.6h0M505.9,663.4h0M507.0,647.1h0M507.0,642.4h0M507.1,680.8h0M507.6,672.5h0M508.3,670.5h0M509.4,679.7h0M509.7,652.5h0M509.9,669.0h0M510.6,655.9h0M510.8,691.4h0M510.8,674.4h0M510.9,682.1h0M511.3,647.7h0M511.8,666.2h0M512.0,692.7h0M512.6,660.1h0M513.1,649.2h0M513.4,646.8h0M513.8,694.4h0M514.3,644.3h0M514.6,668.5h0M514.8,650.5h0M514.9,667.2h0M515.0,679.8h0M515.1,658.3h0M515.1,659.0h0M516.2,658.8h0M516.3,661.5h0M517.5,650.1h0M517.7,655.7h0M518.1,666.6h0M518.2,683.4h0M518.4,675.8h0M518.6,682.9h0M518.6,657.1h0M518.8,658.7h0M519.5,667.6h0M519.7,667.7h0M520.4,669.2h0M520.7,671.7h0M521.1,663.9h0M521.3,656.2h0M521.6,676.5h0M521.7,662.7h0M522.1,668.3h0M522.2,664.7h0M522.7,655.8h0M522.8,671.1h0M523.8,657.8h0M523.8,667.3h0M523.9,667.6h0M524.0,664.3h0M524.0,662.3h0M524.5,665.2h0M525.3,670.5h0M525.7,670.6h0M525.8,664.6h0M526.0,667.0h0" stroke="#000" stroke-width="6.6" stroke-linecap="round" fill="none"/>
</g>
<g id="pd">
<text x="584.3" y="592.2" class="lab" style="font-size:24.5px">d</text>
<line x1="838.32" x2="838.32" y1="555.6" y2="923.5" stroke="#dcdcdc" stroke-width="0.9"/>
<line x1="871.34" x2="871.34" y1="555.6" y2="923.5" stroke="#dcdcdc" stroke-width="0.9"/>
<line x1="904.36" x2="904.36" y1="555.6" y2="923.5" stroke="#dcdcdc" stroke-width="0.9"/>
<line x1="937.38" x2="937.38" y1="555.6" y2="923.5" stroke="#dcdcdc" stroke-width="0.9"/>
<line x1="970.40" x2="970.40" y1="555.6" y2="923.5" stroke="#dcdcdc" stroke-width="0.9"/>
<line x1="1003.42" x2="1003.42" y1="555.6" y2="923.5" stroke="#dcdcdc" stroke-width="0.9"/>
<line x1="1036.44" x2="1036.44" y1="555.6" y2="923.5" stroke="#dcdcdc" stroke-width="0.9"/>
<line x1="1069.46" x2="1069.46" y1="555.6" y2="923.5" stroke="#dcdcdc" stroke-width="0.9"/>
<line x1="1102.48" x2="1102.48" y1="555.6" y2="923.5" stroke="#dcdcdc" stroke-width="0.9"/>
<line x1="805.3" x2="1135.5" y1="564.30" y2="564.30" stroke="#dcdcdc" stroke-width="0.9"/>
<line x1="805.3" x2="1135.5" y1="582.71" y2="582.71" stroke="#dcdcdc" stroke-width="0.9"/>
<line x1="805.3" x2="1135.5" y1="601.12" y2="601.12" stroke="#dcdcdc" stroke-width="0.9"/>
<line x1="805.3" x2="1135.5" y1="619.53" y2="619.53" stroke="#dcdcdc" stroke-width="0.9"/>
<line x1="805.3" x2="1135.5" y1="637.94" y2="637.94" stroke="#dcdcdc" stroke-width="0.9"/>
<line x1="805.3" x2="1135.5" y1="656.35" y2="656.35" stroke="#dcdcdc" stroke-width="0.9"/>
<line x1="805.3" x2="1135.5" y1="674.76" y2="674.76" stroke="#dcdcdc" stroke-width="0.9"/>
<line x1="805.3" x2="1135.5" y1="693.17" y2="693.17" stroke="#dcdcdc" stroke-width="0.9"/>
<line x1="805.3" x2="1135.5" y1="711.58" y2="711.58" stroke="#dcdcdc" stroke-width="0.9"/>
<line x1="805.3" x2="1135.5" y1="729.99" y2="729.99" stroke="#dcdcdc" stroke-width="0.9"/>
<line x1="805.3" x2="1135.5" y1="748.40" y2="748.40" stroke="#dcdcdc" stroke-width="0.9"/>
<line x1="805.3" x2="1135.5" y1="766.81" y2="766.81" stroke="#dcdcdc" stroke-width="0.9"/>
<line x1="805.3" x2="1135.5" y1="785.22" y2="785.22" stroke="#dcdcdc" stroke-width="0.9"/>
<line x1="805.3" x2="1135.5" y1="803.63" y2="803.63" stroke="#dcdcdc" stroke-width="0.9"/>
<line x1="805.3" x2="1135.5" y1="822.04" y2="822.04" stroke="#dcdcdc" stroke-width="0.9"/>
<line x1="805.3" x2="1135.5" y1="840.45" y2="840.45" stroke="#dcdcdc" stroke-width="0.9"/>
<line x1="805.3" x2="1135.5" y1="858.86" y2="858.86" stroke="#dcdcdc" stroke-width="0.9"/>
<line x1="805.3" x2="1135.5" y1="877.27" y2="877.27" stroke="#dcdcdc" stroke-width="0.9"/>
<line x1="805.3" x2="1135.5" y1="895.68" y2="895.68" stroke="#dcdcdc" stroke-width="0.9"/>
<line x1="805.3" x2="1135.5" y1="914.09" y2="914.09" stroke="#dcdcdc" stroke-width="0.9"/>
<rect x="805.3" y="555.6" width="330.20" height="367.90" fill="none" stroke="#333" stroke-width="1.1"/>
<line x1="801.8" x2="805.3" y1="564.30" y2="564.30" stroke="#333" stroke-width="0.9"/>
<text x="797.6" y="567.40" class="dl">Starch and sucrose metabolism</text>
<line x1="801.8" x2="805.3" y1="582.71" y2="582.71" stroke="#333" stroke-width="0.9"/>
<text x="797.6" y="585.81" class="dl">Zeatin biosynthesis</text>
<line x1="801.8" x2="805.3" y1="601.12" y2="601.12" stroke="#333" stroke-width="0.9"/>
<text x="797.6" y="604.22" class="dl">Plant hormone signal transduction</text>
<line x1="801.8" x2="805.3" y1="619.53" y2="619.53" stroke="#333" stroke-width="0.9"/>
<text x="797.6" y="622.63" class="dl">Pentose and glucuronate interconversions</text>
<line x1="801.8" x2="805.3" y1="637.94" y2="637.94" stroke="#333" stroke-width="0.9"/>
<text x="797.6" y="641.04" class="dl">Amino sugar and nucleotide sugar metaboli...</text>
<line x1="801.8" x2="805.3" y1="656.35" y2="656.35" stroke="#333" stroke-width="0.9"/>
<text x="797.6" y="659.45" class="dl">Biosynthesis of nucleotide sugars</text>
<line x1="801.8" x2="805.3" y1="674.76" y2="674.76" stroke="#333" stroke-width="0.9"/>
<text x="797.6" y="677.86" class="dl">Cutin, suberine and wax biosynthesis</text>
<line x1="801.8" x2="805.3" y1="693.17" y2="693.17" stroke="#333" stroke-width="0.9"/>
<text x="797.6" y="696.27" class="dl">Fructose and mannose metabolism</text>
<line x1="801.8" x2="805.3" y1="711.58" y2="711.58" stroke="#333" stroke-width="0.9"/>
<text x="797.6" y="714.68" class="dl">Other glycan degradation</text>
<line x1="801.8" x2="805.3" y1="729.99" y2="729.99" stroke="#333" stroke-width="0.9"/>
<text x="797.6" y="733.09" class="dl">Sphingolipid metabolism</text>
<line x1="801.8" x2="805.3" y1="748.40" y2="748.40" stroke="#333" stroke-width="0.9"/>
<text x="797.6" y="751.50" class="dl">Flavonoid biosynthesis</text>
<line x1="801.8" x2="805.3" y1="766.81" y2="766.81" stroke="#333" stroke-width="0.9"/>
<text x="797.6" y="769.91" class="dl">Phenylpropanoid biosynthesis</text>
<line x1="801.8" x2="805.3" y1="785.22" y2="785.22" stroke="#333" stroke-width="0.9"/>
<text x="797.6" y="788.32" class="dl">Carotenoid biosynthesis</text>
<line x1="801.8" x2="805.3" y1="803.63" y2="803.63" stroke="#333" stroke-width="0.9"/>
<text x="797.6" y="806.73" class="dl">Pentose phosphate pathway</text>
<line x1="801.8" x2="805.3" y1="822.04" y2="822.04" stroke="#333" stroke-width="0.9"/>
<text x="797.6" y="825.14" class="dl">Glycolysis / Gluconeogenesis</text>
<line x1="801.8" x2="805.3" y1="840.45" y2="840.45" stroke="#333" stroke-width="0.9"/>
<text x="797.6" y="843.55" class="dl">Tropane, piperidine and pyridine alkaloid bi...</text>
<line x1="801.8" x2="805.3" y1="858.86" y2="858.86" stroke="#333" stroke-width="0.9"/>
<text x="797.6" y="861.96" class="dl">Cyanoamino acid metabolism</text>
<line x1="801.8" x2="805.3" y1="877.27" y2="877.27" stroke="#333" stroke-width="0.9"/>
<text x="797.6" y="880.37" class="dl">Circadian rhythm - plant</text>
<line x1="801.8" x2="805.3" y1="895.68" y2="895.68" stroke="#333" stroke-width="0.9"/>
<text x="797.6" y="898.78" class="dl">Biosynthesis of various plant secondary met...</text>
<line x1="801.8" x2="805.3" y1="914.09" y2="914.09" stroke="#333" stroke-width="0.9"/>
<text x="797.6" y="917.19" class="dl">MAPK signaling pathway - plant</text>
<line x1="805.30" x2="805.30" y1="923.5" y2="926.5" stroke="#333" stroke-width="0.9"/>
<text x="805.30" y="936.00" class="dx">0</text>
<line x1="838.32" x2="838.32" y1="923.5" y2="926.5" stroke="#333" stroke-width="0.9"/>
<text x="838.32" y="936.00" class="dx">0.01</text>
<line x1="871.34" x2="871.34" y1="923.5" y2="926.5" stroke="#333" stroke-width="0.9"/>
<text x="871.34" y="936.00" class="dx">0.02</text>
<line x1="904.36" x2="904.36" y1="923.5" y2="926.5" stroke="#333" stroke-width="0.9"/>
<text x="904.36" y="936.00" class="dx">0.03</text>
<line x1="937.38" x2="937.38" y1="923.5" y2="926.5" stroke="#333" stroke-width="0.9"/>
<text x="937.38" y="936.00" class="dx">0.04</text>
<line x1="970.40" x2="970.40" y1="923.5" y2="926.5" stroke="#333" stroke-width="0.9"/>
<text x="970.40" y="936.00" class="dx">0.05</text>
<line x1="1003.42" x2="1003.42" y1="923.5" y2="926.5" stroke="#333" stroke-width="0.9"/>
<text x="1003.42" y="936.00" class="dx">0.06</text>
<line x1="1036.44" x2="1036.44" y1="923.5" y2="926.5" stroke="#333" stroke-width="0.9"/>
<text x="1036.44" y="936.00" class="dx">0.07</text>
<line x1="1069.46" x2="1069.46" y1="923.5" y2="926.5" stroke="#333" stroke-width="0.9"/>
<text x="1069.46" y="936.00" class="dx">0.08</text>
<line x1="1102.48" x2="1102.48" y1="923.5" y2="926.5" stroke="#333" stroke-width="0.9"/>
<text x="1102.48" y="936.00" class="dx">0.09</text>
<line x1="1135.50" x2="1135.50" y1="923.5" y2="926.5" stroke="#333" stroke-width="0.9"/>
<text x="1135.50" y="936.00" class="dx">0.1</text>
<text x="970.40" y="949.5" class="dax">Rich Factor</text>
<text transform="translate(604.5,740) rotate(-90)" class="day">KEGG pathway</text>
<circle cx="875.30" cy="564.30" r="7.3" fill="#ff0000"/>
<circle cx="1097.53" cy="582.71" r="3.9" fill="#ff0000"/>
<circle cx="857.14" cy="601.12" r="6.0" fill="#ff0000"/>
<circle cx="939.69" cy="619.53" r="4.0" fill="#ff0000"/>
<circle cx="864.74" cy="637.94" r="5.0" fill="#ff0000"/>
<circle cx="877.28" cy="656.35" r="4.4" fill="#ff0000"/>
<circle cx="891.15" cy="674.76" r="4.3" fill="#ff0000"/>
<circle cx="872.66" cy="693.17" r="3.9" fill="#ff0000"/>
<circle cx="907.99" cy="711.58" r="2.9" fill="#f80007"/>
<circle cx="877.28" cy="729.99" r="3.0" fill="#f80007"/>
<circle cx="864.74" cy="748.40" r="3.0" fill="#f1000e"/>
<circle cx="841.62" cy="766.81" r="3.7" fill="#f1000e"/>
<circle cx="890.82" cy="785.22" r="2.4" fill="#ee0011"/>
<circle cx="850.87" cy="803.63" r="3.2" fill="#e3001c"/>
<circle cx="826.76" cy="822.04" r="4.2" fill="#b80047"/>
<circle cx="853.18" cy="840.45" r="2.8" fill="#aa0055"/>
<circle cx="832.38" cy="858.86" r="2.8" fill="#2a00d4"/>
<circle cx="831.06" cy="877.27" r="2.8" fill="#2a00d4"/>
<circle cx="829.40" cy="895.68" r="2.8" fill="#2a00d4"/>
<circle cx="821.81" cy="914.09" r="3.6" fill="#1500ea"/>
<text x="1149.3" y="631.3" class="lgb">Padjust</text>
<defs><linearGradient id="pg" x1="0" y1="0" x2="0" y2="1"><stop offset="0" stop-color="#0000ff"/><stop offset="0.5" stop-color="#7a0090"/><stop offset="1" stop-color="#ff0000"/></linearGradient></defs>
<rect x="1152.5" y="641.8" width="15.7" height="76.7" fill="url(#pg)"/>
<line x1="1168.2" x2="1170.5" y1="655.7" y2="655.7" stroke="#bbb" stroke-width="0.6"/>
<text x="1172" y="658.5" class="lgs">0.150</text>
<line x1="1168.2" x2="1170.5" y1="676.6" y2="676.6" stroke="#bbb" stroke-width="0.6"/>
<text x="1172" y="679.4" class="lgs">0.100</text>
<line x1="1168.2" x2="1170.5" y1="697.5" y2="697.5" stroke="#bbb" stroke-width="0.6"/>
<text x="1172" y="700.3" class="lgs">0.0500</text>
<line x1="1168.2" x2="1170.5" y1="718.5" y2="718.5" stroke="#bbb" stroke-width="0.6"/>
<text x="1172" y="721.3" class="lgs">0.00</text>
<text x="1149.3" y="744.8" class="lgb">Number</text>
<circle cx="1152.6" cy="756.6" r="2.3" fill="#000"/>
<text x="1166" y="759.8" class="lgn">2</text>
<circle cx="1152.6" cy="770.2" r="4.1" fill="#000"/>
<text x="1166" y="773.4" class="lgn">7</text>
<circle cx="1152.6" cy="784.5" r="5.9" fill="#000"/>
<text x="1166" y="787.7" class="lgn">13</text>
<circle cx="1152.6" cy="801.6" r="7.3" fill="#000"/>
<text x="1166" y="804.8" class="lgn">18</text>
</g>
</g>
</svg></body></html>
